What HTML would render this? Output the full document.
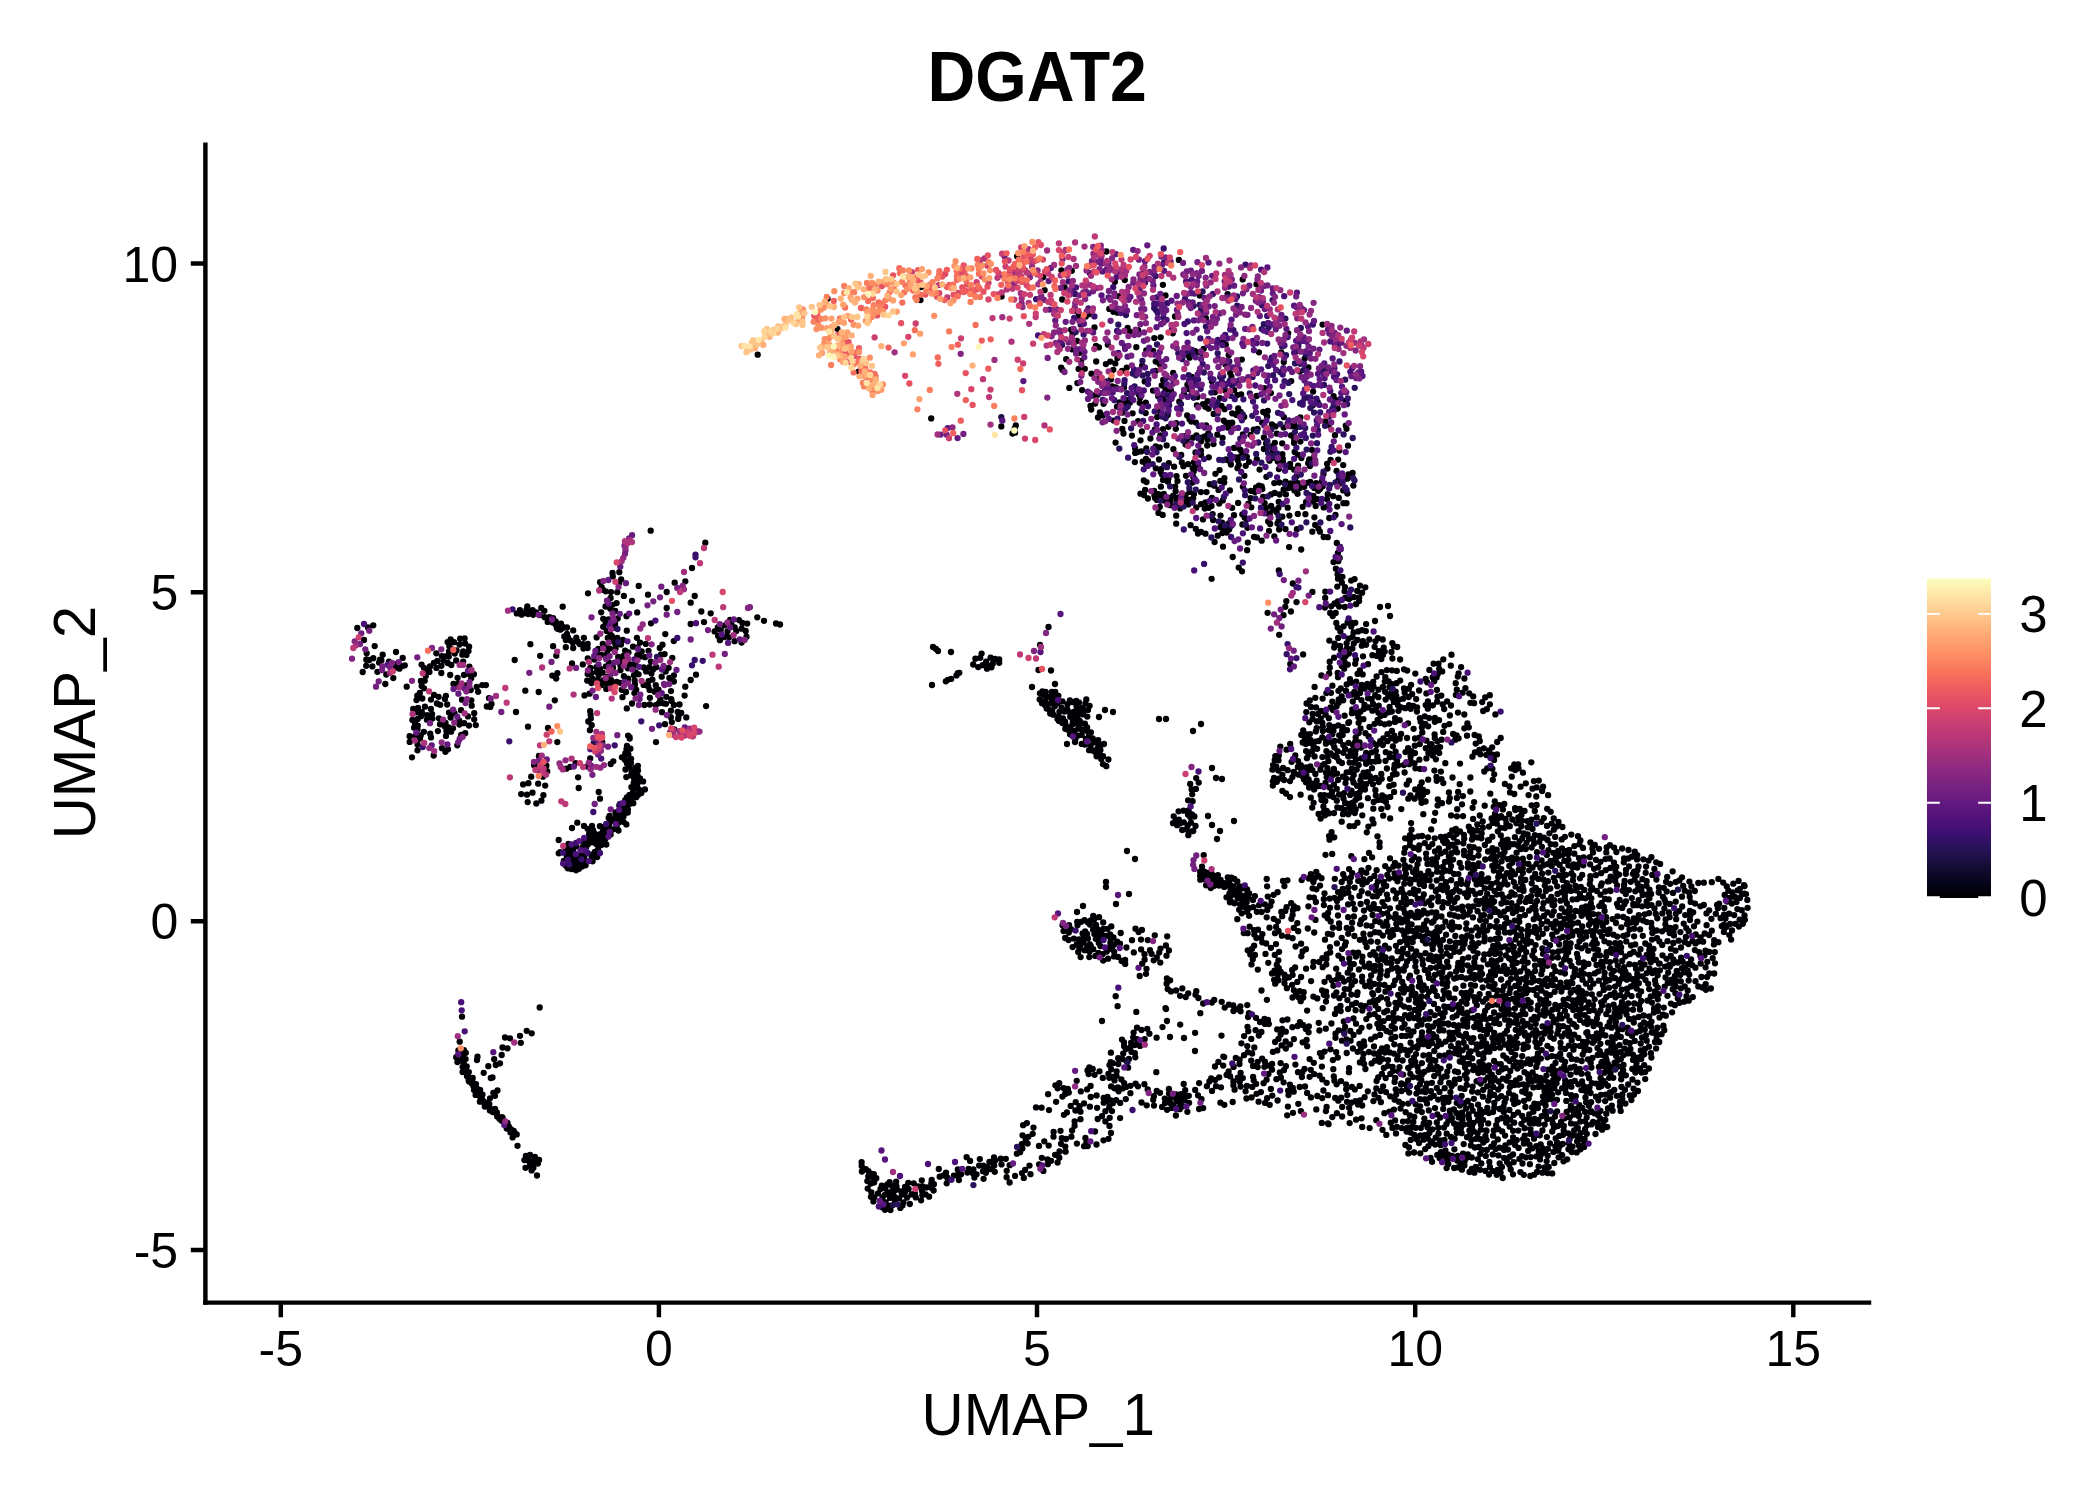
<!DOCTYPE html>
<html><head><meta charset="utf-8"><title>DGAT2</title>
<style>
html,body{margin:0;padding:0;background:#fff;}
body{width:2100px;height:1500px;overflow:hidden;font-family:"Liberation Sans",sans-serif;}
svg{display:block;}
text{font-family:"Liberation Sans",sans-serif;fill:#000;}
</style></head><body>
<svg width="2100" height="1500" viewBox="0 0 2100 1500">
<defs>
<linearGradient id="mg" x1="0" y1="1" x2="0" y2="0">
<stop offset="0.0000" stop-color="#000004"/>
<stop offset="0.0500" stop-color="#06051a"/>
<stop offset="0.1000" stop-color="#140e36"/>
<stop offset="0.1500" stop-color="#251255"/>
<stop offset="0.2000" stop-color="#3b0f70"/>
<stop offset="0.2500" stop-color="#51127c"/>
<stop offset="0.3000" stop-color="#641a80"/>
<stop offset="0.3500" stop-color="#782281"/>
<stop offset="0.4000" stop-color="#8c2981"/>
<stop offset="0.4500" stop-color="#a1307e"/>
<stop offset="0.5000" stop-color="#b73779"/>
<stop offset="0.5500" stop-color="#ca3e72"/>
<stop offset="0.6000" stop-color="#de4968"/>
<stop offset="0.6500" stop-color="#ed5a5f"/>
<stop offset="0.7000" stop-color="#f7705c"/>
<stop offset="0.7500" stop-color="#fc8961"/>
<stop offset="0.8000" stop-color="#fe9f6d"/>
<stop offset="0.8500" stop-color="#feb77e"/>
<stop offset="0.9000" stop-color="#fecf92"/>
<stop offset="0.9500" stop-color="#fde7a9"/>
<stop offset="1.0000" stop-color="#fcfdbf"/>
</linearGradient>
</defs>
<rect width="2100" height="1500" fill="#fff"/>
<g id="pts" fill="none" stroke-linecap="round" stroke-width="6.3">
<path stroke="#000004" d="M1001.6 296.6h0M921.1 287h0M920.5 300.1h0M858.6 371.7h0M837.4 328.8h0M931.2 418.4h0M1001.3 426.4h0M1015.8 425.4h0M1015.1 432.7h0M1014.7 428.5h0M1012.5 433.5h0M757.7 354.7h0M827.6 298.7h0M1189.6 357.7h0M1298.8 483.3h0M1295.5 481.9h0M1290.6 483.3h0M1123.9 404.9h0M1294.5 490.5h0M1162.2 398h0M1299.8 488.1h0M1124 401.7h0M1225.8 344.7h0M1129.8 402.8h0M1220.5 515.6h0M1135.1 448.2h0M1186.1 354.6h0M1276.6 512.2h0M1085.8 316.6h0M1279.3 482.5h0M1339.8 483.5h0M1304.2 486.8h0M1185.1 503.7h0M1209.8 484.2h0M1126.8 367.6h0M1096 345.9h0M1304.7 358.6h0M1188.3 504.4h0M1110.9 379.4h0M1244.2 417h0M1088.8 314.2h0M1196.4 467.8h0M1213.1 520h0M1230.2 373.1h0M1140.2 397.8h0M1288.5 488h0M1103 415.5h0M1159.8 507h0M1263.1 496.9h0M1176.5 476.1h0M1207.6 401.2h0M1193.7 471.4h0M1246.9 456.9h0M1222.7 342.2h0M1315.2 524.9h0M1170.1 500.8h0M1313.4 496h0M1142.2 365.7h0M1263.9 449h0M1247.4 527.8h0M1343.2 490.4h0M1299.8 371.6h0M1113.6 420.6h0M1170.9 390.3h0M1205.5 502.5h0M1140.5 493.7h0M1188.4 353.7h0M1313.3 501.6h0M1314.4 517.3h0M1178.9 259.9h0M1296.4 476.5h0M1269.5 460.7h0M1329.3 518h0M1170.2 505.2h0M1275.5 426.4h0M1176.2 515.7h0M1265.9 508h0M1155.8 468.3h0M1274.7 492.9h0M1188.6 389.1h0M1317.6 402h0M1327.1 463.8h0M1144.7 381.4h0M1091.2 409.5h0M1228.5 460.4h0M1272.8 451h0M1176.2 523.7h0M1159.7 364.1h0M1162.9 284.8h0M1312.6 405.6h0M1205.3 406.8h0M1185.9 501.1h0M1084.8 368.8h0M1098 417.5h0M1079.8 352.8h0M1168.4 426.8h0M1146.3 350.4h0M1282.9 461.6h0M1122.5 412.6h0M1230.9 464.5h0M1134.9 462.1h0M1318.2 490.8h0M1242.9 434.3h0M1153 390.6h0M1297.6 493.8h0M1072.6 334h0M1222.4 533.1h0M1192.9 437.7h0M1078.2 318.2h0M1138.1 330.2h0M1297.7 454.6h0M1174.1 466.7h0M1158.2 396.2h0M1296.6 351.3h0M1082.1 390.1h0M1270.9 458.4h0M1191.6 376.9h0M1328.7 425.3h0M1251.3 507.3h0M1143.9 271.9h0M1197.3 352.4h0M1249.1 461.8h0M1283.7 427.6h0M1169.7 498h0M1187.2 415.5h0M1267.1 416.5h0M1262.3 489h0M1154.1 491h0M1119.6 402.4h0M1234.2 390.1h0M1189.5 491.9h0M1225 390.2h0M1291.5 426.2h0M1317.4 499.1h0M1145.8 402.6h0M1336.8 543h0M1294.2 440.1h0M1164.2 500.5h0M1187.4 384.7h0M1124.5 420.9h0M1237.3 395.1h0M1162.7 514.9h0M1168.8 463.1h0M1154.8 429.6h0M1232.2 422.7h0M1276.8 433.7h0M1272.5 509.5h0M1199.7 295.6h0M1338.6 479.6h0M1313.2 458.1h0M1156.8 499.9h0M1095.2 403.6h0M1069.3 387.9h0M1161.7 385.3h0M1346.5 428.8h0M1125.6 399.7h0M1161.4 468.8h0M1213.7 413.9h0M1193.9 462.3h0M1228 427.7h0M1211.9 381.3h0M1143.8 480.5h0M1227.6 526h0M1217.7 535.7h0M1282.3 516.7h0M1185.5 495.3h0M1158.5 512.9h0M1195.5 452.5h0M1285.9 494.4h0M1274.8 442.8h0M1264.6 503.1h0M1323.5 474h0M1352.6 472.9h0M1090.5 405.9h0M1301.4 458h0M1155.7 446.5h0M1225.5 364.5h0M1078.6 368.9h0M1283.9 417.2h0M1222.8 500.4h0M1253.7 429.6h0M1271.9 424.3h0M1173.2 373h0M1115.6 442.6h0M1316.2 483.1h0M1192.5 482.5h0M1240.9 456.2h0M1191.3 421.5h0M1140.5 440.3h0M1309.9 466.1h0M1214.3 485.7h0M1072.4 349.4h0M1266.1 443.5h0M1217.3 434.7h0M1201.9 437.6h0M1219.9 398.2h0M1211.9 497.9h0M1189.6 419.5h0M1219.2 503.5h0M1188.1 464.1h0M1172.8 333.3h0M1195.2 465h0M1228.9 422.8h0M1078.7 313.6h0M1224.6 409.2h0M1186.9 439.3h0M1242.9 486.8h0M1285.5 529.1h0M1327.7 494.2h0M1186 475.8h0M1269.8 514.2h0M1099.9 412.4h0M1196.5 435.5h0M1256.7 396h0M1175.6 491.2h0M1307.2 482.8h0M1075 310.6h0M1335.5 515h0M1346.5 503.2h0M1167.7 415h0M1314.3 487.9h0M1319.9 531.7h0M1296.9 529.2h0M1162.1 474.4h0M1113.4 311.8h0M1219.6 470.1h0M1145.1 490h0M1154.4 495.2h0M1159.9 497h0M1231.4 376.3h0M1176.5 500.5h0M1218.5 489.9h0M1138.8 394.6h0M1279.6 494.5h0M1312 450h0M1173.1 496h0M1271.1 506h0M1248.4 503.6h0M1138.1 421.1h0M1323.7 507.4h0M1163 429.1h0M1159 459.5h0M1240.6 412h0M1204.9 436.5h0M1266.1 414.1h0M1238.8 464.8h0M1282.2 443.3h0M1064.6 287.1h0M1203 404.1h0M1263.9 437.5h0M1277.8 461.4h0M1098.9 377.8h0M1282.4 454.1h0M1220.4 527.2h0M1282.8 458.6h0M1232.1 507.9h0M1207.8 439.8h0M1279.1 529.5h0M1096.2 361.5h0M1184 393.8h0M1113.3 369.8h0M1112.1 386.3h0M1298.1 465.6h0M1234 515.2h0M1188 499.6h0M1345.9 401h0M1109.3 308.9h0M1325.4 421.4h0M1183.4 466.2h0M1198 533.6h0M1144 495h0M1294.7 451.9h0M1348 445.7h0M1333.6 396.1h0M1270.9 393.1h0M1291.1 435.4h0M1283.6 489.7h0M1140.8 393.1h0M1201.1 504.2h0M1228.7 355.2h0M1175.8 428.8h0M1124 387.5h0M1166.6 445.4h0M1274.3 483.1h0M1222.1 522.7h0M1123.5 433.5h0M1285.5 481.7h0M1201 455h0M1137.6 452.1h0M1229.9 490.4h0M1135.2 452.9h0M1330.6 459.8h0M1062.2 299.5h0M1160.7 472.1h0M1237.5 468.2h0M1327.8 506.2h0M1250.6 498.2h0M1173.4 449.2h0M1136.3 347.2h0M1215 392.3h0M1220.3 480.9h0M1141.9 431.4h0M1226.1 459.5h0M1197.5 397h0M1204.8 508.6h0M1291.2 487.4h0M1155.6 371h0M1237.8 412.8h0M1107.8 344.7h0M1163.2 379.9h0M1237.8 460.2h0M1099 347.3h0M1224.2 482.5h0M1281.2 352.3h0M1347.3 478.7h0M1227.6 294.1h0M1337.6 346.2h0M1195.8 528.9h0M1196.3 507.5h0M1322.6 324.6h0M1139.7 402.8h0M1244.6 517.4h0M1117 406.7h0M1201 450.7h0M1323.7 537h0M1256.8 459.1h0M1165.7 401.4h0M1206.1 425.3h0M1163.8 494h0M1338.2 459.6h0M1165.4 389.9h0M1180.2 508.4h0M1241.2 394.3h0M1222.6 437.8h0M1283.8 361.9h0M1129.8 331.7h0M1229.2 529.5h0M1044.6 290.2h0M1266.4 476.8h0M1212.6 514.1h0M1105.9 364.1h0M1179.3 401.7h0M1146 459h0M1175 316.5h0M1308.2 463.2h0M1177.5 481.1h0M1297.8 513.9h0M1167.9 481.7h0M1337.2 506.6h0M1231 427h0M1214.6 542h0M1193.8 383.6h0M1336.6 471h0M1315.7 506h0M1226.6 532.6h0M1145.7 413.1h0M1192.7 468.1h0M1228.7 523.5h0M1150.4 438.5h0M1278.9 469.1h0M1339.3 450.5h0M1146.1 464.2h0M1268.2 521.4h0M1124.8 280.1h0M1294 442.9h0M1348.4 474.4h0M1322.7 486.3h0M1275.5 458h0M1147.9 498.5h0M1176.2 423.2h0M1259.6 469.6h0M1117.4 357.9h0M1300.4 441.6h0M1278.4 507.8h0M1242.7 279.4h0M1337.7 408.6h0M1305.4 514.2h0M1223.5 529.8h0M1110.3 361.6h0M1256.1 487.4h0M1335 435.2h0M1158.5 494.1h0M1278.7 501.8h0M1309.2 459.5h0M1294.2 469.7h0M1333.2 496.2h0M1269.1 531h0M1200.9 492.1h0M1165.5 295.4h0M1117.4 312.7h0M1238.2 447.7h0M1236.1 457.4h0M1175.2 486.6h0M1181.8 462.5h0M1195.1 351.2h0M1263.2 411.9h0M1103.6 403.8h0M1106.1 386h0M1308.4 367.4h0M1224.4 478.1h0M1071.8 270.8h0M1264.6 388.1h0M1221.5 405.9h0M1168.4 478.7h0M1278.6 521h0M1320 489h0M1310.3 481.8h0M1211.5 506h0M1274.3 536.3h0M1345.8 425.7h0M1160.7 337.3h0M1338.8 497.9h0M1291.2 381.1h0M1061.4 270.3h0M1141.2 451.4h0M1256.9 537.4h0M1208.8 457.3h0M1208.8 507.8h0M1207.2 445.5h0M1240.5 450h0M1294.1 424.7h0M1142.7 461.7h0M1076.9 341h0M1146.3 448.4h0M1160.4 435.3h0M1250.5 434.9h0M1155.7 361.6h0M1193.2 498.2h0M1288.2 333.3h0M1122 371h0M1327.8 537.2h0M1017.1 256.3h0M1131.9 435.6h0M1148 461h0M1238.1 502.9h0M1242.3 514.3h0M1267.4 513.4h0M1261.7 486.3h0M1234 447.9h0M1257.6 428.9h0M1066.2 359.2h0M1093.3 395.4h0M1115.8 387.4h0M1205.9 318.2h0M1094.5 327.4h0M1155.1 498.1h0M1327.5 468.6h0M1122.3 428.9h0M1185.6 444.6h0M1154.3 338.1h0M1262 422.6h0M1181.2 454.9h0M1071.2 329.7h0M1296.3 427.2h0M1256.5 284.3h0M1160.1 411.4h0M1290.1 466.9h0M1215.4 473.8h0M1242.4 524.5h0M1223.8 420.7h0M1270.2 524h0M1267.8 411h0M1081 360.8h0M1353.4 485.6h0M1160.9 486.7h0M1254.8 491.9h0M1271 494.4h0M1106.4 251.5h0M1201 531.9h0M1318.4 528.6h0M1290.1 463.8h0M1195.9 422.6h0M1306.1 502h0M1043.3 277h0M1302.7 506.9h0M1097.7 394.7h0M1343.4 503.2h0M1208.3 433.3h0M1205.5 533.7h0M1322 481.3h0M1236.4 414.9h0M1206.5 492.1h0M1343.2 465.1h0M1114.9 281.8h0M1184.3 436.1h0M1197.9 465h0M1127.7 327.9h0M1289.4 515.6h0M1261.7 540.7h0M1238.2 408.3h0M1203.7 348.8h0M1213.5 444.1h0M1226.1 422.7h0M1313.1 391.6h0M1062.5 370h0M1132.6 413.3h0M1250.8 490.8h0M1312.3 531.7h0M1245.7 465.8h0M1091.5 373.7h0M1254 536.8h0M1115.3 363.4h0M1287.7 507.7h0M1196.9 405.3h0M1178.5 497.4h0M1335.6 400h0M1223 546.7h0M1247.8 542.6h0M1246.7 519.2h0M1153.2 350.8h0M1208.6 408.7h0M1146.5 482.1h0M1118.7 296.2h0M1077.4 383.1h0M1259 352.3h0M1061.1 367.6h0M1157.2 417.1h0M1244.4 475.8h0M1258.9 485.7h0M1327 499.2h0M1190.6 525.2h0M1193.2 476.8h0M1203 519.4h0M1347.4 493.6h0M1271.5 446.3h0M1163 479.9h0M1300.4 417.4h0M1194 494.1h0M1277.5 523.5h0M1244.2 452.8h0M1241.8 359.6h0M1201.2 441.3h0M1232.2 413.3h0M1159.7 447.4h0M1337.6 574.5h0M1335.9 568.7h0M1337.9 553h0M1339.7 558h0M1338.3 561.2h0M1333.5 562.1h0M1340 546.8h0M1351.4 622.7h0M1355.3 622.8h0M1357.2 591h0M1360 585.6h0M1347.6 622.5h0M1362.1 592.7h0M1330.2 613h0M1365.3 587.3h0M1345 587.1h0M1337.3 586.6h0M1324.9 607.6h0M1353.8 597.2h0M1325.3 591.6h0M1335.7 613h0M1344.8 607h0M1343.6 626.3h0M1351.2 580.6h0M1356.1 604.2h0M1354.6 579.1h0M1325.2 598h0M1349 599h0M1341.9 582.6h0M1342.4 576.8h0M1339.1 606.6h0M1359.1 601.1h0M1344.6 591.2h0M1345.2 597.9h0M1331.2 606.3h0M1338 578.7h0M1337.9 601.3h0M1351.3 626.5h0M1359.2 597.5h0M1334.6 603.5h0M1332.7 616.1h0M1380 607h0M1388 606h0M1390 616h0M1375 621h0M1278.8 570.4h0M1292.8 583.5h0M1312.4 591.9h0M1296.5 602.1h0M1286.3 601.2h0M1285.3 606.8h0M1290.9 611.5h0M1267.6 612.8h0M1283.5 615.2h0M1279.2 634.8h0M1303.1 654.4h0M1211.6 578.8h0M1238.7 567.6h0M1242 571.3h0M1232.7 557h0M1247.1 550.2h0M1289.1 547.1h0M1301.2 549.5h0M1290.3 663.9h0M1427.2 682.3h0M1348.9 653.6h0M1409 705.2h0M1389.6 707h0M1347 648.1h0M1432.8 705.3h0M1346.6 643.3h0M1437.2 701.7h0M1333.3 744.3h0M1345.7 656h0M1368.7 736.5h0M1316.7 721.4h0M1414.5 763.3h0M1409.3 764.2h0M1373 703.9h0M1320.8 718.3h0M1328.7 730.1h0M1378.8 782h0M1377.6 720h0M1336.6 706.2h0M1353 745.2h0M1318 713.9h0M1330.6 707.3h0M1378.4 712.8h0M1333.7 755.8h0M1316.7 780.7h0M1294.4 773h0M1385.1 691.8h0M1393.9 701.9h0M1388.5 712.3h0M1429.4 669.9h0M1320.6 795.2h0M1346.7 772.3h0M1413.6 728.8h0M1325.7 714.7h0M1306.6 703.5h0M1336.8 788.8h0M1368 756.4h0M1370.7 781.1h0M1344.3 661.4h0M1348.3 814.3h0M1419.8 744.1h0M1434.2 681.2h0M1310.2 739.6h0M1397.8 705.1h0M1375.7 777.9h0M1398.7 699.8h0M1306.9 758.2h0M1428.4 753h0M1329.3 725.1h0M1355.9 659.4h0M1323.5 812.1h0M1278.4 770.5h0M1380.2 741.2h0M1410.5 760.6h0M1343.4 752.8h0M1361.3 758.5h0M1439.2 753.1h0M1357.6 673.9h0M1348.5 742.8h0M1355.9 759.5h0M1356.2 681.6h0M1359.9 670.4h0M1361.8 685h0M1276.8 781.8h0M1350.5 772h0M1398.3 765.3h0M1337.7 751.5h0M1432 749.6h0M1326.4 751.2h0M1425.7 678.8h0M1306.3 775.2h0M1313.6 746.5h0M1325.8 739.4h0M1358.3 716.9h0M1371.6 699.2h0M1415 753.1h0M1312.1 751.1h0M1344.2 668.7h0M1364.4 688.5h0M1273 765.1h0M1272.7 781.3h0M1372 768.2h0M1344.7 809.8h0M1360.5 689h0M1408.9 688.7h0M1327.4 757h0M1342.7 657.3h0M1301.3 734.9h0M1327.4 768.2h0M1374.6 723.8h0M1421.9 727.4h0M1322.4 757.1h0M1315.4 774h0M1342.8 727.2h0M1337.1 773.6h0M1295.3 755.4h0M1370.9 761.8h0M1351.8 694.5h0M1338.7 699.3h0M1434.6 734.3h0M1343.3 700.3h0M1367.4 684h0M1354.4 692h0M1359.2 797.5h0M1351.9 713.2h0M1451 705.5h0M1309.1 787.5h0M1383.3 738.4h0M1377.3 756.3h0M1392.9 746.3h0M1338.3 725.4h0M1372.9 784.3h0M1306.1 751.1h0M1340.8 650h0M1411.4 751.4h0M1363.4 719.2h0M1369.8 776.1h0M1298.7 774.7h0M1343.3 745.1h0M1353.7 806h0M1274.1 777.9h0M1387.5 741.2h0M1420.1 768.9h0M1404 688.5h0M1320.3 786h0M1315.1 741.6h0M1453.1 734h0M1401.2 707.3h0M1306 767.3h0M1356.8 696.9h0M1361.4 700.1h0M1311.7 783.7h0M1365 789.5h0M1389.4 687.1h0M1328.8 718.2h0M1356.3 713.1h0M1403.1 698.7h0M1373.3 808.7h0M1334.5 741h0M1457.8 676.6h0M1360.9 805.5h0M1405.5 752.1h0M1276.3 766.7h0M1361.6 776.2h0M1413.2 705.9h0M1360.3 711.7h0M1350.5 751.2h0M1361.1 789.5h0M1380.6 716h0M1303.2 730.3h0M1353.7 774.9h0M1376.6 744.9h0M1356.7 769.5h0M1419.3 737.7h0M1425.8 748.2h0M1417.1 707.3h0M1373.5 686.3h0M1308.4 755h0M1274.7 760.1h0M1419.1 690.5h0M1307.8 770.5h0M1427.8 708.7h0M1332.4 685.7h0M1360.5 780.5h0M1312.4 770.1h0M1323.4 806.4h0M1325.5 783h0M1339.9 740.8h0M1394.1 768.7h0M1395.1 718.1h0M1326.7 777.1h0M1436.8 747.8h0M1381.7 778.8h0M1314.6 756.4h0M1287.6 770.2h0M1406.7 784.4h0M1316.1 707.4h0M1315.3 697.8h0M1308.6 779.4h0M1309.2 742.9h0M1351.2 682.7h0M1375.2 695.1h0M1422.3 732.4h0M1434.9 717.9h0M1338.4 690.8h0M1304.9 738.6h0M1355.7 809.4h0M1331 692.8h0M1292.4 777.1h0M1393 774.7h0M1279.6 778.4h0M1391.1 693.1h0M1380.2 723.1h0M1325.9 743.7h0M1368.5 707.4h0M1347.8 664.6h0M1310.3 766.4h0M1290 781.1h0M1341.1 808.2h0M1280.3 746.6h0M1396.3 696.2h0M1389.7 757.2h0M1298.1 761.1h0M1322.6 698.6h0M1341.9 763h0M1378.3 697.2h0M1384.5 714.9h0M1390.3 796.9h0M1391.3 738h0M1393.6 784.6h0M1366.1 784.2h0M1381.3 774h0M1355.7 737.4h0M1431.6 744.1h0M1322.4 723h0M1352.8 701.5h0M1371.9 752.3h0M1382.9 687h0M1360 693.1h0M1408.7 697h0M1345.1 803h0M1339.2 735.3h0M1334 726.9h0M1341.8 666.1h0M1343 776.7h0M1375.4 790.2h0M1322.3 737.3h0M1407.2 670.6h0M1346.1 778.6h0M1424.7 716.3h0M1373.7 801.9h0M1378.1 799.9h0M1322.8 726.8h0M1344.6 715.7h0M1372.4 710.7h0M1334 813.1h0M1372.9 743h0M1389.2 723.5h0M1458 712.6h0M1355.5 800.1h0M1365.4 733.2h0M1365.7 776.7h0M1384.7 724.3h0M1394.3 735.7h0M1396.8 670.9h0M1358.7 733h0M1461.1 667.1h0M1396.5 683.2h0M1392 670.3h0M1382.2 795.3h0M1282.4 774.8h0M1440.1 747.1h0M1355.6 750.2h0M1378.4 689.7h0M1305.9 782.3h0M1395.6 751.7h0M1332.3 734.2h0M1434.8 721.8h0M1425.7 705.1h0M1437.5 696.6h0M1326 772.8h0M1415 738.5h0M1334.4 747.5h0M1349.4 807.3h0M1408.1 723.3h0M1329 741.7h0M1346.7 684.5h0M1416.9 711.5h0M1385.5 761h0M1278.5 760.4h0M1386.9 670.1h0M1338.1 780h0M1362.5 783.9h0M1441.3 695.6h0M1445.3 763.2h0M1351.6 755.6h0M1350 679.2h0M1427.9 701.4h0M1316.7 728.1h0M1366.1 763.8h0M1357.1 785.8h0M1415.4 768.3h0M1404.6 772.5h0M1368.1 698.2h0M1464.4 678.5h0M1284.1 780h0M1367.9 798.2h0M1398.4 710.8h0M1272.8 785.5h0M1320.5 769.7h0M1317.1 748.8h0M1325 815.3h0M1444.5 725.8h0M1432.7 677.5h0M1385.8 752.2h0M1324.4 795.1h0M1395 721.9h0M1399.7 720.2h0M1329.8 667.7h0M1342.2 730.6h0M1412.2 694.1h0M1341.7 696.4h0M1306.5 734.4h0M1394.1 791.9h0M1390 778.8h0M1381.3 808.9h0M1369.5 686.9h0M1385.6 797.3h0M1394.7 757.5h0M1310.8 797.7h0M1358.7 765h0M1311 707h0M1395.6 691.6h0M1348.2 756.3h0M1414.8 745.7h0M1375.9 750.8h0M1435.9 751.4h0M1394.6 764.7h0M1420.6 721.7h0M1314.1 789.4h0M1297.9 766.9h0M1369.5 726.9h0M1309.3 722.3h0M1428.2 726.3h0M1333.9 784.6h0M1371.7 689.5h0M1301.2 769.5h0M1365.9 760.3h0M1351.5 790.6h0M1458.6 673.3h0M1455.7 683.2h0M1395.6 740.6h0M1396.6 774.1h0M1362.7 674.4h0M1359.6 742.5h0M1382.4 800h0M1358.6 722.8h0M1286.6 749.7h0M1465.4 688.1h0M1439.2 668.8h0M1363.9 709h0M1388.6 681.3h0M1434.4 770.6h0M1384.8 681.6h0M1303.9 779.3h0M1355.9 794.2h0M1401.1 733.9h0M1346 691h0M1354.3 762.7h0M1433.6 663.7h0M1278.8 755.6h0M1360.5 728.5h0M1409 780.6h0M1455.9 694.9h0M1437.5 741.3h0M1312.2 807.6h0M1322.8 731.1h0M1337.7 673h0M1321.3 711h0M1392.4 698.2h0M1348.8 803.9h0M1364.5 705h0M1306.3 712.1h0M1345.1 749h0M1300.9 765.1h0M1329.7 661.7h0M1407 738h0M1320.6 818.6h0M1354.8 813.1h0M1348.3 722.9h0M1286 793.5h0M1332.9 775.1h0M1345.5 783.1h0M1339.1 794.5h0M1329.6 787.4h0M1456.8 689.7h0M1349.1 722.2h0M1324.2 764.1h0M1275.3 756.1h0M1352.5 802.6h0M1318.7 741h0M1352.3 778.8h0M1355.2 754.2h0M1375.9 708.8h0M1351.9 768.6h0M1333.9 768.9h0M1355.2 742h0M1316.9 786.3h0M1321.4 675.4h0M1391.9 730.9h0M1389.3 786.2h0M1321.5 800h0M1419.9 718.2h0M1410.6 756.2h0M1329.6 772.7h0M1368 664.2h0M1373.2 681.8h0M1338.6 702.7h0M1397.1 761.1h0M1462.6 692.7h0M1290 797.1h0M1438.5 663.7h0M1405.3 708.2h0M1388.3 696.1h0M1352.3 709.4h0M1404 669.3h0M1432.7 755.5h0M1367.7 772.1h0M1404.6 692.6h0M1302.3 775.9h0M1313.6 802.8h0M1385.3 677.2h0M1342.7 735h0M1403.9 765h0M1436.6 677.6h0M1282.4 790.9h0M1300.6 794.7h0M1318.6 813.9h0M1437.6 674.3h0M1443.3 659.3h0M1343 814.2h0M1426.5 740.7h0M1290.2 744h0M1293.7 771.9h0M1283.1 768h0M1447.1 701.4h0M1328.4 761.2h0M1362.3 815.3h0M1363.6 772.7h0M1330.5 753.4h0M1340.8 688.5h0M1385.9 802h0M1359.5 792.6h0M1389.6 753.6h0M1442.2 671.4h0M1386.9 768.5h0M1272.4 769.7h0M1349.6 762.6h0M1315.8 731.4h0M1329.2 673.5h0M1329.1 813.3h0M1326.7 810.8h0M1339 761.1h0M1302.7 742.5h0M1320.8 766h0M1333.4 730.9h0M1333.3 797.1h0M1399.7 738.7h0M1378.7 761.2h0M1350.2 794.9h0M1344.1 793.1h0M1329.3 795.5h0M1400.2 680.6h0M1325.3 801h0M1312.6 718.8h0M1387.4 734.1h0M1449.9 715.4h0M1312.7 713.9h0M1410.7 708.8h0M1416.2 699.1h0M1444.2 709.1h0M1415.3 673.6h0M1347 730.2h0M1434.8 737.9h0M1309.9 734.1h0M1426.4 758.4h0M1391.9 684.1h0M1291.6 761.9h0M1309.8 700.5h0M1353.5 782.5h0M1332.3 701.6h0M1425.3 724h0M1408.1 748.1h0M1449.3 724.1h0M1341.7 821.7h0M1411.1 684.8h0M1333 709.9h0M1336.8 800.7h0M1436.9 690h0M1338 677.2h0M1314.6 686.9h0M1385.6 699.6h0M1426.4 693.4h0M1305.8 744.1h0M1430.1 745.2h0M1419.4 759.7h0M1435.9 759.3h0M1332.1 791.7h0M1429.2 718.1h0M1381.5 672.1h0M1442.7 704.4h0M1443.2 731.9h0M1355.2 663.8h0M1326.4 693.1h0M1336.8 757.4h0M1366.1 752.9h0M1382.8 745h0M1337.3 807.5h0M1450.8 665.7h0M1451.5 654.7h0M1439.1 720.2h0M1361.1 747.5h0M1375.8 795.4h0M1376.6 676.5h0M1343.5 798.4h0M1441.6 739.7h0M1391.8 711.5h0M1375.3 761.5h0M1351 811.4h0M1429.3 705.4h0M1378.7 705.6h0M1400.1 659.5h0M1376.8 655.9h0M1353.6 632.4h0M1363 641.2h0M1353.8 643.5h0M1352.5 636.8h0M1378.8 651.1h0M1392.4 658.5h0M1375.5 641.3h0M1348.4 638.7h0M1384.7 651.6h0M1374.6 646.8h0M1338.2 637.9h0M1382.7 639.5h0M1362.1 630.2h0M1365.8 631.1h0M1357.5 640h0M1334.6 643.6h0M1334.2 647.6h0M1336.3 622.9h0M1383.7 647.6h0M1334.1 657.7h0M1337.7 627.6h0M1366.1 644.8h0M1340.4 631.6h0M1352.4 648.5h0M1358.2 631.4h0M1381.3 659.1h0M1392.3 643.1h0M1391.5 652h0M1369.3 639.5h0M1340 645.8h0M1361.8 645.7h0M1377.9 638.2h0M1329.3 640.6h0M1372.4 655.2h0M1393.8 646.2h0M1382.9 654.9h0M1366.1 624.1h0M1363 656.3h0M1397.2 647h0M1409.9 840.8h0M1436.7 780.8h0M1410 835.1h0M1480.4 754.3h0M1413.1 837.4h0M1474.1 703.2h0M1379.6 846.9h0M1436.4 777h0M1543.1 786.7h0M1472.4 756.7h0M1547.2 808.8h0M1486.4 755h0M1483.8 748.3h0M1492.3 754.7h0M1414.6 798.7h0M1410.4 795.3h0M1417.9 795.4h0M1442 803.2h0M1462.9 796.1h0M1411.5 829.7h0M1428 837.3h0M1405.1 838.3h0M1479.4 749.8h0M1542.1 791h0M1441.5 779.1h0M1495.4 714.4h0M1550.7 811.8h0M1482.2 702.1h0M1437.8 799.3h0M1458.1 792h0M1422.9 795h0M1364.4 859.2h0M1497 754.4h0M1422.1 836h0M1421.1 798.8h0M1462 804.3h0M1470.4 702.8h0M1468.8 727.3h0M1387.5 807h0M1492.4 768.8h0M1351.3 856.2h0M1534.8 811h0M1423.3 814.2h0M1475.7 743.6h0M1494.2 774.3h0M1490.3 793.7h0M1427.2 791.8h0M1484.3 771.5h0M1440.9 771.6h0M1504.3 804h0M1464.3 728.3h0M1525.8 783.3h0M1489.1 750.5h0M1418.7 791.8h0M1434 820.8h0M1479.8 741h0M1372.4 819.3h0M1533.9 781.1h0M1499.3 805.1h0M1383.2 815.7h0M1548.1 795.2h0M1484.7 805.7h0M1377.5 836.3h0M1470.3 791.5h0M1431.2 829.4h0M1373.5 823.4h0M1401.3 809.1h0M1509.5 786.5h0M1524.5 810.9h0M1372.1 857.3h0M1536.7 787.4h0M1485.2 697.4h0M1473.1 818.9h0M1479.8 815.5h0M1467.4 723.4h0M1492.8 779.8h0M1357.5 822.7h0M1510 792.4h0M1531.6 805.3h0M1415.2 789.4h0M1422.9 789.7h0M1421.6 802.8h0M1518.5 768.4h0M1504.9 783.9h0M1463 816.1h0M1420 786.7h0M1470.4 777.5h0M1390.2 818.4h0M1425.6 801.5h0M1474.1 802.1h0M1379.6 842.5h0M1329.5 839.7h0M1460 763.6h0M1455.3 739.7h0M1451.1 815.4h0M1428.2 779.7h0M1421.7 782.4h0M1413.7 847.9h0M1354.1 826.1h0M1331.6 832.1h0M1435.2 812.8h0M1366.8 832.3h0M1520.6 786.7h0M1514.3 764.5h0M1514.3 794h0M1494.8 801.3h0M1515.1 808.2h0M1492.2 747.3h0M1483.2 711h0M1368.4 826.6h0M1332.2 853.9h0M1528.6 795.1h0M1411.1 823.1h0M1448.9 801.6h0M1536.3 796.5h0M1449.8 798.1h0M1532.5 788.7h0M1515.2 770h0M1472.6 807.8h0M1523 772.7h0M1334.3 837.3h0M1493.7 806.8h0M1458.6 738.3h0M1489.8 695.2h0M1456.9 797.9h0M1478.8 736.5h0M1538.8 780.6h0M1473.2 696.4h0M1408.3 798.7h0M1469.2 693.3h0M1418.2 836.3h0M1536.6 805h0M1457.2 809.2h0M1329.1 836.1h0M1511.1 768.3h0M1487.2 768.4h0M1489.9 704.3h0M1452.5 777.5h0M1456.9 816.3h0M1459.7 784.2h0M1325.5 854.8h0M1443.3 783.1h0M1502.9 809.4h0M1494.1 759.9h0M1474.6 735h0M1409.9 845.2h0M1518.2 764.3h0M1405.1 848.1h0M1511.8 776.7h0M1467 735.7h0M1369 852.9h0M1456.6 735.3h0M1531.3 762.3h0M1448.9 792.4h0M1497.2 742h0M1486.8 709.2h0M1474.9 752.4h0M1349.6 826.2h0M1437.6 805.4h0M1464.3 714.5h0M1500.7 737.9h0M1552.4 1084.5h0M1440.8 950.6h0M1505.1 932.4h0M1566.1 1084.1h0M1503.7 928h0M1664.4 908.3h0M1548.4 1086.5h0M1449.1 1052.6h0M1471.4 1042h0M1569.6 1117.4h0M1496.3 1019.1h0M1499.7 927.2h0M1585.1 1121.3h0M1431.9 1043.1h0M1586.1 993.7h0M1561.1 1121.9h0M1366.8 882h0M1557.9 1078.5h0M1526.3 993.1h0M1671.8 983.1h0M1676.3 980.9h0M1451.5 853.2h0M1609.9 845.1h0M1449.8 941.3h0M1550 995.1h0M1393.4 1013h0M1611.9 1067h0M1599 1087.2h0M1478.5 998.8h0M1441.7 956.3h0M1313.5 962h0M1640.1 929.4h0M1564.6 1118.3h0M1365.3 942.5h0M1592.9 1037.2h0M1574.2 1034.7h0M1545.9 993.5h0M1462 969.9h0M1531.5 982.3h0M1629 1019h0M1474.5 978.8h0M1387 1047.1h0M1666.6 958.8h0M1512.9 913.1h0M1689.4 881.6h0M1598.1 950.1h0M1605.8 1057.6h0M1494 1094.9h0M1409.2 978h0M1370.9 941.5h0M1484.7 908.7h0M1489.4 954h0M1587.3 1032.1h0M1605.6 961.3h0M1458.4 1043.5h0M1458.9 1025.3h0M1536.4 1058.2h0M1394.3 1044.3h0M1533.9 1123.3h0M1546 999.4h0M1484.7 1111.8h0M1484.5 936.9h0M1360.2 874.2h0M1621.8 989.6h0M1467.7 965.4h0M1578.4 987.6h0M1313.1 966.8h0M1572.5 1146.6h0M1637.4 870.3h0M1547.7 1155.7h0M1557.9 1126h0M1480.3 1139.2h0M1638.8 915.2h0M1478.1 1104.7h0M1574.1 990h0M1460.5 1088.2h0M1449.9 1110.7h0M1576.4 1072.1h0M1380.5 974.6h0M1628.2 1084.5h0M1553.8 877.8h0M1384.8 1052.6h0M1494.1 1012.5h0M1453.3 1038.7h0M1388.1 931.7h0M1472.1 1091.6h0M1325 939.7h0M1564.3 860.8h0M1492.5 1081.1h0M1362.5 884.5h0M1675.8 913.8h0M1638.4 919.6h0M1546.2 890.1h0M1554 1127.4h0M1359.4 895.9h0M1626.6 1014.6h0M1524.7 1135.6h0M1499 872.6h0M1498.7 1072.1h0M1400.2 999.1h0M1504.7 1033.7h0M1477.9 1092.4h0M1425.7 1087.7h0M1565.1 1061.9h0M1680.8 981.3h0M1581.5 1073.7h0M1479.4 1062.2h0M1392.6 930.1h0M1350.3 1031h0M1477.4 837.4h0M1530.5 1026.3h0M1497.5 967.2h0M1714.2 940.2h0M1602.9 985.3h0M1558.3 1150.7h0M1490.7 1017.9h0M1623.1 1070.2h0M1550.3 1026.9h0M1629.8 1095.4h0M1505.2 996.2h0M1633.8 918.4h0M1589.6 1087h0M1661.6 1034.2h0M1609.5 929.3h0M1484.9 845h0M1383.9 1068h0M1632.9 873.8h0M1549.4 833.3h0M1631.9 856.7h0M1349.3 958.5h0M1418.8 859.5h0M1464.4 1165.4h0M1433.4 1069.2h0M1410.5 1132.5h0M1561.3 1069.2h0M1516.1 973.2h0M1459.7 863h0M1579.4 911.5h0M1530.7 1009h0M1676.7 970.9h0M1621 952.1h0M1579.4 941.3h0M1429 1031.3h0M1457.8 1029.7h0M1609.7 858.5h0M1440.1 1140.4h0M1456.6 1015.5h0M1501.4 817h0M1504.2 1157.9h0M1564.9 973.5h0M1536.3 1146.1h0M1485.8 921.2h0M1449.7 862h0M1416.4 875.1h0M1448.4 1120.8h0M1529.1 910.6h0M1600.9 885.7h0M1487.2 930.3h0M1480.1 920.1h0M1524.5 1072.2h0M1651.1 893.9h0M1532.3 955.5h0M1472.7 1110.7h0M1493.1 1086.9h0M1641.1 991.4h0M1531.6 1019.5h0M1627.2 1009.6h0M1391.9 968.7h0M1353.8 964.1h0M1440.4 1082.3h0M1411.6 1065.2h0M1411.1 948.7h0M1676.2 919.2h0M1479.7 930.5h0M1536.6 995.1h0M1510.9 979h0M1445.4 1150.3h0M1553.4 1151.9h0M1577.3 867.5h0M1634.3 1003.4h0M1373.6 952.1h0M1530.7 1002.5h0M1428.6 1069.6h0M1427.5 1127.2h0M1344.8 989.1h0M1472.6 834.8h0M1635.2 944.4h0M1550.3 1091.3h0M1534.7 958.7h0M1440.2 945.6h0M1319.2 962h0M1403.4 859.8h0M1571.7 1040.2h0M1461.4 1008.6h0M1532.6 1072.4h0M1405.9 873.7h0M1443 890.1h0M1593 852.4h0M1456.1 971.4h0M1620.9 1074.2h0M1326.1 991.6h0M1490.4 1092.2h0M1383.7 1021.1h0M1499.2 1015.5h0M1485.4 1136h0M1470.5 947.6h0M1647.4 1024.2h0M1571.5 873.4h0M1428.5 1045.9h0M1585.1 1111.9h0M1507 1030.6h0M1401.4 958.2h0M1494.6 909.1h0M1468.9 1063.8h0M1435.9 891.2h0M1561.6 1059.5h0M1401.6 1128.1h0M1431.6 886.4h0M1505.1 946.3h0M1636.7 988.6h0M1460.2 942.7h0M1658.7 892.5h0M1608.4 1010.2h0M1695.7 934.5h0M1587.2 1125.1h0M1434.2 1076.1h0M1615.1 978.2h0M1480.7 1046.3h0M1493.8 870.5h0M1472.2 1058.4h0M1646.6 881.2h0M1508.2 983.1h0M1457.4 1160.7h0M1513.8 1040.1h0M1617.3 936.6h0M1459.9 1105.5h0M1633 1009.7h0M1523.4 1084.3h0M1634.9 964.8h0M1402.8 969.2h0M1494.3 1102.8h0M1472 1010.3h0M1556.5 1083.2h0M1476.3 1049.6h0M1438.3 1073h0M1600.4 1010.4h0M1387.3 925.7h0M1496.1 948.9h0M1596.2 1023.1h0M1673.1 963.3h0M1536.3 1066.9h0M1432.3 844.1h0M1577.9 999.4h0M1656.4 879.6h0M1524.5 846.6h0M1675.7 882.1h0M1712.7 958.1h0M1582.3 1107.9h0M1523.5 1048.9h0M1529.7 857h0M1575.8 1096.2h0M1476.6 884.4h0M1462.8 1025.5h0M1497.8 1139.4h0M1649.5 889.7h0M1583.8 962.4h0M1458.3 962.8h0M1505.1 1135.6h0M1514.2 1104.1h0M1632 1035.8h0M1547.5 840h0M1542.4 1148.2h0M1646.1 866.6h0M1522.8 1010.3h0M1543.5 865.2h0M1493.4 1042.9h0M1605.7 870.2h0M1431.9 922.7h0M1349.1 989.1h0M1667.5 941.2h0M1500.8 1064.1h0M1621.3 978.8h0M1471.6 930.6h0M1584.4 1142.4h0M1516.6 852.7h0M1563.6 999.8h0M1606.7 847.4h0M1407.4 922.2h0M1420.8 1127.9h0M1457.8 966.8h0M1329.7 898.6h0M1364.3 1045.6h0M1526.9 1140.7h0M1611.6 974.1h0M1519.6 841.1h0M1467 884.4h0M1437 1046.2h0M1488.9 1113.1h0M1501.5 1009.1h0M1659.2 1042h0M1579.4 1105.2h0M1473.7 1066.1h0M1505.5 819h0M1486.6 1048.5h0M1567.7 1027.8h0M1465.1 1067.6h0M1680.9 988.3h0M1451.9 1118.2h0M1528.4 926h0M1584.4 889.9h0M1484 915.1h0M1497.1 990.4h0M1456.5 834h0M1503.4 857.1h0M1544.6 1090.9h0M1632.9 1054.6h0M1451 1046.2h0M1431.3 874.4h0M1550.3 888.5h0M1527.8 1047h0M1627.9 1033.1h0M1474.8 879.5h0M1487.8 1007h0M1423.5 1139.7h0M1485.1 1010.9h0M1432.3 1129.3h0M1492.3 866h0M1341.7 937.8h0M1553.4 1022.2h0M1571.8 1099.3h0M1421.9 1063.1h0M1483.4 1029.9h0M1601.1 873.2h0M1621.1 947.4h0M1341.9 978.1h0M1552.2 1095h0M1513.1 1137.3h0M1673 892.9h0M1620.8 1036.9h0M1551.7 866.1h0M1360.1 924.1h0M1423.6 985.4h0M1596.2 926.5h0M1540.8 1082h0M1362.2 981.4h0M1606.3 1014.2h0M1653.5 949h0M1468.5 957.4h0M1402.1 930.4h0M1684.7 986.3h0M1625.4 1103.6h0M1472.6 967.7h0M1514.1 952.5h0M1611.8 1105.7h0M1656.1 1048.4h0M1515.5 886.4h0M1418.8 986.5h0M1575.6 910.9h0M1417.6 1067.1h0M1404.9 865.1h0M1475.6 946.3h0M1464.6 1103.2h0M1577.8 1128h0M1414.7 894h0M1638.8 995.4h0M1468.6 890.1h0M1512.8 998.8h0M1527.2 1023.8h0M1522.5 1163.5h0M1580.4 1121.5h0M1515.3 1096.6h0M1453.9 1109.4h0M1629.5 929.5h0M1509.8 826.2h0M1361 1048.1h0M1427.8 933h0M1542.5 908.6h0M1547 978.6h0M1535.4 1041.9h0M1640.5 962.9h0M1516.3 1019.1h0M1473.7 847.2h0M1380.1 1022.7h0M1413.1 872.1h0M1511.4 972.5h0M1650.8 962.3h0M1520.3 949.8h0M1402.1 1019h0M1486.6 980.4h0M1547.5 1057.3h0M1570.3 926.8h0M1409.9 1115.5h0M1492.4 1038h0M1501.6 861.3h0M1481 967.6h0M1396 1008.3h0M1436.9 995.9h0M1561.4 964.5h0M1477.8 1016h0M1491.5 980.1h0M1483.4 926h0M1508.9 922.7h0M1331.9 980.6h0M1488 851.5h0M1479.6 994.2h0M1624.1 884.7h0M1445.3 851.6h0M1418.3 1014.6h0M1324.7 915.3h0M1428.8 1110.4h0M1594.1 868.8h0M1573.2 977.1h0M1581.7 1061h0M1602.2 1129.7h0M1695.4 967.7h0M1604.4 1072.7h0M1503.5 847.7h0M1447.4 982.6h0M1542.3 969.9h0M1478.3 1073h0M1415.2 1061.8h0M1686.5 996.1h0M1651.7 1032.6h0M1443.1 1016.9h0M1673.3 959.3h0M1558.5 1025.6h0M1478.8 904.2h0M1583 1042h0M1496.8 823.7h0M1663.4 1025.7h0M1405.7 898.5h0M1612.6 1110.7h0M1648.6 860.6h0M1528.9 989.8h0M1381.1 997.4h0M1556.5 826.6h0M1471.2 1105.9h0M1544.6 1015.5h0M1494.5 890.9h0M1526.9 1005.7h0M1501.9 884.6h0M1517.6 1024.2h0M1576.7 1152.4h0M1582.2 926.5h0M1452.7 1017.4h0M1575.1 1108.8h0M1510.3 1070.9h0M1339.4 998.2h0M1558.5 822h0M1468.8 1018.1h0M1418.6 849.6h0M1576.4 890.4h0M1446.1 934.7h0M1511.5 1051.9h0M1550 945.2h0M1355.9 956.6h0M1543.9 916h0M1459.2 1012.2h0M1486.5 1140h0M1544.9 1152.7h0M1635.4 1072.5h0M1409.2 1092.6h0M1484.1 1080.4h0M1595 939.5h0M1518.2 998.8h0M1420 981.7h0M1583.3 865.3h0M1618.6 983.9h0M1403.9 894.4h0M1602.8 925.9h0M1695.1 903.6h0M1599.3 906.1h0M1538.3 1086.9h0M1403 948.8h0M1699.1 952.1h0M1538.7 1123.7h0M1524.2 967.7h0M1599.8 1051.2h0M1554.1 900.2h0M1589.3 1050h0M1379.4 984.7h0M1654.4 869h0M1612.5 919.1h0M1551.9 915.2h0M1637 859.4h0M1561.8 1036.5h0M1503.5 1106.7h0M1621.9 1002.2h0M1467.2 1071.9h0M1607.9 1108.5h0M1353.1 952.7h0M1655 980.5h0M1664.3 1030.2h0M1586.1 1102.2h0M1527.7 962.6h0M1408.4 916.4h0M1450.9 1136.9h0M1386.5 1031h0M1581.9 991.2h0M1619 874.6h0M1517 935.2h0M1385.1 945.6h0M1543 1096.4h0M1426.8 920.6h0M1452.1 908h0M1379.9 922.2h0M1436.8 1087.9h0M1645.3 943.5h0M1490.1 926.1h0M1495 975.1h0M1637.9 889h0M1380.7 970.5h0M1480.5 971.5h0M1414.2 937.1h0M1649.1 945.6h0M1615.9 1021.8h0M1561.6 1018.4h0M1448.2 1023.4h0M1601.9 936.3h0M1644.3 1054.3h0M1472.3 942.7h0M1570.9 1105.8h0M1595.5 1134h0M1382.2 913.8h0M1469.5 1172h0M1508.4 1076.3h0M1511 844.2h0M1600.9 1094.8h0M1333.4 985.8h0M1428.9 992h0M1560.4 982.7h0M1466.2 928.8h0M1555.2 836.9h0M1418.2 890.6h0M1438.3 1127.7h0M1530.7 1157.1h0M1657.8 987.6h0M1692.6 940.8h0M1509.5 1042.4h0M1600 932.1h0M1457.9 1167.3h0M1562.9 950.3h0M1546.6 928.6h0M1542.8 933.8h0M1513.7 1162.2h0M1675 975.8h0M1609.9 890.3h0M1409.7 867.3h0M1398.3 971.8h0M1328.8 977.3h0M1418.3 1077.7h0M1478 935.5h0M1443.2 1108.9h0M1428 1025.8h0M1493.2 988.8h0M1499.1 887.7h0M1530.2 1063.9h0M1334 995.5h0M1484.7 888.4h0M1546 1028.4h0M1432 1038.4h0M1537.4 988.1h0M1413.9 1057.7h0M1385.7 1078.1h0M1660.1 863.9h0M1441.7 1078h0M1458.4 874.1h0M1424.8 1019h0M1424 885.9h0M1522.9 868.3h0M1555.5 1074.9h0M1569.6 1139.3h0M1574.7 972.5h0M1464 851h0M1557 1099.8h0M1587.7 907.6h0M1348.3 892.7h0M1637.1 1058.1h0M1400.4 1004.4h0M1419.7 883.9h0M1675.7 986.6h0M1481 1124.8h0M1411.7 986.8h0M1533.1 1033.2h0M1547.2 1119.1h0M1489.5 901.2h0M1604.7 930h0M1497.8 944.4h0M1501.1 947.5h0M1493.4 853h0M1455.7 1049h0M1628.6 975.5h0M1496.7 921.1h0M1530.4 1133.9h0M1376.6 1081h0M1640.2 1030.8h0M1430.4 1065.7h0M1505.3 1145.4h0M1638.8 983.2h0M1461.9 1112.6h0M1468 867.5h0M1509 1093h0M1467.3 1012.7h0M1545.6 1105.5h0M1564.3 1066.1h0M1340.5 1006h0M1572.3 1135.7h0M1473.2 1070.1h0M1562.2 1155.1h0M1431.9 1082.8h0M1517.5 927.3h0M1572.9 923.5h0M1539 890.9h0M1504.7 881.1h0M1398.4 1071.3h0M1627.9 1053.4h0M1611.7 952.8h0M1551.2 981.1h0M1369.5 967.7h0M1651.5 1021.6h0M1514.6 894.7h0M1386.9 894.6h0M1402.6 1060.5h0M1590.2 987.7h0M1525.6 986.4h0M1688.7 1000.7h0M1592.4 848.4h0M1507.1 1010.4h0M1460.8 1128.4h0M1462 937.1h0M1343.9 893.7h0M1565 899.7h0M1383 1027.8h0M1410.4 1035.6h0M1436.9 1066.6h0M1341.9 1040.7h0M1534.7 1118.9h0M1535.6 910.3h0M1581.6 948.3h0M1445.6 1041.6h0M1554.9 881.6h0M1539.8 961.1h0M1537 852.2h0M1611.6 1027.7h0M1431.9 897.7h0M1578.1 992.2h0M1454.9 1071.3h0M1495.6 927h0M1363.5 1054h0M1579.9 894.1h0M1562 848.4h0M1600.6 1077.9h0M1571.8 1152.1h0M1476.9 967.1h0M1436.7 880.4h0M1621.2 1079.3h0M1522.9 872.9h0M1640.5 949.2h0M1571.4 1086.7h0M1478.8 975.2h0M1581.1 931.1h0M1627.3 934.6h0M1548.2 900.5h0M1406.8 1089.3h0M1400 942.1h0M1663.8 1007.6h0M1504.6 1102.5h0M1619.1 1010.6h0M1349.8 882.1h0M1673.4 943h0M1655.8 913.9h0M1611.5 1052.7h0M1411.9 860.3h0M1410 893.1h0M1588.6 1002.5h0M1511.2 908.8h0M1544.8 885.6h0M1566.7 1112h0M1535 926.8h0M1368.5 867.8h0M1401.8 1035.9h0M1590.1 864.3h0M1394.9 878.1h0M1476.8 1005.2h0M1442.1 872.7h0M1520.4 1172.1h0M1687.7 990.4h0M1548.7 1167h0M1606.1 956.2h0M1401 988.8h0M1378.3 990.1h0M1570.6 1082.2h0M1469 1118.4h0M1579.8 1069h0M1442.2 983.5h0M1480 1025.2h0M1509 1048.4h0M1526.2 952.2h0M1507.4 884.6h0M1456.2 889.2h0M1480.7 979.5h0M1387.3 874.9h0M1537 900.9h0M1634.1 1018.3h0M1657.7 975.3h0M1649.5 968.6h0M1414.8 1009.8h0M1396.9 928.9h0M1500.3 854.6h0M1709.1 935h0M1483.4 1058.2h0M1514.6 957.1h0M1483.9 1015.3h0M1527.7 999.8h0M1504.1 966h0M1596.9 1018.4h0M1563.8 887.1h0M1563.1 1134.8h0M1515.6 1002h0M1578.3 1084.3h0M1541.8 1050.1h0M1504.5 852h0M1393.6 985.1h0M1464.8 1075.2h0M1481.4 838.3h0M1540.7 1144.5h0M1541.6 990.7h0M1709.3 973.5h0M1359.8 939.8h0M1495.5 939h0M1506.5 973.8h0M1616.8 1095.8h0M1523.8 1174.8h0M1534 1138.7h0M1489.3 1162h0M1510.1 932.5h0M1634.1 936.3h0M1422.4 990.3h0M1542.1 873.6h0M1704.7 933.5h0M1501.5 903.5h0M1421.5 1091.4h0M1543.8 818.1h0M1540.3 1077.9h0M1459.4 1078.9h0M1372.6 915h0M1351.6 984.9h0M1592.3 907.6h0M1496.8 961.2h0M1596.8 890.9h0M1500.5 959.2h0M1459.5 891.5h0M1394.9 862.8h0M1348.1 904.4h0M1547.5 985.9h0M1587 1007.5h0M1449.4 926.1h0M1552.1 1119.4h0M1421.8 1036.6h0M1531.4 819.7h0M1516.3 1036.9h0M1636.5 1063.1h0M1410.9 1014.3h0M1569.7 907.8h0M1467.2 1026.7h0M1502.2 1131.4h0M1498.3 932.8h0M1684.7 890.7h0M1617.1 885.4h0M1571 1123.4h0M1596.8 1033.5h0M1464 996.4h0M1513.7 946.9h0M1446.9 842h0M1562.6 1143.9h0M1484.3 941.3h0M1419 1040.6h0M1582.2 875h0M1517 858.9h0M1654.1 1008.5h0M1667.5 995.8h0M1462.4 964.7h0M1502.7 1178h0M1596.5 920.6h0M1603 1124.2h0M1405.7 1112.2h0M1483.3 1142.5h0M1468.7 857h0M1501.7 1118.2h0M1617.2 1034.1h0M1539.6 1043.3h0M1588.9 925h0M1509.4 896.6h0M1572.6 899.5h0M1615.2 943.2h0M1396.2 1094.4h0M1444.7 1012.5h0M1404.6 1024.1h0M1326.6 996.2h0M1477.8 1159.1h0M1614.7 1013.1h0M1460.8 879.9h0M1425 880.7h0M1573.4 1049.7h0M1530.5 1129.1h0M1436.3 967.5h0M1464.6 893.3h0M1516.4 993.5h0M1463.4 985.7h0M1338.4 974.7h0M1390 858.3h0M1419.3 845.5h0M1527.5 943.7h0M1462.6 1116.6h0M1451.1 866.1h0M1592.1 944.4h0M1605.6 1094.7h0M1447 887.5h0M1524.6 1032.6h0M1414.5 955.5h0M1528.4 863.9h0M1665.7 902.7h0M1537.5 1009.8h0M1553 952.5h0M1644.8 914.3h0M1665.2 966.6h0M1623 975.1h0M1535.3 1133.9h0M1441.4 1044.1h0M1475 985.6h0M1647.6 905.8h0M1447.1 961.7h0M1383.2 925.7h0M1382.1 954.4h0M1494.1 1060.9h0M1669.6 917.2h0M1540.2 1014.6h0M1466.2 993h0M1461.3 867.6h0M1698.4 941.6h0M1563.2 1026.1h0M1339.1 923.4h0M1500.5 915.3h0M1540.9 1058.6h0M1643.6 1015.5h0M1361 1005.3h0M1344.9 945.5h0M1578 922.7h0M1554.3 1163h0M1507.6 839.6h0M1555.3 844.5h0M1605.5 859.1h0M1348.1 1009h0M1420.3 1153.3h0M1541.1 965.1h0M1416.4 1093.6h0M1492.7 822.9h0M1471.3 937.1h0M1454.3 978.6h0M1516.4 823.2h0M1594.1 959.1h0M1701.5 977h0M1553.8 829.7h0M1680.1 975h0M1425.2 1149.1h0M1512.8 1099.8h0M1538.7 1151.3h0M1442.4 907.5h0M1429.1 1055h0M1500.8 835.3h0M1361.3 920.1h0M1569.6 1055.1h0M1682.7 961.7h0M1662.1 931.3h0M1573.3 1010h0M1594.8 973.4h0M1336.8 1009h0M1330 947.1h0M1534.4 1103.6h0M1563.7 1130.4h0M1456.5 1128.3h0M1501.1 979.5h0M1525.3 880h0M1562.6 869.7h0M1598 1127.1h0M1444.5 1140h0M1491 971.6h0M1535.1 970.9h0M1552 957.8h0M1435.9 862.4h0M1629 890.1h0M1684 1001.7h0M1394.6 1081.9h0M1624.1 967.1h0M1435.7 1137.7h0M1556.7 931.6h0M1666.1 881.8h0M1625.9 1075.3h0M1607.9 1085.8h0M1596 1096.7h0M1439.4 931.1h0M1555.5 1063h0M1475.8 1166.8h0M1565.4 1088.2h0M1542.3 984.8h0M1655 1041.9h0M1591.9 1083.1h0M1513.6 1114.9h0M1547.8 950.1h0M1383.8 959.8h0M1477.1 830.5h0M1368.1 893.3h0M1452.2 1008.9h0M1689.2 974.4h0M1504.7 1044.5h0M1614 862.7h0M1357 994.9h0M1463.7 1144.1h0M1679.2 911.1h0M1600.4 1043.8h0M1563.8 1125.9h0M1636.2 1032.4h0M1581.3 970.4h0M1407.3 944.7h0M1663 897h0M1606 981.6h0M1518.3 817.5h0M1322.5 958.2h0M1401.6 889.2h0M1426.3 988.6h0M1434.7 1015.3h0M1611.5 1017.7h0M1564.2 959.5h0M1513.8 882.1h0M1488.1 840.2h0M1419 1010.1h0M1577.1 899.2h0M1582.3 1008.3h0M1615.1 986.6h0M1428.4 871.2h0M1521.1 1066.2h0M1477.3 824.5h0M1431.7 934h0M1543 953.8h0M1497.6 1169.8h0M1443.1 902.1h0M1527.3 898.2h0M1569.5 1020.7h0M1381.9 890.1h0M1382.8 935.6h0M1615.7 960.6h0M1552.4 1009.7h0M1501.9 1166.9h0M1453.4 1032.9h0M1574.2 1130.5h0M1364.1 1064h0M1705.7 984.2h0M1565 1048.9h0M1528.2 1150.9h0M1387.7 971.1h0M1414 1018.1h0M1558.2 1092.3h0M1450.4 897.1h0M1548.4 850.1h0M1659.5 1017.6h0M1404.3 852.7h0M1474.1 997.1h0M1435.2 1144.6h0M1374 1046.5h0M1514.2 1122.7h0M1378.8 1056h0M1588.4 963.9h0M1522 995.2h0M1449.4 997.4h0M1419 1143.1h0M1395.9 945.8h0M1503.8 1111.9h0M1516.8 962.8h0M1359.2 1031.6h0M1551.9 1016.5h0M1521 935.4h0M1512 857.7h0M1355.1 981.1h0M1387.2 1010.7h0M1335 1013.9h0M1602.1 1061.8h0M1640 1068.5h0M1635.3 891.3h0M1520.9 1062.3h0M1494.3 1107.5h0M1658 1006.1h0M1467.9 863.2h0M1496.7 849.7h0M1446.5 1159.8h0M1614.4 866.7h0M1572.9 880.4h0M1377.6 941.8h0M1606.7 952.1h0M1435.9 917.4h0M1490.7 858.6h0M1652.3 973h0M1519.6 917h0M1461.7 993h0M1584.1 1086.4h0M1496.7 1038.1h0M1541.9 1039.1h0M1470.9 1145.4h0M1467.7 914.6h0M1574.8 1080.8h0M1455.5 988.7h0M1504.2 911.6h0M1467.2 1022.7h0M1436.9 936.5h0M1369.5 1014.9h0M1501.2 1086.3h0M1601.3 961.9h0M1491.6 818.4h0M1532.5 828.9h0M1625.8 894h0M1402.2 982h0M1551.7 823.6h0M1438.1 896.7h0M1547.5 912.3h0M1535.1 905.5h0M1637.3 974h0M1535.5 1036.4h0M1590.6 931.2h0M1352.9 903.6h0M1544 1010.3h0M1552.1 974.8h0M1546.7 1161.3h0M1627.6 1027.6h0M1550.3 1036.8h0M1448.3 1007h0M1529.8 1077.9h0M1546.4 1075.6h0M1555.4 1146.4h0M1679.5 1002.8h0M1388.9 916.8h0M1438.5 1133.7h0M1401.7 922.4h0M1650.8 996.5h0M1370.3 954.8h0M1361.5 1027.8h0M1522.2 1116h0M1459.1 927.1h0M1401.6 1091h0M1620.8 1059.1h0M1555.3 1005h0M1473 917.4h0M1512.3 862.7h0M1703.1 941.7h0M1586 983.7h0M1663.8 887.8h0M1532.1 1107.5h0M1452.2 830.3h0M1416.7 971.6h0M1407.5 931.4h0M1566.8 982.3h0M1532.5 1148.3h0M1489 826.6h0M1607.5 1026.4h0M1454.3 902.1h0M1414.1 856.9h0M1615.6 872.1h0M1633.6 1088.7h0M1510.2 1119.6h0M1552.2 934.7h0M1449.2 1066.5h0M1401.3 902.7h0M1419.3 977.8h0M1669.8 903.9h0M1685.2 915.1h0M1449.5 1032.6h0M1623.5 1065h0M1536.8 1046.9h0M1592.7 1042.8h0M1491.8 1074.7h0M1448.3 1163.9h0M1617.8 965.6h0M1537.5 1062.8h0M1421.6 914.3h0M1634.6 879.6h0M1564.8 895.4h0M1437.1 871.7h0M1622.2 961h0M1518.7 869.9h0M1592.4 1057.9h0M1504 876.4h0M1413.9 915.9h0M1545.6 942.3h0M1526.5 842.8h0M1373.1 994.4h0M1450.5 1097.3h0M1466.4 923.3h0M1579.1 1115.1h0M1439.4 1055.7h0M1535.8 888h0M1555.7 1138.5h0M1349.1 979.7h0M1501.7 894.4h0M1454.4 951.8h0M1525.4 1107h0M1429.2 1122.9h0M1630.7 881.8h0M1435 1108.1h0M1610.5 868h0M1443.6 990.6h0M1419.1 1020h0M1649.2 1016.4h0M1456.8 1132.8h0M1610.6 1073.4h0M1486.1 998.8h0M1585.6 945.3h0M1448.8 847h0M1386.9 975.3h0M1645.5 980.1h0M1432.4 859.5h0M1559.2 944.5h0M1494.5 1048.1h0M1471 990.9h0M1378.3 1008.9h0M1374.4 983.9h0M1452 922.3h0M1477.6 911.2h0M1452.2 844.7h0M1516.8 1140.1h0M1425.7 943.4h0M1517.5 1043.5h0M1476.7 1044.5h0M1535.8 1030.1h0M1631.4 1100.1h0M1527.5 1084.7h0M1389.6 1052.4h0M1419.1 1005.8h0M1572.6 867.4h0M1409 1018.3h0M1634.8 851.7h0M1556.7 862.7h0M1438.9 848.4h0M1500.6 1172.7h0M1587.7 1074.1h0M1440.4 1013.4h0M1330 907.8h0M1509.5 1061.1h0M1462.1 906.6h0M1543.5 903.2h0M1490.9 1081.4h0M1550.6 1031.9h0M1395 1028.5h0M1377.9 881.4h0M1518.5 1084.7h0M1488.1 878.3h0M1593.6 1026h0M1528.2 1040.5h0M1361.5 870.4h0M1533.3 1087.4h0M1682 896.7h0M1494.2 1032.9h0M1607.2 1127h0M1583.9 973.8h0M1470.5 977.6h0M1536.7 817.3h0M1434.3 1051h0M1624.1 858.3h0M1550 1143.5h0M1596.8 943.6h0M1482.7 987.5h0M1571.7 1058.9h0M1377.9 999.9h0M1464.5 1088.9h0M1558.5 951.4h0M1658.7 903.5h0M1540.2 999.4h0M1406 1084.7h0M1546.9 1099.8h0M1454.9 1079.6h0M1533.4 989.9h0M1409.9 1050.5h0M1430.3 1097.7h0M1553.3 852.8h0M1390.2 1096.3h0M1527.3 939.7h0M1511 1082.9h0M1499.7 938.3h0M1326.7 954.4h0M1494.2 1023.1h0M1344.9 878.1h0M1354.7 909.2h0M1543.4 1033.1h0M1627.4 993.8h0M1654.5 908.4h0M1463.1 916.6h0M1662.5 955.3h0M1470.7 874.2h0M1499.3 1023.9h0M1473.1 870.6h0M1451.2 880.2h0M1396.9 967.9h0M1423.6 1123.7h0M1379.1 1028.2h0M1552.7 1066.4h0M1564.9 1011h0M1623.2 917h0M1483.7 1039.1h0M1463.9 834.8h0M1625.7 1042h0M1645.1 1072.1h0M1509.6 1142.4h0M1557.2 886.3h0M1351.2 897.7h0M1567.2 1159.3h0M1361.7 891.2h0M1454.4 1149.3h0M1638.7 1017h0M1522.5 961.5h0M1514.9 837.2h0M1375.9 890.2h0M1564.6 918.9h0M1420.2 955.7h0M1632.3 1069h0M1439.7 1158.3h0M1584.4 912.7h0M1395.1 980.6h0M1618.2 1066.5h0M1695.5 981.2h0M1458.6 1124.6h0M1500.2 1035.7h0M1454.9 926.7h0M1496.3 856.8h0M1580.7 1002.9h0M1580.3 1014.1h0M1683.2 886h0M1338.4 955.6h0M1462.6 1050.3h0M1407.1 961.5h0M1387.9 1065.8h0M1403.5 909h0M1489 986.1h0M1453.6 837.5h0M1579.9 1019.9h0M1474.2 1027h0M1598.2 1115.3h0M1486.5 1131h0M1531.6 847.5h0M1463.6 1042.7h0M1684.1 972.4h0M1466.2 1047.1h0M1519.3 1004.6h0M1590.7 1062.9h0M1375.7 955.5h0M1600.1 922.1h0M1600.4 861.8h0M1471.7 1157.5h0M1681.1 957.6h0M1417.2 928.5h0M1583.6 857.3h0M1324.5 893.3h0M1542.5 1172.7h0M1631.6 996.1h0M1520.2 971.4h0M1539.2 980.9h0M1463.7 1124.6h0M1544.4 1080h0M1573.5 916.7h0M1582.6 938.7h0M1435.8 1022.8h0M1429.1 977.9h0M1543.6 879.7h0M1498.5 1155.4h0M1515.1 1145.1h0M1569.2 849.8h0M1493.8 1130.5h0M1433.2 980.3h0M1410.3 1073.8h0M1463.3 1036.7h0M1602.8 967.4h0M1444.9 994.4h0M1449.1 1082.9h0M1398.6 865.7h0M1548.2 1069.7h0M1423.8 894.5h0M1634.7 1040.9h0M1403.1 1074.6h0M1692.2 965.2h0M1456.4 1113h0M1579.9 935.2h0M1554.7 991.8h0M1625.5 956.3h0M1450.4 1092.2h0M1379.6 978.4h0M1400.1 1050.6h0M1525.7 1093.1h0M1501.1 844.3h0M1531.7 883.3h0M1331.8 934.5h0M1365.4 1069h0M1465 939.8h0M1415.6 961.4h0M1610.3 994.9h0M1366.7 947.1h0M1460.5 1163.4h0M1675.7 901.7h0M1413.5 1031.5h0M1405.4 1145h0M1546.9 1137.1h0M1430.6 1158h0M1614.3 1089.8h0M1441 853.3h0M1469.8 971.3h0M1447.9 903.1h0M1417.2 1087.8h0M1616.4 852h0M1609 987.7h0M1588 1059.3h0M1438.3 901.4h0M1415.3 966.6h0M1390.3 1032.6h0M1640.8 1050.5h0M1547.1 921.4h0M1577.8 957.7h0M1441.7 878.2h0M1575.7 1124.3h0M1491.4 950.3h0M1484.9 904h0M1578 1111.4h0M1337 900.9h0M1529.1 838.7h0M1644.2 1065.2h0M1591.1 889.9h0M1590.9 903.4h0M1446.1 870.6h0M1623.4 935.8h0M1571.5 966h0M1643.9 1022.3h0M1620 1101.7h0M1513.1 1154.5h0M1510.7 876.9h0M1605.3 891.5h0M1414.4 1134.8h0M1477.7 953.3h0M1467 1137.2h0M1548 1082.4h0M1342.7 889h0M1509.7 1126.7h0M1508.4 949.8h0M1446 882.2h0M1658.9 887.5h0M1484.1 880h0M1604.6 972.8h0M1488.2 1123.4h0M1547.2 965.7h0M1591.3 898.3h0M1557.9 957.4h0M1528.8 1118.4h0M1678.8 940.7h0M1633.8 1022.6h0M1606.3 1113.7h0M1397.4 961.3h0M1551.6 1099.3h0M1348.2 933.8h0M1648.2 983.8h0M1511.5 892.3h0M1643.3 859.3h0M1506 917.8h0M1623.8 862.3h0M1641.5 891.1h0M1448.5 966.8h0M1463 1153.7h0M1419.4 935.9h0M1541.6 860.3h0M1605.3 1119.8h0M1582.1 1081.4h0M1532.6 878h0M1700.6 937.5h0M1375.1 908.5h0M1362.1 976.7h0M1601.7 903h0M1379.1 948.5h0M1461.6 1133.2h0M1662.3 913.4h0M1499.5 1147.7h0M1400.4 1046h0M1646.7 922.1h0M1479.1 879h0M1468.3 906.3h0M1472 839.5h0M1354.4 936h0M1531 896.2h0M1597.7 1055h0M1683.7 923.6h0M1516.8 906.1h0M1324.5 981.8h0M1591.4 1021.8h0M1522.2 979.2h0M1625.3 971.4h0M1626.8 979.7h0M1631 986.5h0M1340.7 897.5h0M1508 1149.6h0M1388 1060.1h0M1484.1 1053.1h0M1604.1 1066.3h0M1599 848.8h0M1543.7 1003.9h0M1637.6 883.5h0M1483.1 1001.7h0M1558.6 1157.3h0M1528.2 1059.3h0M1489.2 975.8h0M1649 1046.7h0M1571.1 1095.1h0M1614 970.8h0M1576.5 1015.9h0M1613.4 934.7h0M1602.1 1005.6h0M1326.4 958.9h0M1539.8 1135.3h0M1518.6 1147.9h0M1574.7 1045.9h0M1451.9 1155.8h0M1574.4 846.1h0M1594.7 1113.4h0M1508.1 859.2h0M1518.2 954.5h0M1690.2 915.6h0M1529.5 1144.7h0M1446 1097.6h0M1609.2 943.2h0M1371.6 1063.4h0M1439.3 1030.6h0M1659.9 970.3h0M1571 890.9h0M1376.8 896.3h0M1427.1 996.8h0M1526.6 982.6h0M1448.9 856.7h0M1652 939.6h0M1613.3 1077.8h0M1395.7 898.4h0M1502.8 1078.6h0M1476.6 1022.7h0M1501.3 869.1h0M1494.1 901.5h0M1587.5 1018.1h0M1393.1 1017.6h0M1487.9 1029.9h0M1642.4 976.3h0M1454.1 1123.5h0M1499.6 1109h0M1403 1121.6h0M1571.3 834.6h0M1473.4 1122.9h0M1384.5 906.1h0M1537.9 1053.5h0M1424.4 936.6h0M1420 1099.2h0M1518.3 1130.6h0M1384.2 1012.3h0M1580.7 1133.1h0M1482.9 1096.7h0M1553.3 938.9h0M1532 931.6h0M1535.7 1023.8h0M1557.1 1111.3h0M1447.3 1071.6h0M1476.4 927.5h0M1566.8 1015.8h0M1690.7 901.9h0M1608.3 1006.1h0M1600.5 894.7h0M1455.8 828.8h0M1633.6 952h0M1504.8 828h0M1497.2 1004.6h0M1537.9 1108.1h0M1607.9 1064h0M1568.5 1149.2h0M1491.7 960.5h0M1670.9 1003.6h0M1330.7 921.5h0M1413.9 889.3h0M1629.8 1043.2h0M1414.7 879.2h0M1391.6 1026.1h0M1651.1 1026.8h0M1488.3 1025.5h0M1533.7 919.2h0M1626 869.9h0M1516.5 978.1h0M1630.4 1049h0M1326 1001.6h0M1467.1 1157.5h0M1487.3 1107.8h0M1352.9 1048.5h0M1590.4 842.5h0M1447.9 1154.4h0M1509.2 814.1h0M1381.9 1073.9h0M1607.9 881.4h0M1575.5 885.8h0M1468.6 1114.5h0M1622.3 1098.5h0M1668.9 912.5h0M1418.4 917.2h0M1562.2 1088.1h0M1408.4 1153.4h0M1629.7 911.1h0M1700.4 906.3h0M1561.4 991.5h0M1499.7 1163.4h0M1439 973.3h0M1711.8 930.7h0M1621.5 1087h0M1559.3 1135.9h0M1585.5 1097.4h0M1474.8 1147.5h0M1326.3 964.4h0M1646.7 973.1h0M1521.4 826.3h0M1364.4 917.6h0M1514.5 1085h0M1584.3 1022.7h0M1634.1 871.6h0M1461.7 1001.6h0M1510.8 943.7h0M1568.9 1045.6h0M1583 847.9h0M1406.1 1035.9h0M1443.3 1023.4h0M1566.3 1100.9h0M1548.4 872.6h0M1509.9 1156.7h0M1492.5 1170.9h0M1419.9 1084.5h0M1408.8 999.7h0M1570.8 1067.7h0M1388.6 1004.1h0M1563.5 1161.3h0M1538.3 878.9h0M1580.5 1149.3h0M1622.3 1094.3h0M1506.9 873.2h0M1620.3 1052.1h0M1533.1 977.9h0M1454.7 1053.2h0M1536.7 1080.6h0M1454.6 1138.7h0M1547 825.9h0M1574.4 853.7h0M1651.2 923h0M1677.8 998.5h0M1504.2 1014.5h0M1702.3 987.5h0M1369.8 1002.4h0M1512.3 819.5h0M1522.7 886.3h0M1527.7 827.3h0M1539.7 836h0M1434.7 838.3h0M1353.6 1035h0M1495.6 818.3h0M1432.7 948.9h0M1376.6 870.2h0M1609 881.2h0M1408.3 1103.6h0M1394.7 1099.7h0M1478.4 855.5h0M1362.4 956.7h0M1508.3 999.9h0M1428.7 847.2h0M1362.8 1059h0M1494 1143.3h0M1652.3 874.9h0M1498.5 1081.5h0M1375.5 1005.4h0M1472.8 857.7h0M1442.6 927.2h0M1707.3 961.8h0M1570.7 992.8h0M1416.2 868.9h0M1535.2 874h0M1408.1 1080.3h0M1520.9 882.2h0M1527.6 971.7h0M1523.9 1143.5h0M1444.3 967.6h0M1591.4 1067.5h0M1665.4 924.3h0M1624.5 1048.7h0M1434.7 990.9h0M1389.9 908.3h0M1646.7 1040.7h0M1450.8 947.8h0M1570.5 1074.7h0M1386 1092.1h0M1484.5 1068.4h0M1508.3 847.1h0M1510.7 1169.4h0M1686.3 928.1h0M1416.2 951.4h0M1423.7 1004.4h0M1597.5 1048h0M1616.1 1056.1h0M1433.7 1095.8h0M1457.8 1155.8h0M1468.8 826.7h0M1558.7 856.1h0M1480.2 1154.1h0M1433 987.3h0M1513.6 1066h0M1508 908.8h0M1450.1 871.2h0M1539.3 841.8h0M1640.6 1025.3h0M1403.7 992.5h0M1628.2 1003.3h0M1639.9 1009.5h0M1433.9 1004h0M1458.1 908.5h0M1423.4 1055.3h0M1427.5 863.9h0M1425.4 1092.2h0M1508.7 1025.5h0M1537.3 894.5h0M1568.3 854.3h0M1523.1 1139.1h0M1402.3 1104h0M1579 858.1h0M1589.4 974.9h0M1681 947.5h0M1402.3 952.7h0M1398.8 1101.7h0M1497.7 866.1h0M1416.8 1139.3h0M1421.5 1024.4h0M1450.2 974.3h0M1471.8 829.7h0M1537.1 1172h0M1350.6 1040.7h0M1394.6 873.4h0M1633.3 905.3h0M1338 915.5h0M1467.3 935.4h0M1474.3 962.2h0M1578.8 962.4h0M1639.2 1004.7h0M1568.2 937.1h0M1641.3 968.6h0M1348.1 917.2h0M1694 926.3h0M1593.4 983.7h0M1558.4 1029.8h0M1410.7 913h0M1478.5 943.1h0M1677.9 962.5h0M1523.4 939.6h0M1604.5 941.2h0M1692.8 997.1h0M1689.7 896.8h0M1513.3 1022.4h0M1501.3 970.9h0M1498.3 1129.2h0M1472.6 890.8h0M1415.8 1127.8h0M1559.3 938.6h0M1620.2 970.5h0M1421.5 877.9h0M1395.6 914.1h0M1651.5 905.1h0M1482.8 1064.3h0M1401.4 1083.3h0M1580.4 840.4h0M1390.3 1073.9h0M1439.5 1091.9h0M1398.2 995h0M1467.1 897h0M1407.3 1127.6h0M1596.1 1083.6h0M1529.2 870.3h0M1459.5 951.8h0M1620.7 1110.9h0M1529.1 1035.7h0M1622.2 907.9h0M1524.9 915.1h0M1503.5 898h0M1561.6 908.4h0M1688.4 963.9h0M1443.4 1030.4h0M1440.7 1145.2h0M1560.5 900.7h0M1674.9 1005.2h0M1382.5 1059.1h0M1505.6 1068.1h0M1581.6 915.8h0M1553.7 818.3h0M1389.2 869.6h0M1459 1034.8h0M1496.7 1174.8h0M1323.8 994.8h0M1459.8 1061.5h0M1414.3 1117h0M1668.2 972.6h0M1483.5 959.6h0M1524 863.2h0M1562.7 855.1h0M1657.8 1011h0M1540 1159.4h0M1656 1034.1h0M1564.1 1003.6h0M1446.4 1124.2h0M1637.2 855.1h0M1424.4 1118.6h0M1424.1 924.5h0M1590.2 1112h0M1449.5 1037.8h0M1408.6 1068.3h0M1555.5 970.9h0M1498.2 877.1h0M1363.4 933.7h0M1705.9 989.8h0M1379.1 932.6h0M1476.4 900.6h0M1481.5 874.2h0M1446.6 1168.1h0M1358.9 969.5h0M1432.2 864.3h0M1501 816.2h0M1631.1 945.5h0M1513 1174.3h0M1637.9 1057.6h0M1437.1 857.4h0M1644.9 1048.9h0M1493.2 945.8h0M1378.2 1077.4h0M1462.7 948.4h0M1445.4 921.7h0M1658.8 994.1h0M1574.5 1066.7h0M1537.1 1018.8h0M1483.1 1089.9h0M1397.5 881.3h0M1633.9 1094.8h0M1564.9 1033.4h0M1588.8 912.8h0M1415.4 993.8h0M1487.2 893.8h0M1427.3 1041.9h0M1627.2 919.1h0M1665.5 977.5h0M1489 1174.6h0M1577 953.8h0M1514.7 920.6h0M1509.5 992.9h0M1430.6 955.5h0M1577.1 1141.4h0M1415.6 917.4h0M1542.6 1102.3h0M1504.1 1149.9h0M1519.8 809h0M1379.8 1051.8h0M1446.7 1133.7h0M1598.9 1066.9h0M1615.8 877.1h0M1485.2 859.5h0M1407.6 954h0M1532.4 890.3h0M1359.9 1062.4h0M1464.1 855.1h0M1382.5 902.2h0M1425.9 929.1h0M1555 1116.6h0M1656.6 1038.3h0M1409 1147.3h0M1374.9 932.2h0M1322.1 990.4h0M1475.5 894.2h0M1568.2 987.2h0M1393.9 1021.5h0M1625 1089.8h0M1451.6 1086.3h0M1413.1 1077.1h0M1440.4 966.2h0M1530.7 900.9h0M1685.9 936.9h0M1666.7 891.4h0M1604.1 1000.6h0M1596.5 964.9h0M1602 1029.7h0M1598.2 867.3h0M1397.6 1055.6h0M1480.8 1019.7h0M1480 1169.8h0M1501.1 996.7h0M1521.4 1123.8h0M1649.1 913.1h0M1536.3 914.8h0M1481.3 1163.5h0M1519.1 1033h0M1565.9 942.8h0M1497.6 1120h0M1646 1035.3h0M1453.9 1025h0M1356 1023.7h0M1627 988.7h0M1577.5 946.5h0M1393.4 866.5h0M1586.7 1117.6h0M1570.6 943.5h0M1458.8 1054.4h0M1397.6 951.3h0M1667.7 983.2h0M1565.9 1092.9h0M1461.9 1169.7h0M1442.6 999.1h0M1534.1 1174.7h0M1542.9 896.3h0M1432.8 1034.2h0M1412.1 930.8h0M1323.8 899.2h0M1620 943.1h0M1480.9 1114.9h0M1349.9 963.3h0M1569.1 1031.5h0M1496.9 995.6h0M1369 1052h0M1471.8 1168.8h0M1519.4 889.4h0M1595.9 875.2h0M1552 1056.1h0M1336.4 992.3h0M1578.4 1038h0M1392.6 1067h0M1652.4 932.9h0M1705.5 950.6h0M1493.1 1135.7h0M1576.7 1059.7h0M1440.8 836.9h0M1645.7 872.8h0M1598.8 980.7h0M1584.1 966.5h0M1440.6 1068.6h0M1599.5 994.1h0M1565.7 947.2h0M1336.2 968.7h0M1463.3 1020h0M1450.4 956.1h0M1578.9 1145.4h0M1430.9 1091.2h0M1625.8 873.8h0M1561.7 839.4h0M1505.8 1098.4h0M1456.8 884.2h0M1505.9 955.3h0M1500.2 1047.7h0M1524.7 1063.4h0M1568.7 998.3h0M1564.9 912.1h0M1440.9 1152.2h0M1391.4 1038.8h0M1457.4 842.2h0M1462.9 958.9h0M1395.4 1002.8h0M1569.8 947.8h0M1560.8 1047.7h0M1515.7 1029.8h0M1710.9 988.5h0M1543.9 837.7h0M1461.4 977h0M1651.8 928h0M1584.4 1050.7h0M1682 877.3h0M1494.6 984.2h0M1492.5 848.2h0M1472.6 1086.6h0M1422.9 964.4h0M1606.1 917.2h0M1442.3 978.1h0M1525.3 1014.2h0M1536 932.9h0M1437.3 1114.4h0M1509.4 1110h0M1492.7 1154.4h0M1638.7 954.5h0M1656.2 862.3h0M1691.1 959.3h0M1568.8 1143.2h0M1404.7 940.3h0M1568.3 1035.8h0M1578.8 975.1h0M1601.9 1054.8h0M1593 1005.1h0M1443.8 1103.2h0M1428.4 1146.1h0M1609.5 980h0M1378.3 1017.6h0M1381.9 1048.4h0M1478.8 849.5h0M1550.7 844.2h0M1358.2 880.8h0M1495.5 911.9h0M1437 867h0M1568.4 865.3h0M1579.4 844.3h0M1542.5 1086.8h0M1357.5 992.4h0M1579.9 878.3h0M1411 901.9h0M1667.2 876.9h0M1653.6 959.4h0M1355.6 1010.2h0M1559.9 1014.7h0M1424.8 969.9h0M1477.9 1120.4h0M1519.7 1078.2h0M1416.1 933.1h0M1587 1042h0M1522.2 1091.6h0M1657.3 918.3h0M1602.2 1034.5h0M1464.6 1161.3h0M1566 924.8h0M1358.2 952.6h0M1410.5 958h0M1565 850.9h0M1528.6 1098.4h0M1467.8 1057.1h0M1691.4 886.3h0M1509.1 958.3h0M1665.6 919.5h0M1417.6 911.6h0M1558 986.9h0M1644.8 1029.4h0M1338.7 1030.3h0M1510.4 988.4h0M1380.1 1034.9h0M1515.3 810h0M1322.7 967.2h0M1493.2 966.1h0M1649.3 950.3h0M1598.5 914.7h0M1492.4 1004.9h0M1669.8 966.8h0M1487.8 964.3h0M1511.7 960.3h0M1650.9 1053.2h0M1647.5 1000.7h0M1626.9 924.1h0M1475.1 957.7h0M1375 970.5h0M1511.8 1045.6h0M1386.4 921.6h0M1638.7 900.2h0M1687.7 970.5h0M1490.4 939.6h0M1594.7 999.3h0M1540.4 867.8h0M1552.2 1131.5h0M1501.3 1096.1h0M1352.1 1004.7h0M1336.9 979.3h0M1486.8 1149.9h0M1448.5 1101.8h0M1428.3 974h0M1491.7 883.9h0M1444.8 1055.3h0M1622.3 1029.2h0M1431.2 905.2h0M1424.9 1135.2h0M1675.5 927.1h0M1536.5 863.9h0M1455.4 848.3h0M1385.4 991.7h0M1522.4 838h0M1527.7 934.9h0M1544.6 1033.5h0M1469.1 1053.2h0M1521.9 820.7h0M1689.9 910.8h0M1422.5 959.8h0M1485.8 1155.9h0M1415.8 1002.6h0M1600.4 1110.9h0M1598.3 971.3h0M1466.5 1003.7h0M1564.8 896.5h0M1715 963.3h0M1418.3 1071.5h0M1707.1 977h0M1475.1 1001.2h0M1387.8 899.1h0M1638.5 866.4h0M1644.5 964.5h0M1458.6 1117.4h0M1680.4 932.1h0M1623.5 1005.9h0M1490.4 1047.4h0M1442.8 867h0M1615.2 1047.2h0M1427.9 1138.6h0M1378.1 959.9h0M1435.4 931.9h0M1526.5 977.2h0M1657 938.2h0M1442.9 940h0M1616 923h0M1441.3 885.7h0M1682 968.2h0M1398.6 907.5h0M1375 1060.7h0M1509.2 1014.1h0M1536.5 1135h0M1486.2 1043.7h0M1422 930.1h0M1603.8 906.8h0M1363.4 879.3h0M1374.1 1053.5h0M1568.3 1133.3h0M1339.1 927.9h0M1542.4 1130.4h0M1431.8 912.3h0M1506.4 823.3h0M1615.5 997.3h0M1351.7 928.9h0M1383.1 1086.3h0M1636.9 977.9h0M1417.4 1048.1h0M1370.5 986.7h0M1605.2 898.9h0M1478.7 863.5h0M1585.1 1129.1h0M1371.1 975.5h0M1397.8 1018.3h0M1519.6 943.7h0M1609.6 1022.1h0M1366.9 902h0M1588.4 1036.2h0M1641.2 1059h0M1522 909.2h0M1400.1 876.7h0M1617.5 916.3h0M1646.7 894.6h0M1373.7 904.1h0M1454.2 1168h0M1595.9 859.8h0M1654.9 991.5h0M1473.3 1038.2h0M1521.5 814.7h0M1559.2 875.3h0M1555.8 1070.8h0M1521.1 878.1h0M1532.3 908h0M1560.3 1054h0M1554.9 979.2h0M1611.3 1047.8h0M1395.2 1077.9h0M1628.5 850h0M1594.8 922.9h0M1538.3 937.5h0M1421.7 1075h0M1495 814h0M1472 1127.4h0M1614.5 993h0M1607.8 933.9h0M1481.7 833.3h0M1572.9 1000.4h0M1559.6 916h0M1557.5 894h0M1536.3 1156.4h0M1663.1 1014.7h0M1679.4 880.5h0M1461.6 1096h0M1538.2 1005.5h0M1514.2 969.4h0M1580.8 886.9h0M1578.1 1009.5h0M1566.8 883.1h0M1503.5 999.8h0M1455.3 935.9h0M1628.3 858.5h0M1545.1 1111.2h0M1336.9 943.4h0M1408.7 938.7h0M1456.7 1006.6h0M1488.9 1065.5h0M1443.7 1155.4h0M1530.5 1027.1h0M1383.8 881.9h0M1611.3 948.8h0M1462.8 1058.5h0M1480.7 1083.5h0M1410.6 1042.7h0M1438.6 1041.1h0M1607.3 1051.3h0M1651.4 1057.6h0M1580 1045.9h0M1394.5 918.1h0M1531.5 973.8h0M1463.3 843.3h0M1536 1076.7h0M1420.1 1106.3h0M1455.9 942.7h0M1509.3 866h0M1408.1 927.4h0M1362.1 961.7h0M1585.9 906.5h0M1541.6 924h0M1655.7 984.3h0M1574 1114.6h0M1705.6 967.3h0M1598.6 1038.1h0M1373.4 1000.7h0M1589.8 857.2h0M1428.7 1059.7h0M1569.2 886.7h0M1429.4 1133h0M1559.5 1146.5h0M1565.2 1080.2h0M1630 954h0M1446.7 953.6h0M1445.7 836.7h0M1581.4 1090.1h0M1586.1 1091.6h0M1446.8 947.5h0M1399.5 1067.1h0M1470.9 984.8h0M1363.8 1041.4h0M1353.5 1018.4h0M1401 1084.5h0M1506.6 1058.5h0M1665.8 928.9h0M1520.1 989h0M1590.6 979.9h0M1480.2 892.8h0M1457.2 977.5h0M1608.7 899.4h0M1553.8 1038.7h0M1670.2 928h0M1436.3 912.5h0M1443.1 840.9h0M1478.7 1068.2h0M1523.7 833.3h0M1352.6 975.4h0M1572.5 1023.7h0M1453.1 859.6h0M1465.9 1033.8h0M1560.9 928.3h0M1374.4 875.9h0M1486.1 1130.3h0M1427 1103.4h0M1414.1 1152.5h0M1430.8 1141.4h0M1490.2 916.4h0M1334.5 897.8h0M1570.2 920.7h0M1618.2 906.8h0M1489.1 1071h0M1424.8 903.3h0M1344.1 981.5h0M1497 882.3h0M1430.4 1012.2h0M1518.5 831.2h0M1616.6 947.2h0M1422 1032.5h0M1506.2 902.3h0M1450 914.5h0M1588.9 917.6h0M1412.7 942.1h0M1615.2 881.1h0M1476.5 1081.3h0M1534.8 835.2h0M1495.4 861.5h0M1371.6 926.1h0M1513.1 1058.8h0M1649.2 958.5h0M1519 983.1h0M1493 1112h0M1689 892.5h0M1619.6 1016.5h0M1591.4 1124.4h0M1610.6 876.7h0M1345.8 942.3h0M1330.2 952.4h0M1700.4 955.9h0M1485 898.5h0M1417.5 864.3h0M1599.8 1024.7h0M1657.5 1027.7h0M1612.7 1042.8h0M1516.4 1047.9h0M1521.1 849h0M1533.4 1111.7h0M1343.8 1021.4h0M1539.4 918.3h0M1526.1 1157.3h0M1601.1 1002.3h0M1581.9 1139h0M1589.8 884.2h0M1524.6 1128.2h0M1500.5 827.8h0M1375.2 921.1h0M1496.8 1022.8h0M1410.3 883.5h0M1505.7 844.2h0M1390.3 936.9h0M1490.4 887.7h0M1507.3 969.7h0M1503.3 1055.5h0M1659 963.7h0M1372.3 993.2h0M1527.6 834.4h0M1451.9 929.6h0M1553.7 966.5h0M1481.3 900.8h0M1417.7 898.7h0M1643.1 920.5h0M1502.5 990.4h0M1449.1 897.3h0M1443 1097.9h0M1415.6 1104.3h0M1557.3 1033.7h0M1359.5 1044h0M1424.2 1072h0M1437.3 1154.9h0M1619.7 899.9h0M1633.3 903.8h0M1496.2 1125.2h0M1487.2 1086.4h0M1586.2 936.4h0M1532.9 1059.5h0M1399 977.2h0M1411.7 1127h0M1408.2 1067.8h0M1704.4 955.4h0M1469.5 846.6h0M1488.6 993.8h0M1624.4 904.2h0M1347.7 972.7h0M1606.2 921.9h0M1672.1 1012.3h0M1577 931h0M1368.8 907.5h0M1584 999.7h0M1438.9 941h0M1642.8 935.8h0M1542.5 1026.4h0M1487.9 1077.4h0M1386.2 886h0M1438 1008.9h0M1578.5 1116h0M1690 920h0M1623.3 1055.2h0M1521.7 1029h0M1435.3 1060.8h0M1436.8 1122.4h0M1396.3 923.9h0M1393.3 890.4h0M1615.1 1008.4h0M1561.5 892.2h0M1514 931.4h0M1514.9 1008.5h0M1480.2 1109.7h0M1514.1 1014.8h0M1402.2 1027.8h0M1697.4 921.6h0M1528.5 1078.9h0M1343.7 1031h0M1553.2 985.3h0M1529.9 1164.2h0M1477.6 1133.4h0M1549.4 1012.7h0M1360.6 904h0M1584.7 1015.2h0M1513.1 1130.8h0M1410 975.6h0M1596.9 1122.9h0M1327.7 918.3h0M1594 948.7h0M1440.2 1117.5h0M1560.7 1005.9h0M1572.3 983.2h0M1541.4 821.8h0M1624.4 997.1h0M1346.6 1039.3h0M1347.4 1000.1h0M1524.3 1025.8h0M1513.4 1095.5h0M1506.8 1080.6h0M1659.7 963.6h0M1350.1 968.7h0M1385.5 957.4h0M1387 999.2h0M1591.8 994.3h0M1634.1 928.7h0M1437.8 889.3h0M1343.7 994.8h0M1590.8 921h0M1589.1 1078.2h0M1625.9 901.5h0M1375.3 1036.7h0M1620.2 995.2h0M1649.4 898.3h0M1421.4 996.5h0M1429.2 1018.7h0M1466 1108.7h0M1426.1 853.6h0M1623.1 1011.1h0M1615.7 1037.9h0M1547.9 881.2h0M1433 1026.5h0M1323.9 905.1h0M1422.4 1007.1h0M1630.8 922.5h0M1595.5 955.3h0M1518 1112.4h0M1606.3 997.1h0M1675.4 993.2h0M1379.6 1061.8h0M1430.5 968h0M1370.9 1039.3h0M1473.7 1017.8h0M1475.8 1138.8h0M1524.4 957.4h0M1421.8 1112.1h0M1616.3 866.8h0M1411.2 1061h0M1451.1 1039.6h0M1527.4 930.6h0M1497.8 831.3h0M1482.8 827.7h0M1458 1072.2h0M1541.7 1116.2h0M1404.9 1049.8h0M1432.1 1161.8h0M1427 1083.7h0M1557.1 1142.4h0M1392.9 1071h0M1445 862h0M1418.1 1045.6h0M1470.3 852h0M1436.3 1036.8h0M1406.2 904.2h0M1570.7 1006.4h0M1642.6 895.1h0M1388.8 948.6h0M1560.5 1042.8h0M1553.8 911.3h0M1614.1 847.6h0M1609.2 1077.8h0M1448.7 993.2h0M1548.3 1095.3h0M1652.4 954.4h0M1509.3 1164.7h0M1466.7 1084.9h0M1346.8 927.9h0M1451.7 899.9h0M1525.7 1089.1h0M1413.2 1047.2h0M1614 951.6h0M1582.7 1054.6h0M1525.7 901.9h0M1498.8 818.1h0M1498.4 1042.4h0M1593.1 1121.9h0M1433.3 960.9h0M1605.1 1101.1h0M1520.6 896.9h0M1533.1 839h0M1615.5 1025.7h0M1512.6 965.4h0M1547.4 864.1h0M1586.8 1133.8h0M1517.4 1068.6h0M1464.5 944h0M1594.5 1040.7h0M1473.8 1131.4h0M1491.3 1146.7h0M1621.3 927.3h0M1379 909.1h0M1467.4 998.4h0M1576.5 1111.8h0M1454.7 1083.6h0M1366.6 925.4h0M1491.9 857.1h0M1614.6 1062.6h0M1552.5 905.1h0M1560.8 923.7h0M1452.8 892h0M1504 986.3h0M1343.2 874.2h0M1669.7 933.1h0M1546.9 855.1h0M1454.4 998.6h0M1444.3 1006.5h0M1509.8 1037.5h0M1486.9 1034h0M1457.2 897.8h0M1458.2 916.6h0M1337.3 907.2h0M1494.5 1077.8h0M1522.2 1056.1h0M1590.4 876.1h0M1604.6 911h0M1448.5 1024.5h0M1467.8 1154.5h0M1635.9 922.8h0M1670.8 955.9h0M1615.2 1017.8h0M1673.5 931.2h0M1509.1 1020.7h0M1557.3 940.6h0M1629.4 964.2h0M1713.9 944.4h0M1370.2 878.8h0M1385.2 866.1h0M1566 874.8h0M1388.7 1017.9h0M1538.3 1104.1h0M1403.8 970.6h0M1411.6 924.4h0M1481.2 883.8h0M1425.5 953.2h0M1519.3 921.8h0M1552.2 1173.4h0M1538.2 1033.5h0M1529.2 1114.5h0M1376.1 885.7h0M1541.2 990.5h0M1562.7 879.9h0M1474.3 869.2h0M1527.8 1074.4h0M1593.2 914.1h0M1342 959h0M1435 851.5h0M1515.3 1054.9h0M1353.9 916.4h0M1634.2 983.4h0M1534.4 980.6h0M1590.3 879.8h0M1611.2 1092.2h0M1555.9 1112.6h0M1555.6 858.4h0M1416.2 875.3h0M1489.2 1005.1h0M1610.1 1097.7h0M1415.9 998h0M1410.7 1139.9h0M1569.7 961h0M1477 1114.7h0M1632.5 1079.5h0M1417 1110.6h0M1563.3 987.6h0M1529.7 1122.9h0M1522.9 858.7h0M1470.2 1134.5h0M1451.8 1158h0M1617 903.8h0M1423.6 910.7h0M1479.5 1029.1h0M1363.9 910.6h0M1551.3 897h0M1374.8 965.8h0M1556.7 1056.7h0M1506.2 1122.7h0M1538.4 1120.1h0M1438.2 1099.6h0M1675.5 950.7h0M1480.9 1036.7h0M1609.9 962.1h0M1590.6 1093.1h0M1548.1 960.5h0M1444.9 1076.3h0M1540.5 1155.4h0M1560.5 925.3h0M1464.2 838.7h0M1356.1 1002.9h0M1366.3 1019.1h0M1584.1 1146.9h0M1597.7 1013.9h0M1449.8 1114.7h0M1363.9 938.3h0M1396.8 893.3h0M1499.8 953.6h0M1374 969.9h0M1382.1 957.4h0M1524 1100.9h0M1694.8 891h0M1610 1092.4h0M1433.6 944.2h0M1474.1 974.8h0M1533.9 950.4h0M1501.9 1069.4h0M1447.4 1162.7h0M1605.4 1035.4h0M1568.5 859.8h0M1655.4 970.5h0M1522 1156.2h0M1421.4 1080.5h0M1579.4 863.3h0M1525 1035.5h0M1566.9 903.5h0M1589.4 1010.9h0M1391.8 958.5h0M1670.1 883.8h0M1593.8 1010.1h0M1616.1 1052.1h0M1365.2 1006.1h0M1534.5 1016.9h0M1387.1 913.1h0M1341.7 881.9h0M1544.7 1124.6h0M1455.2 946.5h0M1466.6 1078.9h0M1515.2 1097.5h0M1497.2 816.9h0M1588.9 1105.8h0M1520 1015.2h0M1462.9 911.1h0M1609.8 967.8h0M1439.4 1021.2h0M1672.7 989.2h0M1404.9 913h0M1684.8 942h0M1603.7 989.9h0M1545.9 891.1h0M1608.3 1070.2h0M1553.5 927.7h0M1694.9 950.1h0M1525.7 849h0M1566.1 1070.2h0M1352.2 873.1h0M1688.7 931.2h0M1345.1 1026.8h0M1603.5 1080.9h0M1523.7 1044.6h0M1436.3 956.7h0M1427.5 913.5h0M1642.5 879.2h0M1664.7 986.7h0M1511.9 871.1h0M1488.9 840.5h0M1655.9 960h0M1489.4 1051.7h0M1532.6 867.5h0M1618.3 1029.2h0M1395.7 1089.3h0M1505 924.1h0M1642 1037.4h0M1566.1 1005h0M1642.1 906.3h0M1425.4 876h0M1688.7 980.5h0M1570.4 1109.6h0M1649.2 989.1h0M1469.4 1130.4h0M1594.6 930.7h0M1458.8 1004.9h0M1591.1 1102.2h0M1672.6 871.4h0M1636.1 1067h0M1488.2 1100.6h0M1456.7 1102.8h0M1559.6 864.9h0M1492.6 903.1h0M1354.6 887.6h0M1497.9 911.8h0M1437.5 927.4h0M1589.7 1091.8h0M1473.5 950.7h0M1482 974h0M1370.3 934.4h0M1505 1019.6h0M1468.9 1038.2h0M1588.2 950.7h0M1625.1 1007.7h0M1365.2 986h0M1670.9 948.7h0M1515.9 1080.3h0M1433.5 921.3h0M1442.2 972.4h0M1605.6 1055.5h0M1448 892.7h0M1424.4 1099.5h0M1593.6 942h0M1706.6 925.2h0M1423.2 1044.2h0M1519.4 901.7h0M1334.8 878.8h0M1351.3 994.6h0M1631.8 898.1h0M1474.4 1172.7h0M1535 965.6h0M1404.1 1006.6h0M1547.7 1173.1h0M1485.4 1170.9h0M1641.5 1056.4h0M1601.8 883.3h0M1586.3 1032.8h0M1428.8 901.3h0M1457.2 852.3h0M1557.6 1008.9h0M1619.9 1106.2h0M1636 968.8h0M1532.1 1081.3h0M1514 844.2h0M1408.2 1029.7h0M1404.9 878h0M1484.3 954.4h0M1389 987.9h0M1489.6 1096.4h0M1461.4 883.8h0M1405.7 965.8h0M1447.3 977.3h0M1411.6 994.9h0M1419.8 928.5h0M1568.8 916.9h0M1412 990.7h0M1435 974.9h0M1637.5 1082.6h0M1607.9 1042.6h0M1465.3 1075.5h0M1523.5 890.9h0M1665.8 1015.7h0M1645.2 1079.1h0M1560.4 972.3h0M1462.4 1120.5h0M1662.2 944.9h0M1646.8 954.8h0M1641.2 1001h0M1706.5 913.4h0M1562.4 827h0M1420.7 1001.5h0M1606.6 1060.3h0M1460 831.3h0M1531.1 942h0M1413.3 1121.9h0M1405.1 919.1h0M1541.9 846.8h0M1566.3 891.1h0M1616.4 951h0M1539.2 929.3h0M1480.8 1129.7h0M1441.4 916.5h0M1446.6 1076.4h0M1384.5 985h0M1582.5 979.7h0M1357.6 1051.8h0M1473 865h0M1547.4 1045.8h0M1605.4 1083.6h0M1477.5 1080.9h0M1444.6 842.9h0M1518 1102.3h0M1682.2 906.5h0M1701.8 956.1h0M1568.1 952.2h0M1552.8 1074h0M1362.3 1010.6h0M1454.3 915.5h0M1552.4 1070.5h0M1599.9 955.4h0M1393.9 1053.6h0M1556.6 923.4h0M1521.3 929.7h0M1550.6 860.9h0M1582.1 907.7h0M1473.3 906.4h0M1575.1 969.2h0M1443.9 1127.6h0M1606.3 852.4h0M1640.7 1043.5h0M1478.7 1054h0M1581.6 995.1h0M1483.3 1072.3h0M1613.6 1004.7h0M1489.6 906.7h0M1515.6 939.4h0M1555.7 921.5h0M1433.2 939.3h0M1419.4 881.1h0M1370.8 908.9h0M1338.1 892.1h0M1467.8 1100.8h0M1485 904.4h0M1422.4 898.3h0M1600.1 1083.3h0M1422.8 940.3h0M1578 836.2h0M1483 1119.8h0M1684.4 967.6h0M1516.2 1062.3h0M1700.7 963.5h0M1349.1 869.1h0M1577.5 1136.2h0M1444.7 1088.2h0M1657.8 999.3h0M1327.9 933.8h0M1581.4 897.7h0M1495.7 1149.1h0M1674 935.4h0M1379.3 893.2h0M1709.2 951.9h0M1633 1059.9h0M1554.3 1088h0M1576.4 1026.8h0M1498.2 1089.5h0M1416 1054.1h0M1655.6 1031.6h0M1470 830.8h0M1405.1 1015.2h0M1600.3 1118.6h0M1651.9 1002.6h0M1380.2 965.7h0M1563.2 875.6h0M1584.6 1139h0M1527.3 821.1h0M1594.8 844.8h0M1575.4 1003.9h0M1507 1161.9h0M1486.6 881.4h0M1426.4 858.4h0M1503.9 1005.2h0M1659.4 941.4h0M1497.8 1098.3h0M1402.2 892.1h0M1468.1 895.4h0M1496.3 971.4h0M1654.6 995.5h0M1469.5 994.5h0M1572.3 935.4h0M1409.6 879.3h0M1622.7 890.8h0M1364.6 966.5h0M1404.3 883.7h0M1548.5 1003.4h0M1504.2 1015.1h0M1601.4 1063h0M1538.6 1166.6h0M1482.7 821.5h0M1405.1 869.2h0M1636.6 875.3h0M1545.1 980.3h0M1624.6 880.8h0M1407.5 1055.1h0M1611.8 1037.2h0M1571.1 981.8h0M1399.4 918.4h0M1613.7 1049.9h0M1587.3 1024h0M1492.3 998.2h0M1514.9 874.2h0M1348.3 887.3h0M1641.4 887h0M1629 866.4h0M1466.1 978.5h0M1383.8 884.6h0M1403.7 985.8h0M1631.9 979h0M1592.2 887.8h0M1593.1 935.7h0M1648.9 1068.5h0M1565.1 1084.5h0M1653.9 1012.5h0M1656.7 930.5h0M1506.3 1117.4h0M1714.8 952.1h0M1458.6 1048h0M1579.7 996.8h0M1491.7 897.8h0M1463.5 1013.4h0M1669.1 964.9h0M1585.4 1045.9h0M1589 894.9h0M1386.7 962.6h0M1457.5 908.7h0M1695.4 943.4h0M1624.1 887.7h0M1403.9 898.1h0M1432 1142.6h0M1418.8 1077.3h0M1671.4 979.6h0M1374.6 1014.2h0M1554.1 905.1h0M1563.1 936.9h0M1518.4 846h0M1493.8 911.8h0M1492.3 836.7h0M1610.6 891.1h0M1530.1 824.7h0M1489.9 1166.8h0M1638 1091h0M1340.7 1011.1h0M1535.6 945.1h0M1529.6 1094.4h0M1406.6 1131.6h0M1495.1 953.9h0M1471.4 1139.9h0M1626.3 941.4h0M1664.6 899.5h0M1397.2 1059.4h0M1573.9 1024.3h0M1502.9 840.5h0M1350.9 877.3h0M1543.8 960.8h0M1478.7 1147h0M1519.4 1158.9h0M1524.1 1119.8h0M1404.3 935h0M1428.8 959.1h0M1486.5 1019.3h0M1469.8 911.1h0M1544.7 1167.5h0M1564.9 836.8h0M1389.1 878.5h0M1523.4 889.3h0M1434.8 942.2h0M1604.4 977.4h0M1569.6 890.1h0M1585.8 932.4h0M1502.5 1039.7h0M1522.5 1005.1h0M1547.8 1148.8h0M1420.5 1135.5h0M1546.9 1093.2h0M1496.6 1064h0M1545.9 1115.3h0M1407.3 989.2h0M1602.1 966.5h0M1467.4 1017.6h0M1409.1 1007.9h0M1369.7 981.2h0M1569.5 911.8h0M1328.1 913h0M1432.4 1059.9h0M1552.8 1123.4h0M1332.9 927.7h0M1646.6 901.4h0M1511.4 903.2h0M1551.1 924.1h0M1429.6 880.2h0M1651.4 857.2h0M1470.7 1051.4h0M1496.8 894.6h0M1619.2 981.7h0M1473.9 1098.8h0M1420.3 873.7h0M1449.8 834.9h0M1509.8 1087.2h0M1417.4 1026h0M1464.1 1063.3h0M1425.5 1099.3h0M1693.2 912.3h0M1601.4 1086.1h0M1558.1 850.8h0M1352.1 922.7h0M1584.6 913.6h0M1377.4 1023.9h0M1646.5 885.8h0M1620.4 1007.2h0M1688.4 944.1h0M1467.7 881.7h0M1469 1124.2h0M1530.3 1176h0M1551.5 1048.9h0M1423.6 1040.3h0M1481.3 915.3h0M1342 949.1h0M1542.4 948.4h0M1424.8 843.1h0M1516.4 911.1h0M1524.5 989.6h0M1573.7 864.4h0M1400.5 1108.6h0M1490.1 1029h0M1566.1 955.8h0M1563.3 1118.1h0M1439.7 1026.1h0M1515.3 985.9h0M1395.2 1036.9h0M1618 1060h0M1545.4 1007.9h0M1619.6 1045.2h0M1598.4 1100.3h0M1714.2 973.5h0M1479.3 865.9h0M1369.2 963.7h0M1508.7 1009.2h0M1366.3 872.7h0M1499.7 888.2h0M1391.1 963.4h0M1483.8 932.5h0M1573.3 875.7h0M1456.8 1124.9h0M1439.1 961.7h0M1556.8 1019.4h0M1408 1121.1h0M1454.1 874h0M1571.4 1151.4h0M1522.7 1020.9h0M1446.8 986.6h0M1585.4 898.3h0M1571.4 931.3h0M1515 1140.2h0M1569.4 908.6h0M1526 941.9h0M1431.6 944.6h0M1369.4 1026.5h0M1553.3 1080h0M1393.1 935h0M1524 948h0M1591.2 1111.2h0M1698.3 986.4h0M1534.1 843.4h0M1482.2 1042.7h0M1637.2 905.2h0M1481.9 1149.9h0M1541.3 974.2h0M1652.3 972.2h0M1622.1 848.5h0M1641.6 1072.5h0M1718.4 942.2h0M1372.8 896.3h0M1741.7 910.2h0M1718.4 878.9h0M1725.5 918.5h0M1711.8 882.2h0M1698.3 883h0M1747.3 899.9h0M1703.8 905h0M1729.7 897.8h0M1729.1 913.7h0M1724 914.6h0M1744.5 893.6h0M1731.1 939.6h0M1711.4 918.8h0M1709.2 910.3h0M1739.9 888.8h0M1719.1 903.7h0M1726.3 927.1h0M1732 930.5h0M1703.8 882.7h0M1724.7 895h0M1733.3 883.7h0M1723.2 882.6h0M1732.5 892.5h0M1735.3 923.8h0M1721.8 926.2h0M1730.1 924h0M1737.4 909.1h0M1717.9 908.2h0M1736.5 902.1h0M1720.6 918.2h0M1726.8 886.4h0M1744.9 919.8h0M1747.6 907.8h0M1739.9 897.9h0M1734.2 915.1h0M1738.9 926.6h0M1731.8 903.5h0M1738.6 880.9h0M1729.3 935.1h0M1734.9 897h0M1715.8 913.8h0M1724 924.6h0M1739.6 919.7h0M1724.3 908h0M1723.9 931.9h0M1727.2 901.5h0M1742.8 923.8h0M1742 894.2h0M1746 894.1h0M1723.5 925.9h0M1744.5 915.5h0M1744 885.2h0M1744.6 886.1h0M1728.4 890.7h0M1737.7 890.3h0M1717.1 905h0M1308.8 878.5h0M1314.9 878h0M1244.6 907.1h0M1289.1 977.3h0M1274.8 954.9h0M1249 908.2h0M1279.1 951.8h0M1373.4 1101.1h0M1284.5 974.7h0M1251.9 948.9h0M1254.3 934.6h0M1247.2 912h0M1254.1 930.2h0M1393.9 1109.6h0M1295.4 1064.6h0M1249.1 915.8h0M1318.3 876h0M1354.8 1089.4h0M1358 1104.5h0M1287.7 936.7h0M1262.1 1058.7h0M1376.3 1088.4h0M1285.8 1031.7h0M1316.4 889.3h0M1248.3 897.4h0M1290.1 1044.3h0M1299.7 991.2h0M1247.7 950.3h0M1256.4 938h0M1342.2 1106.9h0M1336.2 1052.2h0M1297.5 908.2h0M1268.3 962.8h0M1261.1 938h0M1274.1 979.8h0M1250.3 954.4h0M1285 978.7h0M1360 1100.3h0M1295.8 995.2h0M1297.3 923.1h0M1253 900h0M1364.6 1097.2h0M1262.3 942.3h0M1267.3 910h0M1282.5 1020.3h0M1272 973.5h0M1285.8 1048.5h0M1280.7 971.8h0M1282 1029h0M1281.3 911.9h0M1280.7 1034.4h0M1298.8 997.5h0M1277.3 1050.4h0M1273.6 894.8h0M1239.2 909.7h0M1315.5 919.9h0M1304.5 1069h0M1285.3 910.9h0M1277.7 974.9h0M1314.2 932.5h0M1292.2 970h0M1378.5 1097.8h0M1321.5 878.2h0M1261.4 1031.9h0M1274.5 970.6h0M1302.3 1072.2h0M1268.9 1024h0M1292.1 984.8h0M1351.3 1102.7h0M1249.6 926.7h0M1322.2 1098.1h0M1362.2 1105.5h0M1291.4 918.8h0M1246.8 889.5h0M1278.5 980.3h0M1314.2 1074.1h0M1297.7 1026h0M1326.7 1082.8h0M1286.6 907.2h0M1293.7 1091.7h0M1266.7 879h0M1281.6 1045.4h0M1330.5 1049.3h0M1275.2 983.7h0M1292.6 938.2h0M1292.4 1027.2h0M1302.6 1042.3h0M1258 929.7h0M1310.8 1069.8h0M1292.8 1087.9h0M1288.5 1095.1h0M1292.6 914.9h0M1374.5 1094.4h0M1292.9 910.3h0M1319.9 1053.1h0M1288.1 1090.6h0M1335.5 1037.8h0M1267.1 886.3h0M1307.1 1092.9h0M1272.8 1051.9h0M1257.8 969.6h0M1279.8 1072.5h0M1259.1 905.2h0M1367.8 1091.3h0M1321.6 1056.7h0M1310.9 1097.4h0M1324.6 1051.6h0M1348.9 1072.2h0M1333.3 1069.2h0M1255 954.9h0M1278.5 931h0M1289.9 1084.7h0M1251.5 964.4h0M1286.9 988.2h0M1298 1072.2h0M1277.6 892.2h0M1280.9 1077.5h0M1265.5 953.9h0M1258.8 1035.6h0M1243.8 933h0M1321.9 1066.6h0M1269.5 927.7h0M1278.5 1038.9h0M1237.3 919.2h0M1262.4 934.1h0M1268.7 1065.6h0M1307.2 1046.2h0M1349.1 1068.1h0M1261.5 990.5h0M1319.4 1030.5h0M1300.7 1001.2h0M1276.4 1079.2h0M1326.6 1107h0M1277.2 1029.4h0M1264.8 904.3h0M1280.6 1063.1h0M1338.3 1100.7h0M1287.4 880.3h0M1309.6 1076.8h0M1270.3 905.8h0M1292.6 974.9h0M1266.2 943.5h0M1284.5 983.3h0M1299.7 1087h0M1335.2 1098h0M1346.2 1089.2h0M1293.8 927.9h0M1380.8 1091h0M1312.6 888.3h0M1320.1 885.6h0M1307.1 1010.6h0M1277.9 921.3h0M1308.6 1032.3h0M1313.4 996.6h0M1319.6 1075.7h0M1310.8 874.2h0M1303.7 992.2h0M1316.3 872h0M1281.9 935.7h0M1276 944.1h0M1323.4 1090.5h0M1264.4 1066.8h0M1285.7 1041.5h0M1278.8 968.1h0M1275 933.2h0M1270.9 947.8h0M1322.3 1079.4h0M1305.8 1029h0M1322.7 1008.2h0M1301.9 1077h0M1293.9 990.2h0M1297.3 981.9h0M1334.4 1080.7h0M1256.9 911.8h0M1313.8 1062.8h0M1293.9 1039.1h0M1301.1 977h0M1336.6 1084.3h0M1291.2 903.1h0M1380.9 1102.2h0M1276.8 964.7h0M1275.1 1042h0M1302.6 951.4h0M1318.7 1022.8h0M1307.8 928.5h0M1283 881h0M1299.9 1022.1h0M1306.1 968.7h0M1285.9 1066.2h0M1317.3 998.4h0M1328 1095.2h0M1349.1 1107.8h0M1303.3 997.5h0M1266.9 999.8h0M1266.7 917.3h0M1273.7 918.8h0M1355.4 1101.2h0M1271.6 901.6h0M1301.1 943.7h0M1265 1023.9h0M1313.9 897.6h0M1341.2 1097.7h0M1333.8 1076.4h0M1335.5 1033.7h0M1264.9 1061.7h0M1282.2 916.2h0M1295.1 967.5h0M1347.3 1095.1h0M1253.3 907.1h0M1284.4 886.1h0M1325.8 1028.7h0M1240.2 904.5h0M1260 1022h0M1309.5 897.3h0M1347 1101.8h0M1301.7 880.1h0M1293.9 906.2h0M1267.8 896.6h0M1247.7 933.2h0M1306 949.2h0M1305 1086.5h0M1301.3 956.3h0M1341 1081.1h0M1306.6 1040h0M1331.4 1023.5h0M1254.1 945.7h0M1337.8 1057.6h0M1315.9 902h0M1359.7 1085.9h0M1309.6 1059.1h0M1252.8 959.3h0M1346.7 1053h0M1298.2 931.2h0M1308.9 1026.3h0M1276.1 927h0M1292.5 997.5h0M1303 1025h0M1308.4 906.3h0M1351.9 1086.9h0M1332.9 1060.1h0M1261.6 912h0M1317.3 1096h0M1295.6 946.5h0M1311.1 981.1h0M1287.4 1019.5h0M1346 1084.3h0M1313.4 882h0M1278.4 960.3h0M1203.7 855.1h0M1212.6 875.2h0M1200.1 871.7h0M1230.7 889.4h0M1224.3 886.9h0M1234.3 879h0M1204.3 879.3h0M1219 885.5h0M1232.6 894.8h0M1231.3 877.6h0M1237.7 898.3h0M1237 894.6h0M1220.6 879.8h0M1242.6 888.3h0M1246.7 902.3h0M1233.6 886.4h0M1210.8 888.1h0M1229.8 886.2h0M1239.9 886.4h0M1226.5 897.3h0M1215.2 878.6h0M1211.2 872.3h0M1205.2 875.9h0M1234.5 903.3h0M1207.2 873h0M1242.5 899.7h0M1235.5 891.2h0M1249.1 893.4h0M1217.9 875.2h0M1208.1 877.3h0M1228.9 880.9h0M1239 890h0M1229.9 902.3h0M1240.3 895h0M1200.3 879.7h0M1214.2 885.8h0M1229.4 893.7h0M1241.7 913.3h0M1224.4 883.2h0M1200.1 875.8h0M1224.3 886.1h0M1227.8 877.5h0M1237.3 881.5h0M1229.8 897.9h0M1243.5 903.3h0M1211.7 879.2h0M1246.2 895h0M1206.1 885.3h0M1254.9 896.1h0M1216 881.8h0M1214 879.3h0M1204.3 871.6h0M1232 902.1h0M1230 884.6h0M1202 866.6h0M1203.4 871.4h0M1247.1 889.5h0M1223.3 885.9h0M1231.2 894.8h0M1192.2 794.3h0M1192.6 801.2h0M1188.1 800.3h0M1190.2 783.9h0M1196.2 778.1h0M1198.7 782.6h0M1191.6 789.5h0M1195.9 788.9h0M1191.9 814.4h0M1188.3 835.2h0M1187.7 825.4h0M1180 823.3h0M1188.1 814.8h0M1178.8 819.7h0M1191 822.6h0M1178.6 811.3h0M1183.6 810.7h0M1189.7 831.7h0M1183.8 822.3h0M1190.4 817.3h0M1173.7 816.3h0M1193.2 831h0M1186.4 829.4h0M1188.6 810.3h0M1173 823.2h0M1182.2 830h0M1175.6 820.7h0M1195.5 826h0M1194.4 816.5h0M1177.1 825.2h0M1212 768h0M1216 778h0M1222 779h0M1208 816h0M1212 825h0M1220 831h0M1217 839h0M1234 821h0M1159 719h0M1166 719h0M1193 731h0M1201 724h0M1127 851h0M1135 859h0M933 647h0M936 649h0M938 651h0M951 652h0M932 685h0M991.5 667.3h0M999.2 659.3h0M980.2 657.8h0M973.2 664.5h0M978.2 667.1h0M990.6 657.7h0M986.1 661.7h0M975.4 658.7h0M992.8 663.7h0M999.2 662.8h0M987.4 665.4h0M995.1 658.8h0M981.6 653.6h0M982.7 665.2h0M987 668.7h0M956.5 675.4h0M945.8 681.3h0M959.3 672.8h0M951.1 678.9h0M947.8 679.8h0M957.8 673.1h0M1048.5 627h0M1040 645h0M1038.5 670h0M1051 670.5h0M1032 687h0M1055 684h0M1090.9 732.3h0M1103 756.2h0M1097.6 748.1h0M1101.2 759.1h0M1085.9 738.9h0M1092.7 738.4h0M1052 700.4h0M1087.3 716.6h0M1087.1 731.1h0M1083.7 710.6h0M1086.7 742.1h0M1073.8 719.2h0M1078 713.2h0M1054.8 706.2h0M1069.9 727.3h0M1085.4 703.3h0M1090.5 746.1h0M1078.3 728.5h0M1078 735.6h0M1058.8 716.7h0M1093.4 742.6h0M1042 703.2h0M1099.5 753h0M1048.9 703.8h0M1069.9 700.4h0M1062.3 723.1h0M1062.4 701.4h0M1039.7 699.4h0M1083.1 714.4h0M1102.9 764.1h0M1052.2 703.5h0M1072.5 724.6h0M1086.3 699.5h0M1084.7 744.5h0M1057.6 703.2h0M1044.8 705.1h0M1046.6 708.4h0M1098.2 740.2h0M1045.6 692h0M1072.6 714.7h0M1081.7 743.9h0M1108.4 759.5h0M1048 696.8h0M1055.2 691.9h0M1096.6 756.3h0M1044.4 695.5h0M1082.1 729.7h0M1064.4 711.6h0M1078.9 702.5h0M1061.6 708h0M1089.4 738h0M1065.7 725.2h0M1106.3 766.2h0M1065.1 721.6h0M1063 718.5h0M1067.5 704.2h0M1072.8 721.8h0M1098.3 743.8h0M1074.3 730.9h0M1054.6 696.4h0M1092.5 750.4h0M1075.4 739h0M1042.4 691.5h0M1077.7 718.3h0M1089.6 705.8h0M1069.1 712.1h0M1084.9 723.7h0M1081.7 734.9h0M1076.7 709.5h0M1076.5 705.8h0M1053.3 714.7h0M1070.2 716.8h0M1076.3 722.9h0M1087.1 727.3h0M1079.8 709.8h0M1070 734.3h0M1072.6 702h0M1045.2 701.3h0M1079.4 725.5h0M1059.4 711.8h0M1088 709.9h0M1057.5 719h0M1052.2 711h0M1102 756h0M1082.6 707.7h0M1089.1 734.5h0M1039.9 693.3h0M1058.8 718.8h0M1095.4 752.3h0M1100.4 749.9h0M1081.2 710h0M1089.1 750.2h0M1073.8 712h0M1076.2 701h0M1051.9 691.9h0M1059 720.9h0M1067.3 709.4h0M1065.3 728.8h0M1068.3 730h0M1058.4 695.8h0M1050.2 713.6h0M1079.7 720.8h0M1074.2 721.4h0M1081 723h0M1051.6 695.3h0M1049.3 709.9h0M1105 710h0M1113 712h0M1099 717h0M1100 746h0M1104 744h0M1067 744h0M1075 742h0M1093.1 929.7h0M1082.6 933.4h0M1097.6 929.3h0M1106 935.9h0M1072.6 947.1h0M1110.8 939.3h0M1080.8 944.4h0M1079 939.5h0M1107.5 928.8h0M1099.1 917.2h0M1090.8 945.9h0M1095.8 938.8h0M1103.2 922.4h0M1084.6 950.2h0M1098.8 943.1h0M1097.9 933.9h0M1103.3 929h0M1087.2 946.2h0M1108.3 949.4h0M1087.6 922.2h0M1089.3 957.1h0M1068.6 940h0M1085.1 931.3h0M1095.4 955.9h0M1080.6 957.1h0M1071.2 929.3h0M1100.4 946.1h0M1089.5 951.6h0M1063.5 931.1h0M1096.1 925h0M1103.2 960.6h0M1068.8 932.5h0M1102.7 954.1h0M1087.1 933.9h0M1117.2 941.6h0M1101.6 933.8h0M1077.5 925.3h0M1114.2 951.8h0M1087.9 938.4h0M1078.2 952h0M1113.9 944.7h0M1094 919.8h0M1077.2 921.8h0M1076.8 944.5h0M1108.1 958.7h0M1114.1 956.4h0M1079.5 948.2h0M1093.2 949.2h0M1094.4 934h0M1083.5 941.9h0M1099.4 938.4h0M1062.5 925.2h0M1090.8 920.3h0M1073.9 938.6h0M1110.1 934.5h0M1112 948.7h0M1106.6 951.7h0M1110.4 942.9h0M1089.9 924.6h0M1069.1 925.2h0M1081.2 921.8h0M1093.2 915.9h0M1108.1 949.7h0M1113.4 937.3h0M1083.6 937.2h0M1098.4 952.8h0M1120 943.7h0M1109 947.7h0M1065.2 938h0M1089.8 944.3h0M1084.6 920.1h0M1065.2 928.2h0M1111.3 926.4h0M1141.9 929.9h0M1154.8 935.3h0M1166.5 955.7h0M1167.2 936.3h0M1132 940.2h0M1126.4 947.5h0M1151.6 953.8h0M1165.9 945.5h0M1138.6 932.1h0M1159.2 952.6h0M1142.2 963.7h0M1146.5 968.8h0M1144.5 954.2h0M1125.1 960h0M1150 950.2h0M1141 939.6h0M1120.7 933h0M1147.8 940.1h0M1160.3 962.6h0M1121.6 961h0M1144.6 959.7h0M1118 956.9h0M1135.5 928.7h0M1160.5 948.6h0M1146 973.8h0M1168.9 950.5h0M1133.8 952.4h0M1125.2 963.9h0M1156.8 957.5h0M1141.1 949.4h0M1153.7 960.3h0M1106 882h0M1106 887h0M1129 894h0M1116 904h0M1083 906h0M1077 912h0M915.8 1197.4h0M914.9 1193.5h0M894.6 1196.8h0M870.4 1173.3h0M922.7 1186.4h0M921.1 1200.3h0M871.4 1192.3h0M878 1193.3h0M890.1 1205.6h0M874.1 1182.5h0M870.9 1196.8h0M881.8 1185.6h0M908.3 1182.8h0M867.3 1181.1h0M890.5 1210.1h0M873.3 1178.3h0M896.9 1189.5h0M887.4 1184.5h0M925.5 1194.3h0M909.8 1204h0M922.3 1195.1h0M861.7 1166h0M885.4 1188.5h0M921.8 1180.3h0M903.4 1202.3h0M867.7 1188.6h0M931.3 1187.7h0M873.8 1174.1h0M933.9 1184.2h0M931.7 1180h0M899 1198.3h0M861.6 1162.2h0M894.9 1202.2h0M921.9 1190.7h0M885.7 1202.4h0M929.1 1196.7h0M876.3 1178.2h0M887.1 1207.1h0M926.5 1187.4h0M902.5 1205.6h0M890.1 1197.9h0M933.6 1190.5h0M880.5 1188.9h0M887.3 1192.5h0M865.8 1169.2h0M896.2 1181.7h0M891.9 1191.3h0M868.3 1176.3h0M882.5 1197.5h0M873.3 1175.4h0M913.7 1183.3h0M901.4 1191.4h0M889.6 1182.1h0M885 1209.8h0M882.1 1207.3h0M905.1 1192h0M884.8 1194.8h0M868.3 1171.1h0M908.6 1188.9h0M907.1 1197.6h0M911.6 1194.4h0M890.3 1193.9h0M894.2 1191.1h0M861.9 1171.5h0M874.3 1197.5h0M891.6 1185.6h0M901.8 1194.7h0M905 1186.9h0M931.3 1183.5h0M873.4 1201.4h0M900.3 1207.9h0M870.8 1183.5h0M918.2 1186.4h0M896.5 1186.4h0M946 1172.7h0M994.2 1165.5h0M946.7 1183.3h0M958.9 1180.1h0M979.1 1165.6h0M957.8 1169.4h0M961.1 1174.3h0M983 1171.2h0M953.9 1175.6h0M979.8 1159.1h0M947.3 1177.7h0M989.4 1162h0M967.4 1172.6h0M990.4 1169h0M983.2 1165.6h0M987.7 1166.9h0M974.4 1177.5h0M957.2 1175.1h0M938.8 1169h0M1005.8 1158.8h0M976.6 1174.3h0M1001.5 1164.4h0M970.1 1160.9h0M994 1157.4h0M943.5 1175.3h0M1009.7 1165.2h0M1006.7 1170.8h0M985.9 1172.8h0M1000.8 1158.7h0M972.8 1173.2h0M973.4 1169.5h0M995.2 1160.5h0M983.6 1178.8h0M966.6 1157.2h0M939.7 1176.7h0M994.8 1171.8h0M968.6 1168.8h0M1109.3 1107.2h0M1118.6 1091.3h0M1105.4 1111.2h0M1112 1111.1h0M1112.8 1103.2h0M1116.1 1100.1h0M1110.7 1100.4h0M1025.1 1169.9h0M1055.4 1085.3h0M1071.4 1136.7h0M1102 1116.1h0M1044.3 1141.3h0M1065.9 1139h0M1108.5 1138.8h0M1090.6 1085.9h0M1117.9 1087.5h0M1085.4 1138h0M1097.7 1119h0M1032.7 1133.8h0M1086.4 1142.3h0M1063.7 1088.2h0M1084.1 1146.2h0M1057.6 1088.3h0M1061.8 1138.2h0M1048.7 1145.6h0M1055.1 1154.8h0M1022 1173.1h0M1087.7 1146h0M1084 1103.4h0M1120.2 1102.9h0M1067.9 1088.9h0M1065.2 1094h0M1065.6 1151.7h0M1111.1 1086.4h0M1062.4 1096.6h0M1043.4 1170.9h0M1068.8 1092.6h0M1074.6 1121.5h0M1022.5 1135.3h0M1039 1145.9h0M1059.2 1083.2h0M1009.6 1182.5h0M1065.3 1146.6h0M1016.9 1153.7h0M1095 1131.5h0M1090.7 1097h0M1049 1110.1h0M1066.9 1112.4h0M1033.5 1127.6h0M1063.9 1114.8h0M1036 1107.4h0M1074.6 1125.8h0M1107 1101.4h0M1023.8 1177.9h0M1025.7 1140h0M1047.5 1159.5h0M1120.1 1118.1h0M1075.7 1102.1h0M1028.3 1136.8h0M1059.5 1151.5h0M1022.4 1148.5h0M1109.5 1126h0M1103.5 1140.3h0M1114.5 1088.3h0M1079.5 1106.2h0M1088.6 1074h0M1080.5 1111.7h0M1111 1133h0M1021.8 1144.2h0M1015.1 1175.9h0M1047.8 1164.2h0M1092.7 1068.9h0M1107.5 1096.8h0M1125.8 1099.1h0M1096.6 1095.5h0M1103.7 1102.7h0M1076.9 1143.6h0M1027.6 1143.6h0M1102.8 1077.9h0M1087.1 1089.4h0M1072.1 1130.5h0M1061 1143.8h0M1023.1 1125.2h0M1048.1 1094.2h0M1080.5 1119.2h0M1080.8 1091.4h0M1099.5 1071.3h0M1089.9 1106.7h0M1094.6 1074.8h0M1057.6 1162.6h0M1105.4 1121.4h0M1103.7 1098h0M1060.5 1130.8h0M1109.7 1117.8h0M1076.7 1080.8h0M1020.1 1152.2h0M1041.6 1107.7h0M1121.4 1079.5h0M1051.1 1160.8h0M1026.9 1123.1h0M1006.6 1177.2h0M1053.5 1136.7h0M1039.1 1164.3h0M1059.3 1157.7h0M1056.1 1101.8h0M1053.6 1131.9h0M1075.4 1110.5h0M1097.1 1107.8h0M1096.5 1144.5h0M1089.3 1067.5h0M1030.5 1174.2h0M1070.7 1105.9h0M1041.8 1157.8h0M1087.5 1070.4h0M1029.5 1165.6h0M1171 991.4h0M1139.7 976h0M1180.2 1024.6h0M1244.1 1036.1h0M1115.7 996.2h0M1221.5 1035.6h0M1117.6 1006.2h0M1136.3 1011.9h0M1200.3 1013.2h0M1185.7 997h0M1195.1 1032.8h0M1162.5 1027.1h0M1165.5 1008.2h0M1147.3 1028.8h0M1125.8 1049h0M1111.2 1069.3h0M1123.2 1053.6h0M1134.8 1045.1h0M1118.3 1064.1h0M1116.5 1075.8h0M1133.2 1037.3h0M1137.6 1042.4h0M1131.2 1042.7h0M1144.7 1039.2h0M1122 1039.6h0M1134.9 1053.1h0M1109.5 1065.1h0M1112.9 1076.8h0M1124.1 1046.2h0M1112.8 1063.2h0M1128.1 1067.7h0M1140 1045.9h0M1122.5 1059.1h0M1116.6 1071.4h0M1124 1042.5h0M1130.4 1047.1h0M1108.4 1073.8h0M1141.5 1030h0M1156.6 1037.7h0M1118.2 1058.2h0M1133.6 1032.6h0M1137 1027.6h0M1131.5 1051.9h0M1135.3 1057.3h0M1149.4 1033.7h0M1137 1039.2h0M1110.9 1052.7h0M1128.9 1058.9h0M1109.3 1077.8h0M1126.5 1061.1h0M1110.7 1062.1h0M1199.1 1083.1h0M1199.1 1109h0M1219.2 1077.3h0M1235.8 1057.9h0M1146.7 1105.3h0M1183.7 1084h0M1266.6 1079.7h0M1211.2 1078.4h0M1130.4 1085.8h0M1215.1 1080.1h0M1175.9 1115.5h0M1176 1094.3h0M1162.1 1106.9h0M1130.4 1093.2h0M1198 1095.3h0M1176.7 1100.8h0M1187.4 1111.8h0M1195.2 1089.9h0M1160 1092.8h0M1147.7 1089.5h0M1252.1 1053.5h0M1257.7 1061.8h0M1212 1090.9h0M1239.7 1081.7h0M1237.9 1077.6h0M1154 1105.6h0M1114.5 1080.4h0M1122.6 1088.4h0M1164.8 1098.6h0M1252.3 1086.9h0M1230.2 1076.4h0M1242.8 1078.1h0M1179.7 1102.6h0M1144.4 1084.2h0M1138 1086.3h0M1141.5 1102.5h0M1253.7 1080.3h0M1257.7 1067.1h0M1260.9 1092.1h0M1253.1 1076.9h0M1220.4 1102.7h0M1216 1086.2h0M1165 1103.1h0M1209.4 1081.5h0M1124.2 1083.1h0M1180.8 1094.2h0M1240.6 1086.6h0M1126.1 1086.9h0M1153.2 1099.8h0M1153.9 1096.2h0M1206.9 1086.2h0M1256.1 1083.9h0M1156.3 1072.2h0M1185.2 1090.2h0M1170.8 1098.1h0M1170.1 1103.1h0M1233.4 1085.2h0M1184.6 1100.2h0M1168.9 1088.9h0M1201.5 1099.2h0M1135.6 1083.7h0M1224.3 1104.8h0M1203.2 1108.1h0M1156.7 1090.9h0M1268.5 1074h0M1179.7 1109.2h0M1182.8 1106.3h0M1184.1 1095.1h0M1189.1 1102.8h0M1173.5 1104.8h0M1188.8 1095.8h0M1167.1 1109.8h0M1169 1093.5h0M1179.4 1107.4h0M1167.6 1100.8h0M1171.7 1107.9h0M1179.2 1098.6h0M1172.6 1105.2h0M1173.5 1097.2h0M1244 1055.2h0M1245.6 1091.3h0M1283.9 1070.2h0M1223.2 1065.6h0M1215 1066.5h0M1277.6 1100.5h0M1246.5 1098.5h0M1218.4 1061.9h0M1232.7 1102h0M1256.6 1093.8h0M1239.5 1064h0M1272.1 1064h0M1283.6 1082.3h0M1247.8 1052.1h0M1251.6 1097.4h0M1233.4 1081.4h0M1226.6 1074.9h0M1239.6 1059.7h0M1234.6 1089.7h0M1246.9 1085.9h0M1258.6 1101.7h0M1270.9 1088.9h0M1223.3 1056.6h0M1265.1 1102.9h0M1221 1087.3h0M1240.6 1072.9h0M1228.6 1071.4h0M1224.2 1057.1h0M1269.7 1104.8h0M1267.1 1098.2h0M1272.3 1095.6h0M1272 1069.7h0M1233.6 1066.9h0M1251.2 1060.6h0M1182.3 988.4h0M1221.7 1001.8h0M1195.5 994.7h0M1267.9 1019.9h0M1167.7 989.1h0M1224.7 1007.6h0M1233.5 1011h0M1198.4 998h0M1248.1 1017h0M1248.9 1013.1h0M1170.1 980.3h0M1247.3 1005.1h0M1233.2 1005.4h0M1211.9 1002.5h0M1203.2 1003.5h0M1176.1 990.5h0M1256 1017.8h0M1228.9 1004.6h0M1166.9 978.4h0M1196.3 991.2h0M1237.2 1009.2h0M1188.2 993.3h0M1240.6 1011.3h0M1166.6 983.7h0M1240.4 1006.3h0M1214.2 1000h0M1264.4 1018.9h0M1180.1 995.8h0M1102 1021h0M1166 1009h0M1167 1021h0M1170 1037h0M1184 1038h0M1195 1051h0M1287.9 1106.6h0M1392.4 1127.9h0M1251.3 1038.9h0M1328.6 1124.2h0M1247.3 1046.1h0M1361.5 1118.3h0M1300.9 1111.1h0M1362.2 1126.9h0M1241.4 1043.3h0M1298.3 1103.8h0M1316.3 1109.4h0M1395.1 1120.4h0M1356.1 1119.7h0M1263.6 1083.2h0M1384.4 1113.2h0M1293 1112.8h0M1369.6 1128.1h0M1287.2 1115.3h0M1376.3 1120.2h0M1255.6 1030.2h0M1325.9 1111.1h0M1247.5 1026.8h0M1396 1133.4h0M1382.5 1129.8h0M1349.6 1123.1h0M1253 1065.9h0M1336.9 1113.2h0M1386.3 1134.9h0M1396.9 1126.8h0M1390.8 1122.7h0M1254.3 1047.4h0M1321.8 1122.9h0M1342.1 1116.5h0M1328 1123.4h0M1350.3 1113h0M1389.4 1111.6h0M1332.3 1117.1h0M1248.3 1031.2h0M462 1016.7h0M459.7 1041.7h0M539.7 1007.5h0M537 1175.5h0M517.5 1145.8h0M526.7 1030.8h0M531.7 1033.3h0M520 1035.8h0M505 1037.5h0M510 1038.3h0M520.8 1042.8h0M502.5 1047.5h0M507.5 1048.3h0M501.7 1055h0M494.2 1059.2h0M500 1063.3h0M495.8 1065h0M488.3 1066.2h0M483.7 1072.8h0M477.5 1056.7h0M477 1060h0M492.5 1077.5h0M490.8 1078h0M497.5 1090.5h0M493.3 1092.8h0M495 1095.8h0M490 1098.3h0M458.4 1050.4h0M456.2 1057.2h0M463.3 1057.1h0M463.9 1050.2h0M461.6 1054.5h0M460.7 1060.5h0M457.4 1062.1h0M465.8 1052.8h0M462.7 1055.3h0M465.6 1059.1h0M516.7 1134.4h0M466.4 1070.9h0M512.6 1137.4h0M502 1117.1h0M467 1076.2h0M514.6 1132.7h0M482 1099.1h0M497.2 1115.7h0M473.5 1086.2h0M495 1108.8h0M477.1 1090.3h0M488.5 1107.1h0M489.9 1110.4h0M484.8 1106.6h0M482.5 1094.6h0M464.1 1064.1h0M496.8 1112.3h0M471.8 1083.4h0M508.9 1126.7h0M480.1 1090h0M466 1066.7h0M479.2 1093.2h0M472.3 1080.1h0M502.2 1121h0M506.7 1128.5h0M474 1090.1h0M476 1084.1h0M486.8 1103h0M511.2 1129.3h0M483.2 1101.9h0M480 1096.4h0M501.3 1120.6h0M502.6 1117.7h0M469 1081.5h0M490.4 1108.8h0M476.8 1088.5h0M491.8 1109.1h0M513.7 1130.8h0M472.7 1078h0M475.6 1094.9h0M483.5 1101.3h0M476.9 1093.2h0M471.2 1079h0M510.5 1132.4h0M492.7 1112h0M468.7 1080.4h0M484.6 1103.3h0M499.4 1118.7h0M462.6 1072h0M502.7 1118.3h0M479.9 1101.7h0M507.5 1127.9h0M497.2 1116.4h0M489.3 1104.1h0M466.7 1066.4h0M462.6 1066.8h0M468.8 1072.1h0M507.5 1123h0M469.4 1078.2h0M468.1 1073h0M497 1114.2h0M512.1 1132.9h0M524.4 1160.1h0M525.5 1167.8h0M533.3 1162.5h0M525.9 1156h0M531.6 1170.4h0M530 1155h0M537.9 1163.6h0M534.9 1156.9h0M528.8 1161h0M539.1 1160h0M533.4 1167.7h0M533.2 1160.9h0M529.8 1166.2h0M357.3 628h0M373.3 625.3h0M364 640h0M368 627.5h0M377.4 671.8h0M379 662.6h0M373.3 658.2h0M395.8 664.2h0M389 661.7h0M386.3 674.5h0M372.4 666.4h0M380.1 659.6h0M399.4 668.7h0M399.4 664.9h0M366.2 665.8h0M402.5 666.1h0M366.3 659.7h0M381.4 660.5h0M395.9 667.5h0M366.7 653.3h0M369.3 660h0M374.7 646.1h0M362.7 672h0M385.3 684h0M393.3 678.1h0M396 652h0M382.7 654.7h0M402.7 657.9h0M404.8 665.3h0M469.4 666.6h0M468.8 674h0M420.8 735.3h0M465.1 643.5h0M417.5 750.3h0M441.9 748.2h0M415.4 735.9h0M457.6 677.8h0M486.8 706.5h0M409.6 736.2h0M459.2 720.6h0M445.9 695.8h0M436.4 667.9h0M431 737.4h0M464.6 638.4h0M421.9 712.2h0M427.1 715.1h0M419.8 692.9h0M468.5 651.1h0M447.6 642.1h0M471.2 678.2h0M437.9 731.1h0M464.2 723.2h0M459.5 644.6h0M417.8 725.7h0M444.9 698.9h0M469.1 646.7h0M444.6 726.3h0M429.4 671.9h0M421 716.2h0M465.2 733.2h0M420 738.6h0M453 649.6h0M409.7 741.9h0M414.1 727.7h0M426.9 719.7h0M420.9 680.9h0M447.7 663h0M421.7 686h0M475.8 725.1h0M464 675h0M454.5 713.2h0M462 699.7h0M489 698.1h0M450.6 639.5h0M461 710.2h0M448.6 727.5h0M436.3 653.3h0M441.3 673h0M430.9 709h0M445.4 751.8h0M451.1 731.7h0M449.3 645.9h0M454.8 653.5h0M458.4 683.7h0M474.2 719.3h0M451.3 665h0M455.6 686.3h0M491.5 703.9h0M430.2 733.7h0M440.2 704.8h0M417.7 719h0M441.9 656.1h0M478.1 691.8h0M430 666.4h0M431 699.6h0M453 728.3h0M456.6 650.5h0M434 694.9h0M433.9 662.9h0M412.4 720h0M461.2 735h0M465.4 685.4h0M423.9 731.8h0M437.4 661h0M432.3 718.6h0M450.6 717.6h0M449 712.6h0M490.3 706.9h0M445.5 656.3h0M413.2 708.9h0M456.2 660.5h0M443.5 660.3h0M468 716.4h0M418 707.9h0M417.5 729.6h0M449 651.5h0M471.7 705.7h0M415.1 723.6h0M424 688.3h0M450.2 675h0M453.5 683.9h0M471.3 700.3h0M473.9 674.2h0M454 642.2h0M416 712.3h0M424.7 680.7h0M448.8 656.6h0M476.7 687h0M462.3 654.7h0M426.7 670h0M438.6 696.8h0M445.5 722.8h0M446.4 731h0M460.2 638.7h0M459.4 724.5h0M417.3 695.7h0M446 735.9h0M421.6 664.6h0M424.9 706.7h0M438.9 718.3h0M441.4 665.8h0M422.3 698.5h0M469 725.6h0M416.5 700.1h0M470.7 690.1h0M485.9 685.1h0M423.9 667.8h0M432.1 714.1h0M474.2 713.2h0M425.8 676h0M463.2 651.5h0M447.2 704.5h0M436.9 703.5h0M463.2 661.6h0M466.5 655.1h0M433.7 755.5h0M417.6 744.5h0M440 724.3h0M482.3 685.1h0M516 712h0M514.7 660h0M525.3 690.7h0M538.7 692h0M528 726.7h0M406.7 686.7h0M412 757.3h0M448 749.3h0M457.3 745.3h0M528.2 614h0M525.2 613h0M565.8 640.1h0M576.3 637.7h0M539.6 615.1h0M577.8 641.7h0M567 633.8h0M549.5 617.2h0M516.8 613.4h0M573.2 630.4h0M579.6 644.1h0M560.3 629.7h0M562.5 626.7h0M526.5 609.8h0M568 637.3h0M552.7 622.5h0M547.7 621.9h0M556.8 628h0M582.9 644.2h0M573.2 648h0M532.6 610.2h0M583.4 648.6h0M570.2 640.3h0M555.9 624.8h0M583.9 637.8h0M519.9 610.2h0M555.7 621.4h0M544.4 610.8h0M567 627.5h0M544.6 617.2h0M527.3 606.3h0M587.6 648.1h0M557.6 628.8h0M562.3 628.2h0M521.6 614.7h0M536.2 612.4h0M587.7 644h0M564.3 636.4h0M553.1 618.2h0M572.7 642.6h0M533.1 614.8h0M561 623.6h0M562.7 606.7h0M541.3 608h0M610.6 597.9h0M612.5 572.9h0M610.3 608.7h0M615.3 643.9h0M617.3 592.2h0M611.8 636h0M617.7 618.5h0M601.2 612.3h0M609.8 632.4h0M617.3 638h0M626.5 616.2h0M615.1 623.9h0M612.8 576.4h0M608.4 619.4h0M605.7 591.3h0M603.2 626.8h0M612.3 604.8h0M614.3 627.8h0M619.3 572.2h0M616.6 603.1h0M606.6 631h0M615.2 611h0M603.2 618.8h0M623.9 595.9h0M619.2 583.1h0M601.7 587.2h0M605.6 622.7h0M611 592.1h0M607.8 637.9h0M602.8 644h0M623 640h0M605.5 606.5h0M612.6 640.8h0M603 589.8h0M621.2 579.3h0M600.1 582.2h0M650.7 530.7h0M588 593.3h0M638.7 585.9h0M632 600.8h0M705.3 542.7h0M692 568h0M685.3 581.3h0M674.7 582.7h0M648 594.7h0M666.7 592h0M666.7 608h0M694.7 596h0M690.7 602.7h0M637.3 655.2h0M557.4 673.2h0M630.1 664.5h0M553.1 646.2h0M598.6 675.2h0M635.6 672.5h0M623.9 676.2h0M596.6 637.4h0M613 667.4h0M600.1 668.8h0M669.4 677.9h0M620.4 670.2h0M643.6 667.5h0M621 644.5h0M621.7 689.8h0M591.5 683.1h0M554.8 700.3h0M648.6 681.2h0M626.8 630.7h0M597.6 655h0M594.2 659.6h0M622.5 697.2h0M598.2 649h0M590.3 667.9h0M607 676.8h0M650.9 661.6h0M565.8 647.2h0M634.7 680.4h0M640 642.6h0M606.3 688.9h0M655.8 685.2h0M603 680.3h0M632 703.5h0M556.3 655.7h0M640.4 656.4h0M635 664.6h0M540.2 655.8h0M602.6 672.7h0M625.1 650.7h0M673.8 641.1h0M530.4 644.2h0M606.4 683.1h0M620.3 665.2h0M637.2 612.4h0M582.8 664.4h0M611.2 680.2h0M626.8 708.4h0M615.6 648.2h0M651 623.3h0M584.5 695.4h0M633 646.7h0M636.9 637.8h0M572 663.5h0M607.1 653.7h0M684.6 695.6h0M587.2 680.6h0M552.3 675.6h0M589.6 693.7h0M556.2 678.5h0M623.4 656h0M662.5 644.7h0M587.7 674h0M601.2 685.1h0M633.9 675.3h0M587.8 658.5h0M601.2 655h0M627.8 668.3h0M610.9 683.8h0M616.8 682h0M609.8 648.7h0M635.4 664h0M597.2 680.1h0M621.2 660.2h0M605.9 666.4h0M591.6 673.1h0M628.1 678.7h0M628.5 652.3h0M608.9 662.3h0M632.9 667.1h0M592.1 678.4h0M596.4 667.1h0M596.8 672.1h0M606.4 647.7h0M638.6 674.3h0M618.2 656.9h0M648.5 650.8h0M656.3 667.2h0M653.1 669.4h0M626 692h0M643.6 684.9h0M668.6 667.8h0M661.7 676.7h0M627.8 661.3h0M671 691.1h0M654.6 691.7h0M645.8 643.9h0M641.7 651.5h0M649.9 697.8h0M672.3 658h0M673.9 675.3h0M659.8 648h0M649.4 667.2h0M620.3 682.8h0M646.1 671.4h0M659 703.2h0M666.3 696.8h0M652.4 679.6h0M644.4 705h0M665.7 671.5h0M660.9 654.7h0M649.8 704.5h0M636.2 689.7h0M645.1 657.2h0M651.4 673.4h0M648.2 686.4h0M634.4 693.1h0M649.6 689.9h0M655.8 705.1h0M673.9 681.5h0M635 684.5h0M637.6 647.5h0M664.6 654.1h0M736.3 631.1h0M727.5 631.3h0M730.1 619.9h0M731.2 623.6h0M741.7 628.7h0M724.7 625.3h0M745.7 631h0M729 637.2h0M718.1 635.9h0M742.4 622.9h0M714.6 631.4h0M719.9 640.2h0M717.8 627.3h0M746.5 636.7h0M734.6 641.2h0M734.7 627.3h0M724.3 637h0M739 620.1h0M747.2 623.6h0M741.6 642.6h0M720.7 630.1h0M757.3 617.3h0M764 620.8h0M776 623.5h0M780 624.5h0M690.7 624h0M704 622.1h0M701.3 611.5h0M710.7 613.3h0M665.3 634.1h0M696 674.7h0M690.7 680h0M685.3 686.7h0M706.1 706.1h0M671.8 722.1h0M670.8 717.2h0M670.9 710.7h0M662 712.2h0M678.2 718.9h0M673.9 705h0M686.3 717.4h0M665.9 703.8h0M665 724.2h0M671.2 699.2h0M679.5 704.5h0M660.3 699.3h0M658.5 689.7h0M671.6 700.9h0M677.7 711.9h0M663.4 703.3h0M656.5 689.4h0M681.2 713h0M678.4 717.5h0M674.3 729.4h0M656 742.1h0M602.3 742.3h0M598.1 752.7h0M590.8 718.5h0M590.2 711.2h0M590.6 714.6h0M589.9 730.2h0M591.7 725.2h0M588.3 721.5h0M548 728h0M557.3 742.1h0M547.2 771.4h0M542.9 776.7h0M537.6 764.2h0M538.9 755.9h0M534.1 765.2h0M546.4 765.7h0M566.4 768.7h0M590.2 758.5h0M587.1 766.4h0M575.6 763.1h0M570.3 766.8h0M527.7 802.1h0M536.3 803.5h0M523.1 784.4h0M543.4 795.2h0M531.2 776.7h0M528.4 783.2h0M541.4 800.7h0M545.2 785.6h0M527 794.7h0M538.2 783.7h0M532.5 792.7h0M521.2 794.1h0M578.1 777.3h0M578.7 788h0M598.7 792h0M600 798.7h0M613.3 761.3h0M610.7 764h0M621.9 757.3h0M625.1 759.9h0M628.4 754.4h0M627 763.4h0M631.1 758.8h0M629.7 738.6h0M625.3 753.5h0M630.4 748.7h0M627 745.8h0M626.5 749.2h0M628.1 735.6h0M629.6 737.1h0M630.9 762.8h0M637.4 787.3h0M626.3 777.1h0M641.3 793.1h0M625.5 769.5h0M634.2 779.1h0M638 770.4h0M635.7 773.8h0M631 775.4h0M631.4 787.2h0M631.7 771.4h0M637.9 765.8h0M643.1 781.4h0M633 792.6h0M633.7 784.4h0M629.1 766.7h0M634.1 789.1h0M644.9 789.4h0M635.3 767.7h0M637.8 782.7h0M639.2 790h0M640 778.4h0M633.7 782.9h0M638 794.9h0M637.5 775.3h0M602.5 840.5h0M606.3 844.5h0M628.5 800.3h0M619.2 822.3h0M630 803.7h0M636.2 797.2h0M593.1 830.2h0M626.4 824.4h0M617.8 819.4h0M600.8 837.7h0M613.3 829.3h0M600.2 834.1h0M623.3 814.2h0M593.4 842.3h0M587.6 828.8h0M609 827.8h0M618.9 814.1h0M589.1 834h0M625.9 803.1h0M620.9 817.6h0M625.6 806.2h0M629.2 795.6h0M595.6 837.3h0M603.4 829.8h0M596.2 843.9h0M624.7 811.1h0M609.3 824.1h0M632.8 795.6h0M599.9 826.2h0M603.2 834.1h0M603.6 826.8h0M627.9 809.4h0M612.7 820.7h0M602.6 833.6h0M597.7 840.1h0M616.1 815.5h0M615.4 812.5h0M631.1 799.1h0M627.8 812.6h0M605.4 838.8h0M623.5 816.5h0M606 835.1h0M608.7 818h0M621.5 807.7h0M625.2 800.1h0M614.9 818.9h0M623.8 822.1h0M621.6 811.1h0M600.1 842.4h0M609.6 815.8h0M629.5 794.8h0M601.4 845.1h0M593 839h0M618.5 830.5h0M606.7 830.1h0M607.5 834.2h0M632.3 796.1h0M616.7 827h0M633.3 803.2h0M626.9 797.3h0M608.2 832.6h0M620.3 812.6h0M610.6 834.4h0M619.3 805.5h0M590.8 837.2h0M622.5 807h0M598 849.3h0M602.7 831.9h0M563.9 860.8h0M571.5 869.1h0M571.8 862.3h0M572.2 865.8h0M566 865.7h0M584.7 855.3h0M594.9 851.8h0M568.4 844h0M591.3 854.7h0M573.9 846.1h0M584.2 859.4h0M579 868.8h0M569.4 849.3h0M582.1 866.4h0M589.9 842.4h0M576.6 859.5h0M566.2 849.8h0M584.1 842.4h0M583.1 863h0M575.6 862.4h0M580.5 855.7h0M594.4 833.3h0M586.1 847.6h0M572.8 854.3h0M597.2 857h0M573.1 850.8h0M567.8 868.3h0M591.6 858.1h0M565.2 847h0M566.8 856h0M585.6 865.3h0M598.4 837h0M575.6 865.7h0M576.1 846.4h0M560.1 852.2h0M576.1 870.3h0M579.3 861.9h0M582.5 847.1h0M592.6 861.3h0M587.5 839.5h0M572.5 858.7h0M587.7 844.6h0M569.2 853.9h0M572 828h0M577.3 822.7h0M584 825.9h0M592 825.9h0M558.7 840h0M558.7 853.3h0"/>
<path stroke="#1d1147" d="M1001.3 417.1h0M1615.3 1069.5h0M893.1 1205.1h0M593.7 742.8h0M1127.5 1062.2h0M1677.9 889.7h0M1550.4 1111.2h0M1427.5 939.6h0"/>
<path stroke="#2a115c" d="M1410 1086h0M973.4 1185.1h0M1346.7 1043.7h0M1451.5 742.4h0M1547.1 949.6h0M1017 1147h0M1344.3 1033.8h0M1536.5 823.7h0M1351.1 589.6h0M897.5 1204.3h0M1489.4 910.6h0M1475.8 875h0M617.5 629h0M1334.5 887.1h0M1392.7 689h0M1568.9 1140.7h0M1429.4 1001h0M1555.2 870.8h0M1622.3 1024.9h0M618.4 642.1h0M1403 792.7h0M1167.7 395.4h0M1285 484.3h0M1286 355.2h0M1267.4 441.2h0M1278.5 516h0M1268.1 452.9h0M1333.5 406.3h0M1217.7 413.4h0M1273.7 456.2h0M1186.8 351.6h0M1300.7 527.7h0M1106.8 381.5h0M1243.1 457.8h0M1230.9 395.9h0M1280.3 424.2h0M1237.2 305.6h0M1211.4 537.5h0M1347.1 404.2h0M1218.6 521.3h0M1321.8 371.3h0M1205.9 326.6h0M1252.3 415.8h0M1211.3 392.6h0M1182.3 359.2h0M1199.6 304.8h0M1307.3 397.5h0M1268.2 447h0M1192.7 502.7h0M1126 315h0M1075.7 332.1h0M1145.2 277.6h0M1271.7 357.7h0M1324 384.9h0M1225.1 525.3h0M1312.8 435.6h0M1271.3 429.6h0M1142.6 375.4h0M1161.9 416.5h0M1341.5 479.3h0M1181 404.1h0M1264 400.4h0M1245.1 495.2h0M1306.6 449.6h0M1346.6 490h0M1263.8 324.1h0M1202.6 291.4h0M1200.9 310.2h0M1193.5 306.1h0M1268.7 327.3h0M1179.8 505h0M1280.2 372h0M1238.6 308h0M1304 370h0M1125.1 346.5h0M1147.1 452h0M1163.1 439.2h0M1183.3 440.7h0M1178.3 353.3h0M1217.7 353.3h0M1119.3 448.6h0M1075 293.9h0M1167 467.2h0M1211.1 516h0M1345.2 379.7h0M1305.2 428.1h0M1350.3 527.4h0M1080.6 324.8h0M1328.9 416.7h0M1214.2 483.2h0M1317 443.2h0M1300.2 363.8h0M1295 363.4h0M1300.1 426.8h0M1193.4 354.5h0M1223 460.2h0M1229.9 380.6h0M1188.7 375.1h0M1220.2 377.1h0M1168.1 412.4h0M1193.7 397.7h0M1231.4 525.8h0M1187.8 482.2h0M1269.8 474.7h0M1160.4 500.8h0M1062.1 344.9h0M1198.8 425.9h0M1335.5 482.4h0M1354.7 387.8h0M1310.3 408.1h0M1155.9 310.1h0M1255.3 498.4h0M1142.4 360.8h0M1170.1 486.4h0M1219.2 459.8h0M1300.1 403.5h0M1232.1 385.5h0M1189.3 487.9h0M1132.6 373.6h0M1317.8 430.2h0M1239 479.5h0M1127.1 393.1h0M1249.8 393.3h0M1191.7 394.2h0M1288.4 382.9h0M1131.1 428.3h0M1298.4 345.2h0M1154.2 307.9h0M1304.6 397.9h0M1242.8 414.4h0M1325.6 369.3h0M1325 425.8h0M1152.7 464.1h0M1155.6 276.1h0M1314.1 412.6h0M1261.4 462.7h0M1223.2 376h0M1141.7 411.2h0M1258.3 442.5h0M1312.1 463.4h0M1156.5 452.2h0M1134.6 386.5h0M1285.4 318.6h0M1183.6 506.6h0M1222.3 442.8h0M1216.1 405h0M1165.6 418.3h0M1179.3 456.9h0M1300.5 340.2h0M1352.7 438h0M1176.1 504.1h0M1166 378h0M1229.3 361.4h0M1257 431.4h0M1294.9 432.1h0M1202.3 354.2h0M1223.9 496.9h0M1332.3 408.8h0M1261.7 329.1h0M1353.1 478.2h0M1124.3 383.5h0M1320.4 522.5h0M1203.8 372.5h0M1237 296.4h0M1089.8 273.1h0M1300.8 328h0M1240.3 438.7h0M1300.8 474.5h0M1277.1 453.3h0M1273.1 375.2h0M1169.1 405.4h0M1233.4 330.1h0M1267.9 496.4h0M1309.2 495h0M1354.5 480.5h0M1135.7 375.3h0M1323.5 471.6h0M1306.5 493h0M1245.7 524.3h0M1278 412.8h0M1118.3 324.7h0M1163.3 317.7h0M1330.4 451.7h0M1127.8 406.5h0M1281.5 524.7h0M1164.1 262.3h0M1198.1 438.2h0M1195.8 489.6h0M1147.7 373.8h0M1306.4 522.3h0M1210.2 435.7h0M1217.6 402.2h0M1305.8 354.5h0M1268.3 366.1h0M1164.2 465.3h0M1343.6 434.4h0M1287.6 423.7h0M1157 344.5h0M1282.1 346.4h0M1252.6 376.9h0M1289.2 394.1h0M1256.2 453.9h0M1224.6 386.4h0M1329.9 484.9h0M657 656.9h0M1272.6 300.1h0"/>
<path stroke="#390f6e" d="M1329.2 488.4h0M1643 958.2h0M1180.5 409.4h0M1145 282.7h0M569.2 864.4h0M1231.2 459.3h0M1241.9 420.3h0M1163.7 248.5h0M1545.9 1053.6h0M1307.9 373.8h0M1253.1 401.5h0M1200.7 388.8h0M1286.7 654.2h0M1490.6 765.6h0M1398.7 756.3h0M1243.4 399.3h0M1536.9 857.7h0M1215.8 407.7h0M1136.8 391.7h0M1130.9 397.9h0M1185 298.8h0M1320.2 412.5h0M1347.8 398.5h0M1500.6 711.6h0M1198.1 379.6h0M1599.6 1072h0M1102.8 400h0M1310.5 397.4h0M1103.6 940h0M1536.5 1133.7h0M1390.6 993.6h0M1316.5 398.6h0M581.5 859.3h0M1312.9 324.5h0M1321.8 498.8h0M1449.8 1057.6h0M1134 369.3h0M1316.7 420.5h0M606.2 824h0M1148 384.1h0M1343.7 636.1h0M1183.8 529.5h0M1124.6 380.2h0M1128.1 457.7h0M567.9 859.6h0M576.1 843h0M1036.2 299.2h0M1512.2 926.2h0M1210.7 378.1h0M1348.6 618.4h0M1426.1 1014.1h0M1342.8 481.8h0M1280.2 1090.6h0M1068.6 281.4h0M1298.2 349.2h0M1230.2 454.8h0M1370.8 739.9h0M1420.5 681.5h0M1117.1 330.9h0M1202.7 364.2h0M1221.9 381.4h0M1686.8 955.8h0M1364.6 756.7h0M1382.9 950h0M1490.5 758.1h0M1333.8 517.3h0M1193.6 379.5h0M1679.3 994.7h0M1125.5 408.7h0M1518.9 864.2h0M1339.5 655.3h0M1094.4 316.4h0M1212.9 294h0M1565.1 968.3h0M1339.5 361.5h0M1451.5 1143h0M1312.1 485.9h0M1204 459.1h0M1245.5 264.7h0M1113.2 287.2h0M1260.9 507.7h0M1543.4 1069.1h0M1143.7 469.3h0M1156.7 297.4h0M1167.2 303.2h0M1305.8 438h0M951.4 1179.8h0M1285.6 465.6h0M1140.4 282h0M1415.4 904.6h0M1340.4 570.3h0M1114.4 400.2h0M1507.8 1004.2h0M1344.9 487.3h0M1244.9 490.3h0M1132.5 1110h0M600 853h0M1331.6 446.9h0M1302.7 404.7h0M1148.4 379.5h0M1338.9 475.5h0M1234.8 399.2h0M1284.5 381.1h0M1482.7 866.4h0M1075.6 930.6h0M1074.2 318h0M1460.7 1101.5h0M1444.9 1144.3h0M1262 305.3h0M1267.2 315.9h0M1242.9 379.5h0M1083.6 334.6h0M1225.2 334.8h0M422.7 747.1h0M1575.6 1101.4h0M1157.7 313h0M1616.1 955.1h0M1232.3 1063.4h0M1117.5 418.6h0M1235.6 383.1h0M1412.4 1101h0M1279.7 574.1h0M1296.5 587.2h0M1298.4 587.6h0M1287.6 644.1h0M1296.5 658.1h0M1204.1 563.9h0M1242.8 562.6h0M1244.8 885.3h0M509.3 741.3h0M512.5 609.3h0M695.5 554.7h0M695.5 557.3h0M677.3 637.9h0M694.7 660h0M702.7 660.8h0M692 665.3h0M659.2 725.3h0M641.3 721.3h0M614.7 745.3h0M593.3 812h0M620 804h0M1231.1 537h0M1547.5 1023.1h0M1296.4 447.6h0M1228.6 277.4h0M1347.4 788.7h0M1674.2 908.2h0M563 852.7h0M1456.1 1097.6h0M1340.8 398.7h0M1267.2 343.6h0M1282.7 374.5h0M1349.2 594h0M1154.2 303.9h0M1294.5 478.2h0M1302.7 402.2h0M1282.8 504h0M1355 655.1h0M1192 350h0M1420.6 903.1h0M1338.4 343.1h0M1148.1 406.3h0M1115.3 308.1h0M1154.7 411.4h0M587.6 852.8h0M1200.4 338.4h0M1187.8 321.5h0M1443.8 1060.3h0M1143.2 420.9h0M1217.9 339.8h0M1252 1014.3h0"/>
<path stroke="#491078" d="M1277.1 477.3h0M1459.1 696.2h0M1314.4 403.7h0M1369.4 1008.8h0M1380.9 876.7h0M563.1 863.6h0M1112.7 392.2h0M1284.5 345.5h0M1348.1 1020h0M1213.4 379.3h0M1058.1 700h0M1341.9 600h0M1099.9 392.9h0M1350.3 371.8h0M1190.6 806.4h0M1334.4 368.2h0M655.4 620.6h0M1189 380.4h0M878.8 1206.4h0M1473.9 1009.6h0M1284.2 296.2h0M1303.5 772.6h0M1522.6 1000.7h0M1221.7 487.5h0M1341.7 674.4h0M1134.2 445.1h0M1330.3 341.4h0M1214.8 528.5h0M1191.7 279.6h0M584.2 837.9h0M1692 936.1h0M1371.8 887.5h0M1283.3 368.1h0M1160.3 400h0M1468.7 878.1h0M1434.1 673.4h0M1588.5 1143.6h0M1344 963.6h0M1288.7 420.3h0M1165.4 475.1h0M1294.1 458.8h0M1230.8 519.9h0M1616.7 889.8h0M1197.9 452.6h0M1509.4 940.1h0M1657.5 874h0M1224.4 398.9h0M1239.3 369.4h0M1116.6 277.1h0M1338.6 430.4h0M1329.3 1043.7h0M1088.4 308.5h0M1330.3 391.1h0M1241.2 472h0M1153 371.3h0M1597.4 1107.7h0M1186.1 281.5h0M1206.9 1002.2h0M1118.3 352.9h0M1230.2 329.5h0M1567.1 930.9h0M670.2 732.4h0M1327.8 689.8h0M1165 433.8h0M1169 401.2h0M1287.7 337.1h0M1227.3 338.5h0M1321.2 503.1h0M1182 423.6h0M1176.1 1109h0M1330.3 530.9h0M1319.3 607.2h0M1225.7 493.7h0M1428.2 1036.6h0M1281.7 414.2h0M1252.8 340.9h0M1563.5 1076h0M1340.8 549.2h0M1290 669.3h0M1260.7 900.8h0M1291.2 749h0M1586.1 1068.1h0M1601.8 917.1h0M1121 313h0M1265.5 467h0M1184.5 324h0M1143.8 390.5h0M1244.6 512.5h0M1222.3 345h0M1246.4 430.1h0M1229.3 406.9h0M1163.4 393.7h0M571.5 844.5h0M1072.6 289.8h0M1260.1 528.4h0M1194.2 570.4h0M1198.5 771.5h0M900 1176h0M928 1164h0M955 1162h0M461.2 1002.2h0M461.7 1010.3h0M464.7 1031.3h0M364 624h0M696 623.2h0M1335.6 557h0M1445.7 1116h0M585 850.4h0M1186.6 333.1h0M1350.3 605.7h0M1227.5 383.7h0M588.8 861.1h0M1049.6 309.6h0M1216.7 342.4h0M1355.8 686.3h0M1217.8 384.3h0M1228.9 286.5h0M1147.8 465.9h0M1333.6 402.3h0M1321.2 385.5h0M1291.8 522.3h0M1232.7 457h0M1334 376.8h0M1157.2 303.8h0M1330.1 591.6h0M1105 390.4h0M1166.6 319.8h0M1494.7 1067.5h0M1326.3 709.7h0M1543.1 852.4h0M1038.1 335.4h0M1631.2 1030.7h0M1261.1 269.7h0M1337.1 374.3h0M1156.6 424.5h0M601.2 758.6h0M634.4 659.3h0M1071.5 292h0M1436.8 983.4h0M1239 380.3h0M1363.6 665.7h0M1256.5 343.2h0M1076 287.4h0M1452.9 1004.1h0M1329 736.9h0M1255.3 385.5h0M1292.3 400.1h0M1352.3 368h0M1398.9 872.4h0M1331.5 371.3h0M1496.2 809.7h0M1301 435.2h0M1467.6 672.7h0M1242.9 533.3h0M575.8 854.2h0M1235.4 334.2h0M1348.6 695.4h0M1294.5 1056.8h0M1304 433.6h0M1442.1 1162.2h0M1209.8 501h0M1118.3 987.7h0M1294.1 352.7h0M1275.1 380.2h0M1329.3 504h0M1663.4 990.8h0M1091.2 1131.2h0M1285.1 470.8h0M1432.5 1115.9h0M1105 947.4h0M1305.3 718.2h0M1424.1 769.1h0M1546.5 956.5h0M1171.9 329h0M1267.1 331.8h0M1336.7 868.8h0M1242.4 343.5h0M1173.7 379.1h0M1452.9 1158.8h0M1293 758.8h0M1373.6 631.5h0M1330.9 779.7h0M1333.3 450.4h0M1270 361.1h0M1319.4 404.9h0"/>
<path stroke="#57157e" d="M947.7 428.1h0M608.5 836.6h0M1166.4 404.6h0M1268.2 375.7h0M1162.1 413.4h0M1309.5 384.5h0M1131.6 388.1h0M1304 363.9h0M1267.4 267.5h0M1276.1 369.9h0M1060.5 614h0M1118 895h0M493.3 1052.2h0M1127.6 356.7h0M579.3 841.1h0M1171.6 398.8h0M1195.6 357.3h0M1462.2 1157.6h0M1152.4 432.6h0M1317.1 425.2h0M1725.9 900.7h0M1324 374.3h0M1264.6 285.8h0M1108.5 387.8h0M1348.4 953.1h0M1378.4 916.1h0M1168.5 410h0M1426.1 1158.3h0M1138.5 967.8h0M1294.1 305.7h0M1318.2 434.7h0M619.1 809.9h0M1264.3 425.4h0M1304.8 389.7h0M1324.5 483.3h0M1177.1 408.4h0M1338.3 984.4h0M1255.5 407.1h0M1222.9 427.8h0M580.6 850.2h0M1166.9 384.2h0M1338.5 716.8h0M1170.4 474.9h0M1171.5 300.7h0M1339.8 662.6h0M1002.3 420.7h0M1153.2 448.7h0M1208.3 339h0M1174.9 376.1h0M1269.7 386.6h0M672.1 731.7h0M1391.4 1115.2h0M1357.7 875.6h0M1227.9 297.2h0M1258 418.9h0M1249.6 518.5h0M1198.3 462.5h0M1264.2 513.3h0M1219.7 313.4h0M1296.9 292.6h0M1282.7 343.9h0M431.7 745.3h0M1187.8 396.9h0M1192.5 417.1h0M1060.6 341.1h0M1190.9 293h0M1257.1 373h0M1139.8 289.1h0M1560.3 1073.4h0M1285.3 434.1h0M609.7 831.8h0M1130.4 296.8h0M1343.6 910h0M1274.5 448.6h0M590.4 749.2h0M1187.6 342.6h0M962.2 1168.8h0M387.4 664.8h0M1154.1 354.5h0M1196.5 481.2h0M883.4 1204.4h0M1263.7 330.5h0M1355.9 707.2h0M1342 386.7h0M1308 326.2h0M1087.2 741.4h0M1193.9 320.4h0M1370.4 746h0M1400.9 1074.1h0M1273.1 364.8h0M1040.5 652h0M1058 913.5h0M881.5 1150.5h0M885 1159.5h0M458.3 1054.2h0M504.3 1125h0M1164.4 308.5h0M1173.3 383.6h0M1042.3 1165.5h0M1318 373.8h0M623.1 802.9h0M1220.8 374.2h0M1362.5 376h0M1253.9 350.2h0M1374.2 730.6h0M1313.4 386h0M1156.5 327.2h0M615.9 824.1h0M1410.7 854.1h0M1480.2 1079.6h0M1102.4 271.4h0M1211.9 404.5h0M1224.7 281.3h0M1289.6 368.8h0M1412.2 980.7h0M1333.8 410.9h0M1124.3 1067.4h0M1133.3 400.1h0M1267.2 381h0M1116 254.1h0M1340.2 547.5h0M728.1 642.9h0M1406.2 762.2h0M1286.4 328.8h0M1093.1 332.4h0M1119.7 948h0M1322.4 477.9h0M1556.1 940.8h0M1243.4 928.7h0M1341.6 524.1h0M1367.6 693.4h0M1353.8 859.1h0M1256 412.3h0M1324.6 378.3h0M721.7 634.4h0M639 666.8h0M1088.6 293.4h0M1183.4 377.2h0M1308.6 504.3h0M1149.2 347.7h0M609.5 626h0M1306.7 371.4h0M1303.8 876.9h0M1339.3 340.9h0M1296.1 340.8h0M627.5 641.3h0M1181.2 496h0M1218.2 358.7h0M1382.8 710.1h0M1101.5 295.3h0M1329.5 509.7h0M1325.8 603.5h0M661.7 693.2h0M1361.2 371.6h0M1332.6 358.5h0M1164.1 270.8h0M1341.2 393.1h0M1272.5 324.5h0M1309.8 353h0M1345.7 452.1h0M1302.8 340.9h0M1254.8 463.1h0M1310.7 401.8h0M1084 323.8h0M1342.2 473.3h0M1422.7 739.5h0M1303.2 393.5h0M1183.1 355h0M1194.3 293.6h0M662 669.5h0M1229.5 367.1h0M1253.3 370.5h0M1261.2 369.3h0M1261.2 394.3h0M1238.1 427.9h0M1196.2 518h0M1194.9 479.2h0M1106.6 269.6h0M1430.7 691.9h0M1282.7 386.2h0M1186.4 1106.4h0M1172.3 396.1h0M1023.4 381.1h0M1324.3 363.4h0M1584 861.4h0M1197.1 385.2h0M1072.9 736.4h0M1701.2 958.2h0M1355.6 731.5h0M1268.2 322.8h0M1145 367.5h0M1087.8 391.6h0M1153.8 273.8h0M1323.9 787.1h0M1266.4 420.5h0M1219 429.1h0M1295.6 534.5h0M1231.6 319.6h0M1306.7 341.8h0M1108.9 418.9h0M1208.5 262.4h0M1232.8 367.3h0M1140.1 1040.1h0M1304.5 380.4h0M1204.7 427.5h0M1108.6 297.3h0M1317.3 450.3h0"/>
<path stroke="#651a80" d="M1216.6 347.4h0M1351.4 376.2h0M1264.1 1073.6h0M447.4 744.4h0M1088 398.9h0M1243.4 345.9h0M1201.1 358.9h0M1314.4 910h0M1292.1 371.9h0M619.8 613.8h0M1141.5 395.6h0M1159.8 352h0M1291 658.6h0M1234.6 541.1h0M464.4 688.6h0M1268.4 458.4h0M1163.6 313.2h0M595.9 697h0M1305.7 351.3h0M1207.7 345h0M1272.7 288.4h0M1329.3 333.5h0M676.5 669.9h0M1554.3 1103.9h0M1311.6 917.3h0M1344.7 414.4h0M539.7 770.9h0M1249.3 285.6h0M459.7 739h0M1090.4 1141.4h0M1076 349.2h0M1110.6 320.8h0M1153.4 285.4h0M1279.5 751h0M632.1 535.2h0M1191.9 388.4h0M1319.7 379.2h0M1338.4 558.1h0M739.8 639.5h0M1161.9 361.7h0M1152.4 454.5h0M1191.2 443.4h0M1125 349.1h0M733.8 619.5h0M1141.2 309.1h0M1143.9 340.8h0M458.4 693.7h0M1213.5 440h0M1329 412h0M1198.3 445.7h0M1192.6 302.5h0M1084.5 351.8h0M1161.1 324.2h0M1272.7 293.3h0M1171.3 423.6h0M416.3 732.6h0M1253.3 344h0M543.1 773.1h0M1280.9 434.7h0M1166.3 359.1h0M1342.6 476.3h0M1261.1 290.5h0M1004.5 256.3h0M1364.9 745.5h0M879.8 1201h0M697.7 731.5h0M1238.4 539.3h0M595.4 650.9h0M1346.8 330.7h0M1123.5 398.2h0M1090.3 396.3h0M1132.1 393.7h0M1145 261.2h0M1153.3 474.3h0M1246.3 451.1h0M1276.1 540.5h0M1127 310.7h0M649.3 655.5h0M1156.7 390.1h0M637.9 649h0M453.5 688.9h0M1182.2 352.3h0M1346.3 392.3h0M468 670.8h0M1119.1 332.2h0M1334.8 344.9h0M1331.2 422.4h0M1275.8 329.3h0M1065.7 321.8h0M1329.9 399.5h0M597.9 742.6h0M1212.4 386.6h0M1274.4 355.9h0M1199.1 372.1h0M614.3 662.6h0M1191.1 474.3h0M1284.2 358.1h0M1216 499.9h0M1162.1 309.2h0M629.2 613.6h0M940.6 434.6h0M1128.6 299.8h0M730.2 627.4h0M1208.6 306.5h0M1314 320.9h0M1147.3 245.3h0M1114.1 389.4h0M1235.5 299h0M1228.7 449.2h0M624.4 681.8h0M1162.1 264.8h0M1166.2 310.2h0M1084.3 357.3h0M1339.4 548.9h0M1297 471.7h0M1244.2 436.6h0M1231.2 432h0M1173.8 394.1h0M573.9 766.5h0M1137.7 373.7h0M1139.3 369.9h0M1139 389.5h0M1141.3 299.8h0M1176.7 296h0M1197.2 281.5h0M1208.9 322.7h0M1333.8 441.3h0M1174.6 507.8h0M594.2 655.9h0M1336.5 712.4h0M1303.9 337.4h0M1107.7 341.4h0M1013 1163.5h0M610.8 622.5h0M1197.5 374.6h0M684.8 727.5h0M608.8 603.7h0M1107 413.7h0M1207.2 331.3h0M1142.6 407.5h0M1344.2 651.9h0M1100.8 259.2h0M1240.1 548.5h0M1336.5 380h0M1055.3 320.4h0M1334.7 333h0M1319.4 349.6h0M1211 348.1h0M1234.1 285.7h0M1200.2 469.2h0M1111.9 398.1h0M1293.9 666.4h0M1226.9 360.9h0M1259.8 316h0M1404.7 725.2h0M1188.7 302.1h0M457.3 716.7h0M1121.8 343h0M625.9 583.2h0M631.2 687.2h0M620.3 566.7h0M1213.2 399.9h0M1190.8 270.6h0M1307 384.5h0M1217.7 419.3h0M1133.2 249.8h0M1101.4 263.7h0M629.1 538.3h0M1176.9 309.8h0M1075.1 1070.8h0M639.6 699h0M1157.7 318.3h0M1431.1 685.1h0M608.4 580h0M1265.5 431.9h0M1248.2 377.2h0M1161.6 306.1h0M1286.8 501h0M1196.6 329.6h0M1080.4 348.8h0M1161.3 301.5h0M1118.6 389h0M1328 329.5h0M1048.7 281h0M1245.2 328.9h0M1264.8 309h0M1187.5 436.2h0M1204.5 297.8h0M1302.9 454.5h0M1318.5 384.9h0M1281.4 314.9h0M598.5 664.5h0M1119.1 272.2h0M546.8 759.5h0M1212.2 275.8h0M1160.3 293.9h0M1341.4 342.7h0M1216 387.6h0M957.6 438.1h0M1303.7 424.5h0M1251.9 527.3h0M1358.4 372.5h0M1050.9 268h0M1304 310.1h0"/>
<path stroke="#732081" d="M1202.2 305.8h0M469.5 682.2h0M1310.9 358.5h0M1043.9 299.8h0M1162.6 408.1h0M1238.3 444.2h0M1281.3 405.8h0M1236 314.8h0M1343.8 405.2h0M1240 417.1h0M664.5 685.1h0M1321.6 365.9h0M1183 262.9h0M1091.9 261.2h0M592.6 690.6h0M1070.3 294.2h0M1255.8 300.7h0M1060.8 287.9h0M1080.3 382.1h0M1200.4 1102.8h0M1196.5 393.3h0M1283.8 580.1h0M1298.4 580.7h0M1308.7 595.6h0M1280.7 609.6h0M1274.1 614.3h0M1279.4 618h0M1281.6 626.4h0M1270.8 628.6h0M1293.7 650.7h0M361.3 633.3h0M591.5 617.3h0M749.9 607.2h0M625 553.8h0M1128.5 345.8h0M1296.8 307.6h0M590.9 765.5h0M1102.5 422.3h0M1157.6 393.4h0M1149.6 272h0M1072.5 321.8h0M1186.7 271.4h0M1308.6 346.7h0M1293.9 420.7h0M1231.8 279.4h0M617.4 661.6h0M1201 351.5h0M1178.3 438.7h0M1276.3 321.5h0M430 723.2h0M624.5 545.7h0M1252 445.7h0M1314.4 475.7h0M1154.6 267h0M609.1 666.8h0M1317.1 764.3h0M1093.1 291.3h0M1144.1 332.4h0M1108.5 263h0M1184 390h0M1270.8 435.4h0M640.3 694.6h0M1108.1 392.7h0M1259.1 297.1h0M1234 428.3h0M1204.2 473h0M1118.3 308.7h0M1148.2 352.5h0M1243.9 483.3h0M1079.4 295.3h0M1144.3 309.2h0M1138.7 334.3h0M607 600.7h0M458.2 742.3h0M1247.5 314.8h0M1296.2 296.4h0M609.6 656.2h0M1356.2 378.2h0M1207.2 367.2h0M1166.4 496.8h0M1114.4 293.3h0M1218.4 367h0M1041.3 296.5h0M1241.6 307h0M1180.7 499.7h0M1152.8 281h0M538.9 760.3h0M1293.3 347.3h0M1040.4 1168.8h0M666.8 715.1h0M1138.9 259.7h0M1133.3 282.8h0M1200.1 368.4h0M1237.7 364.5h0M453.1 709.7h0M1280.5 343h0M1190.8 383.5h0M1225 297.8h0M1160.9 403.8h0M1085.8 291.1h0M1099.6 957.3h0M598.1 754.5h0M606.1 658.9h0M1280.2 465.8h0M1281.4 319.4h0M1120.2 408.5h0M612.5 613.3h0M1206.2 312.5h0M625.4 550.7h0M1262.2 342.9h0M1238.1 373.4h0M1232.9 523.9h0M1242.9 293.3h0M1111.9 269.5h0M1062.6 259h0M663.6 665.9h0M1252.4 326.9h0M1201 315.6h0M576.1 667.9h0M1278 458h0M1172.8 1093.7h0M1289.6 533.9h0M1136.8 315.2h0M1279.5 395.5h0M1202.2 425.5h0M1348.7 423.1h0M1140.4 324.2h0M1098 261.8h0M1068.6 342.4h0M1197.4 262.2h0M1158.4 356.8h0M1202 270.9h0M1090 393.2h0M1163.6 322.4h0M1357.4 745.6h0M1212.9 316.9h0M1313.4 348.6h0M1125.2 298.4h0M1301.7 308.4h0M1318.9 368.3h0M1209.3 428h0M1308.6 498.5h0M1076.1 353.7h0M1159.3 438.6h0M465.5 703.1h0M1262.9 301.2h0M1164.4 366.3h0M1198.4 320.3h0M382.1 670.2h0M946.6 434.7h0M1222.3 362.3h0M590.3 768.6h0M1328.3 367.3h0M1284.1 370.5h0M389.8 666.9h0M1267.5 285.3h0M632.2 669.6h0M1102.9 300.3h0M1181.9 396.4h0M1131.3 355.7h0M963.4 433.9h0M1275.4 398.8h0M1296 486.7h0M1304.2 377.2h0M1107.4 383.9h0M1170.6 261.6h0M1210.3 373.6h0M1198.6 276h0M1190.7 308h0M1047.7 357.9h0M382.3 666.4h0M1108.9 291h0M1127.6 414.6h0M1134.2 335h0M1165.5 257.4h0M600.9 736.1h0M592.4 774.8h0M638.9 705h0M1064.5 372h0M1301.6 377.2h0M1216.9 318.7h0M1081.3 375.8h0M1297.5 419h0M1604.8 837.2h0M1196.3 855.5h0M1193.5 860.1h0M1193.1 864.8h0M1194.4 868.9h0M1207.5 880.7h0M1210.3 884.4h0M1066 926h0M369.3 630.7h0M360 644h0M365.3 649.3h0M376 686.7h0M378.7 681.3h0M398.7 662.1h0M392 670.7h0M417.3 657.3h0M490.7 698.7h0M501.3 712h0M529.3 672.8h0M551.5 661.9h0M549.3 706.7h0M538.7 614.7h0M552 619.5h0M677.3 588h0M661.3 586.7h0M653.3 601.3h0M660 597.3h0M666.7 614.7h0M677.3 612h0M647.5 605.3h0M708 630.1h0M690.7 639.5h0M724.8 653.9h0M652 728.8h0M664 684h0M669.3 684h0M617.3 735.2h0M608 746.7h0M594.7 804h0M610.7 809.3h0M719.8 624.1h0M611 673.9h0M1263.5 392.8h0M614 620.4h0M1223 337.2h0M1157.2 429.8h0M1127.8 295.8h0M1201.8 384.6h0M1170.5 386.6h0M1306.8 376.7h0M1176.7 348.2h0M1060.2 333h0M1214.7 306.1h0"/>
<path stroke="#832681" d="M1254 515.9h0M613 617.2h0M1359.4 378.4h0M1203.3 396.2h0M1260.6 387.4h0M1143 281h0M1179.1 357.7h0M1131.9 365.3h0M1152.9 298.2h0M1117.7 380.9h0M1177.7 313.6h0M1099.5 269.2h0M1081.4 364.3h0M1309 331.2h0M1300 421.5h0M1173.2 346.2h0M1241.7 379.5h0M1245.1 314.6h0M1190.9 287.1h0M1128.7 286.9h0M454.3 722.5h0M1304.5 469.6h0M1276.1 361.3h0M658.1 695.2h0M1315.4 358.8h0M1279.4 325.8h0M623.8 686h0M1296.4 437.8h0M1215.9 360.6h0M1093.2 247h0M1275 296.8h0M1338.3 403.1h0M1215.4 323h0M1074.8 307.1h0M1360.1 366.2h0M602.6 745.2h0M1186.6 363.2h0M1242.8 441.1h0M1205.7 277.7h0M1196.7 273.1h0M1029.9 277.3h0M1239.3 385.8h0M1257.9 276.4h0M1222.2 384.9h0M603.4 580.9h0M1098.2 381.8h0M1311.1 443.4h0M1154.8 269.9h0M1144.8 354.3h0M1075.2 303.1h0M1187.1 293.9h0M651.6 644.3h0M1140.5 279h0M1268.9 432h0M1139.4 274.5h0M1133.8 423.3h0M1379.4 1123.8h0M466.4 691.4h0M1231.2 352.6h0M1148.7 1093h0M391.9 663h0M1105.3 400.9h0M1300.7 351.7h0M1167.3 504.5h0M1166.4 375.3h0M1171.4 378.3h0M1188.3 347.6h0M1128.4 336.1h0M1447.3 739.6h0M1055.8 342.9h0M1161.5 256.7h0M1232.6 338.1h0M1114.3 296.2h0M1059.5 330.3h0M469.4 686.1h0M618.5 587h0M1112.1 258.2h0M744.6 639.9h0M1083.3 292.3h0M1082.7 348.1h0M1315.3 460.2h0M635.6 698.5h0M466.9 699.1h0M1230.7 325h0M1102.2 386h0M1337.4 486.6h0M1104.5 393.2h0M1198.3 407.5h0M1257 338h0M1051.6 336.3h0M587.9 670.5h0M1286.7 447.2h0M1331.5 326h0M1073.7 328.9h0M1329.5 387.6h0M1116.6 430.8h0M1153 941.1h0M1047.3 397.6h0M534 761.9h0M1133.5 279.4h0M1315.5 463.4h0M1188.9 305.3h0M1056.9 309.5h0M1241.1 267.4h0M1173.9 424h0M1243.4 338.8h0M960.7 353.8h0M1297.2 318.3h0M1100.8 245.7h0M1310.7 374.7h0M1283.9 339.4h0M1246.5 289.3h0M1313.6 302.8h0M1355.6 350.5h0M1325.9 677h0M655.3 662.4h0M1562.3 1115.8h0M1191.5 767h0M1046 633h0M1034 651h0M1063 923h0M352 658.7h0M354.7 641.3h0M432 648h0M441.3 649.3h0M412 680.8h0M462.7 736.8h0M682.7 585.9h0M748 608h0M1260.8 500.5h0M1258.8 490.9h0M1266.5 535.7h0M1121.2 308.9h0M1332.2 336.6h0M1085.2 299h0M1145.2 316.8h0M1086.7 311.3h0M1069.3 267.8h0M1258.2 302.5h0M1184.3 347.8h0M1013.2 274.7h0M1262 286.5h0M1325 406.1h0M1278.5 319.1h0M1110.2 299.8h0M1270.5 517.7h0M1349.2 516.6h0M1069.4 290.2h0M1115.1 303.2h0M1121.3 389.5h0M1298.5 338.6h0M1196.8 285.3h0M1233.4 380.4h0M1318 418.2h0M628.1 683.3h0M615.5 673h0M1039.8 298.7h0M1334.1 371.9h0M1147.4 339.5h0M1297 330.2h0M1021.6 303.3h0M1139.4 296.3h0M1105.2 421.3h0M608.7 642.7h0M1237 360.2h0M1257.4 279.5h0M1318.7 486.6h0M1314.4 455.2h0M1151.3 418.9h0M1054.1 332.4h0M1212.2 321.3h0M1239.7 312.4h0M1285.5 334.9h0M1014.2 283.4h0M1125.1 306.2h0M1206.4 285.7h0M1192.9 332.8h0M1181.6 436.1h0M1145.9 323.2h0M1135.6 329.7h0M1251 265.4h0M1183.3 274.5h0M1288 426.1h0M1151.1 491.1h0M1267.5 397.4h0"/>
<path stroke="#912b81" d="M1227.2 368.3h0M1084.9 340.4h0M640.3 628.5h0M1185.5 276.3h0M1254.3 443h0M441.7 742.3h0M443.1 719.6h0M727.4 622.5h0M1067.9 348.8h0M627.2 655.4h0M1355.8 374.3h0M1305.6 322.5h0M1210.7 282.3h0M1280.3 290.2h0M1268.8 390.9h0M1177.5 303.6h0M1144 293.4h0M1313.9 429.2h0M1093.4 253.6h0M1032.1 266.7h0M1142.4 303.4h0M1309 339.2h0M660.3 660h0M1108.7 371.4h0M1182.8 302.5h0M1109.8 267.8h0M610.9 629.2h0M689.8 728.7h0M1086.3 283h0M1298.9 361.2h0M1075.1 1086.4h0M1244.4 275.9h0M1125.3 268.3h0M1225 287.8h0M1137.6 251.1h0M429.3 748.1h0M614.8 652h0M1299.8 305h0M1072.9 340h0M1097 288.1h0M1140.4 424.5h0M1223.2 312.4h0M1309.6 314.5h0M1264.9 357.3h0M1338.6 349.1h0M1298.1 469.1h0M1211 326.8h0M1275.8 324.1h0M1001.6 275.2h0M699.5 731.6h0M1340.3 327.6h0M1086.5 270.4h0M637.4 660.3h0M952.5 427.5h0M1175.9 454.2h0M1067.3 269.7h0M1054.2 309.8h0M1107.5 332.4h0M623.8 666h0M1264.1 375h0M1072.9 280.9h0M1188.1 432.2h0M1022.5 307.1h0M600.4 767.7h0M1256.2 368.7h0M1311 310.8h0M1251.1 307.9h0M1320.4 420.8h0M588.9 762.6h0M590.8 769.3h0M1120.8 405.5h0M601 750.8h0M1206.6 515.7h0M1361.7 346h0M1251.1 396.5h0M1300.3 334.4h0M1178.9 414h0M1211.9 340.9h0M1346.4 345.8h0M1549 962.4h0M505.3 1121.3h0M1105.7 338.9h0M1278.6 339.4h0M1219.4 263.7h0M1247.8 444.7h0M1105.5 263.5h0M1192.8 274.2h0M1149.3 278.9h0M1154.7 375.8h0M1209.7 296.3h0M559.5 763.5h0M642.7 624.5h0M655.6 709.7h0M1114 353.4h0M1055.8 325.4h0M623.3 557.8h0M1124.4 331h0M1334.3 364.5h0M1303.1 482.5h0M1108.2 271.4h0M565.5 760.3h0M1222.8 359.9h0M1296.1 346.6h0M1235.8 310.6h0M1274 302.8h0M1079.3 321.1h0M628.3 658.9h0M1014.2 271.6h0M1087.1 330.8h0M1289 648.1h0M1157.1 406.5h0M1094.5 378.1h0M610.9 669.3h0M600.3 633.7h0M1335.8 339.4h0M593.3 737.9h0M1326.5 374h0M1227.4 349.7h0M599.2 658.1h0M603.2 648.5h0M604 765.1h0M1203.6 320.3h0M625.5 547.7h0M1037.6 270.3h0M1269.8 309.3h0M1164.5 373.7h0M605.7 678h0M1233.5 308.5h0M1155.4 507.5h0"/>
<path stroke="#a02f7f" d="M894.6 352.3h0M679.3 731.2h0M629.8 540h0M1081.8 342.6h0M1354.9 342.8h0M1229.5 260.5h0M1071.6 337.5h0M641.6 680.9h0M1119.9 412.8h0M560.8 766.9h0M1249.5 329.4h0M1260.5 512.9h0M1176.1 343.4h0M1354.1 365.9h0M1112.1 306.7h0M1076 265.9h0M1060.7 275.4h0M1083.5 344.6h0M464.7 713.4h0M1051.9 303h0M1340.8 381h0M670.1 662.1h0M1284.7 402.2h0M937.6 434.5h0M1113 412h0M463.1 664.9h0M1062.9 282.2h0M1233.8 295.4h0M1127.2 291.4h0M1204.9 303.9h0M557.2 651.6h0M1057.7 345.6h0M1161.3 347.6h0M1207.1 300.5h0M608.6 670.8h0M414.8 740.4h0M1193 392.1h0M733.6 635.2h0M1084.5 246.6h0M1206 257.9h0M1119.6 355.5h0M693.2 735.5h0M1038.3 284.3h0M1097.1 391.2h0M1089.9 330.8h0M1101.7 255.7h0M1020.8 293.2h0M673.3 734.7h0M1343.4 353.1h0M1144.5 266.7h0M471.6 670.2h0M1032.2 272.3h0M1094.3 349h0M1116.4 337.3h0M1091 275.8h0M541.8 755.6h0M1305.9 571.3h0M1292.8 592.8h0M1291.3 595.6h0M1276.9 622.7h0M1499.3 1000.8h0M1041 647h0M893 1172h0M457.8 1036.2h0M514.2 1042.5h0M356 645.3h0M496 696h0M508 610.7h0M684 572h0M684 589.3h0M1040.5 282h0M1021.7 298.5h0M1101.9 250.3h0M1295.7 357.3h0M1093 308.3h0M1285.6 405h0M1206 309.3h0M1111.7 279.3h0M690.1 729.3h0M1065.7 249.9h0M1126.2 271.1h0M1324.1 342.5h0M1160.5 369.4h0M596.3 731.8h0M1176.4 382.4h0M1122.6 273.5h0M621.6 561.3h0M434.2 751.1h0M990.5 424.6h0M1150.4 354.6h0M1327.1 323.9h0M1226.8 395h0M461.6 683.3h0M1304 1114.6h0M1252.9 294h0M1090.4 285.1h0M1344.5 390.4h0M1024.4 281.6h0M1228.3 505.9h0M1054.1 264.9h0M994.5 359.9h0M1331.8 330.2h0M1222.3 298h0M1246.6 505.8h0M1193.2 283.9h0M1096.3 400.6h0M1144.8 1044.7h0M1099.4 373.6h0M459.4 687.4h0M1047.1 250.5h0M1147 426.9h0M1069.3 361.8h0M1178.4 316.9h0M1096.9 372h0M562.8 769.4h0M1364 339.3h0M596.2 766.8h0M389.9 672.8h0M1284.7 324.1h0M1258.4 289.9h0M1002.3 317.2h0M1141.5 313.5h0M1125 275.2h0M459.6 664.9h0M1182 493.1h0M1073.8 344.8h0M1071.9 285.4h0M1230.5 274.7h0M1103.5 382.9h0M1224.9 275h0M1045.8 309.8h0"/>
<path stroke="#ae347b" d="M625.1 661.6h0M1188.1 446.1h0M1073.6 259h0M1030.3 261.5h0M1323.3 395h0M573.6 694.6h0M1162 299h0M1142.3 317.3h0M1029.2 323.8h0M1257.6 311.8h0M1142.6 268.6h0M1228.5 300.7h0M1174.1 330.2h0M1157.9 263.6h0M1064.9 330.1h0M1124.2 301.3h0M1280.2 354.5h0M680.6 735.8h0M1124.1 295.2h0M1262.8 298.1h0M1057.4 352h0M601.9 734h0M588.9 661.9h0M1184.3 369h0M546.1 774.7h0M1253.4 373.8h0M1082.9 319.7h0M1037 274.2h0M1250 268.1h0M1122.1 291.8h0M1136.1 301.8h0M1100.5 287.6h0M1350.3 347.9h0M542.1 667.5h0M1230.1 390.8h0M684.7 735.5h0M1028.7 303h0M1097.8 254.5h0M1054.1 313.9h0M1092.3 311h0M1298.8 312.3h0M1271.2 334h0M1211.6 869.1h0M1331.3 429.6h0M1085.1 286h0M1006.8 289.4h0M673.4 729.8h0M1264.2 272h0M632 542.1h0M424.2 743h0M1206 354.9h0M569.7 668.4h0M1277.8 309.4h0M1218.3 410.6h0M1044.5 425.4h0M1360.7 341.5h0M1075.1 242.4h0M1077.3 359.3h0M1138.5 283.7h0M1322.6 332.9h0M1205.6 283.3h0M984.5 258.5h0M1115.3 271.6h0M1318 354.1h0M611.7 698.6h0M1217.5 291.5h0M1184.1 293h0M599.2 590.5h0M1121.5 276.8h0M1011.5 341.7h0M1173.3 277.7h0M1098.3 250.7h0M1338.2 335.1h0M1111.6 347.6h0M1107.2 260.8h0M1076 300.7h0M571.6 758.7h0M1197.8 313.5h0M1168.9 274h0M1067.3 275.6h0M1235.9 370h0M627.6 543.3h0M1059.9 348.9h0M1082.3 285.4h0M1094.1 257.5h0M1081.4 329.8h0M1215.7 312.2h0M1046.6 345.6h0M1176.1 324.1h0M625 541.2h0M540.2 768.3h0M412.6 714h0M1171.5 325h0M1153 289.8h0M1028.6 249.2h0M1228.6 270.8h0M1121.3 269.1h0M957.3 393.8h0M1065.5 339.2h0"/>
<path stroke="#bd3977" d="M1121.5 259.6h0M1334.7 348h0M1054.7 917.3h0M422.7 673.3h0M505.3 688h0M506.7 702.7h0M723.2 607.2h0M648 638.1h0M712.5 654.7h0M718.7 666.7h0M714.7 620h0M565.3 804h0M1174.3 436.2h0M1270.4 313.9h0M1161.4 276h0M1048.2 301.8h0M1112.5 252.1h0M1050.6 295h0M542.5 772.6h0M1137.6 292.6h0M1276.5 288.1h0M1078.6 311h0M1001.8 292.4h0M1297.3 370.2h0M1186.8 284.5h0M1026.8 272.7h0M992.5 318.1h0M1195.4 458h0M1058.9 243.3h0M1040.4 291.8h0M1048.2 273.5h0M1301.3 318.7h0M1225.2 284.3h0M429.1 691.3h0M1267.2 305.9h0M1094.7 338.9h0M1350.9 339.7h0M535.4 770h0M1256.4 297.3h0M1266.8 428.1h0M989.1 397.1h0M1295.6 313.8h0M1080.8 302.7h0M1062.9 252.6h0M1363.6 347.8h0M692.6 736.4h0M597.1 713.1h0M1019.5 272.1h0M1017.4 275.2h0M1333.3 415.2h0M1216.2 273.4h0M1168 262.9h0M1146.1 273.1h0M1274.5 317.7h0M1121.8 298.7h0M1180.8 502.6h0M1012.5 288.7h0M1249.3 385.7h0M1123.6 264.8h0M1093.3 286.5h0M1192.7 511.1h0M1326.2 415.9h0M1220.2 390.8h0M1149.8 329.8h0M1252.2 437.2h0M1354.2 331.4h0M1035.7 317.1h0M1081.8 373.3h0M980.2 260.3h0M1025.4 270.4h0M1229.7 281.5h0M583.1 767h0M947.3 297.4h0M611 688.4h0M1094.8 236.4h0M1008.6 260.5h0M997.5 277.8h0M1215.5 278.9h0M938.7 285.1h0M1014.3 299.6h0M1020 654.5h0M1036 658.5h0M353.3 648h0M509.9 777.3h0M704 548h0M700 563.2h0M680 592h0M549.3 741.3h0M540 745.3h0M561.3 801.3h0M563.2 845.9h0M1043.8 334.2h0M1260.8 282.9h0M983 379.2h0M543.6 768.7h0"/>
<path stroke="#cc3f71" d="M1307 417.3h0M988.5 282.8h0M1068.2 295.5h0M1142.9 275.2h0M1149.7 255.8h0M1008.1 282h0M976.6 282.2h0M1009.6 318.6h0M1050.5 344.7h0M1085.8 280.6h0M1093.9 271.7h0M615.4 581.8h0M1033.1 343.7h0M1225.7 278.7h0M595.2 751.4h0M1016.4 281.1h0M1072.1 311h0M1024.2 294.1h0M687.7 732h0M1116.6 422.4h0M1024.2 416.9h0M1050.9 300.1h0M1290.1 292.5h0M1248.5 381.1h0M1222.8 372.2h0M1348.9 342.3h0M1068.4 257h0M1035.8 313.7h0M1005.5 266.6h0M392.9 671.3h0M949 438.2h0M1359 345.7h0M1057.9 315.7h0M1016.4 269.5h0M1064.3 293h0M1051.8 277h0M981.9 276.6h0M540.2 765.5h0M676 737.1h0M1021.4 276.4h0M579.9 763.2h0M1061.4 337.2h0M599.6 739.1h0M1025 438.6h0M1034.2 261.3h0M997.8 294.3h0M961 338.3h0M915.7 323.5h0M1302.1 312.2h0M1017.7 359.7h0M598.2 748.9h0M1247.8 342h0M1352.1 337.6h0M990.5 389.6h0M1204.3 860.5h0M1185.5 774h0M1028.5 658h0M358.7 637.3h0M546.7 734.7h0M1023.1 363.4h0M1333.8 463h0M1030.4 257.6h0M1002.1 253.7h0M1101.8 377.8h0M1341.7 338.9h0M915.3 1188.9h0M1060.8 310.1h0M874.6 337.4h0M1010 271.7h0M1243.8 287.5h0M1368.3 344h0M987.3 265.7h0M1339.3 447.4h0M911.9 272.1h0M1021.2 247.5h0M1030 294.8h0"/>
<path stroke="#d9466b" d="M1017.6 287.6h0M1068.4 272.7h0M1201.9 265.2h0M1130.6 259.5h0M1126.8 373.5h0M945.2 273.9h0M1018.8 305.8h0M694.2 727.7h0M1115.9 266.5h0M1040.1 275.8h0M908.3 336.8h0M599.6 745.7h0M597 683.5h0M671.2 728.4h0M681.5 737.5h0M988.5 299.4h0M1363.2 356.3h0M1067.3 301.6h0M614.6 692.2h0M1100.7 253.4h0M689.5 735.7h0M958.5 293h0M1089.5 265.9h0M1120 373h0M1043 259.6h0M1143.3 286h0M1058.9 250.1h0M1047.7 335.5h0M1018.9 278.9h0M1197.9 291.3h0M1305.3 602.1h0M722.7 592h0M1179 306.9h0M1168.4 332.5h0M1361.9 352.1h0M854.1 355.9h0M960.8 272.7h0M616.7 562.4h0M1136 257h0M1255.1 265.5h0M1135.4 288.4h0M1102.2 324.6h0M1169.8 257.5h0M1084 294.8h0M1045 271.6h0M971.3 389.2h0M1040.8 245h0M1035.2 440h0M939.2 293.2h0M694.3 732.9h0M1115.2 263.3h0M905.1 375.8h0M998.5 273h0M1026.7 285.3h0"/>
<path stroke="#e75263" d="M1147.6 258.9h0M1093.8 265.3h0M1307.2 388.6h0M1280.7 307.4h0M967.3 284.6h0M543.5 762h0M615.3 686.9h0M1023.8 316.2h0M1096.4 272.4h0M1253.4 329.3h0M920.6 282.7h0M962.3 287.4h0M1054.4 304.4h0M598 688.1h0M602.2 737.5h0M845.4 353h0M594.2 747.8h0M1021.8 281.9h0M966.2 291.1h0M1128.9 266.8h0M848.6 342.2h0M814.4 315.7h0M965.7 373.1h0M925.4 294.5h0M1096 249.6h0M1288.1 931h0M1042 669h0M672 600.8h0M845.3 343h0M953.5 294.8h0M1009.7 269.1h0M937 296.7h0M945.3 430.3h0M1022 390.2h0M1046.8 269.1h0M848.8 361.7h0M1206.1 341.7h0M972.6 404.9h0M1107.7 275.6h0M901.1 323.2h0M597.8 736.8h0M1346.8 365.4h0M1023.7 256.7h0M1029.2 287.7h0M1231.3 299.4h0M942.3 276.6h0M870.4 285.9h0M1007 276.1h0M873.5 385.6h0M963.7 265.3h0M682.4 730.3h0M1049.8 429.4h0M909.4 383.5h0M1061.7 263.4h0M877.2 315.4h0M882 286.1h0M996.1 270h0M993.7 294.1h0M1004.9 261.3h0M817.5 320.9h0M867.4 378.7h0M976.9 289.4h0M1032.8 254.3h0M893.1 275.3h0M1038.4 242.1h0M987.5 286.7h0M917.9 280.4h0M987.8 255.4h0M1023.1 268h0M885.2 306.8h0M983.5 291.7h0M964.3 270.7h0M1160.8 254.1h0"/>
<path stroke="#f05f5e" d="M990.7 339.3h0M965.9 275.6h0M1027.1 254.6h0M963.6 292h0M938.4 363.8h0M817.4 315.2h0M931 288h0M946.9 269.8h0M929.9 285h0M944.6 300.1h0M1098 245.9h0M590.2 746.3h0M947.1 287h0M453.3 649.9h0M551.5 731.5h0M918 270.1h0M888.5 347.6h0M1001.3 284.8h0M981.8 340.6h0M1006.6 253.3h0M1180.2 252.2h0M973.6 294h0M977.3 258.9h0M833.8 301h0M1064 274.4h0M1061.8 256h0M971.4 288.8h0M1054.5 286.2h0M965.8 400.1h0M957.9 344.7h0M953.2 433.2h0M960.8 420.7h0M1010.3 276.2h0M858.9 348.2h0M988.3 368.7h0M861.3 371h0M1035.1 247.2h0M859.2 358.7h0M1015.1 263.8h0M837.8 334.8h0M1037.4 260h0M1055.1 280.4h0M979.5 288.3h0M1040 303.5h0M949.4 285h0M851.1 319.6h0M1351 345h0M1013.5 266.7h0M1023.4 262.3h0M957.1 279.8h0M861 308h0"/>
<path stroke="#f66e5c" d="M902.3 302.6h0M899.3 268.2h0M956.9 275.9h0M905.4 285.3h0M428 650.7h0M956.7 270.8h0M1034.6 273.1h0M957.7 296.2h0M868.1 301h0M915.3 277.7h0M920.5 294.7h0M975.6 325h0M857.6 362.4h0M915.4 297.5h0M978.9 273.7h0M980 296.9h0M1030.1 306.1h0M1008.3 285.4h0M845.1 307.5h0M1083.8 315.1h0M874.6 374h0M1032.9 287.5h0M849.9 355.4h0M939.1 274.7h0M904.3 292.3h0M872.9 298.1h0M870.1 372.3h0M894.1 289.3h0M1020.4 369h0M899.9 273.1h0M1027 280.1h0M863.9 365h0M914.8 330.2h0M882.3 303.9h0M1069 249.5h0M853.6 372.4h0M966.2 280.6h0M1055.3 289.1h0M1018.7 259.7h0M868.8 288.8h0M959.8 269h0M865.2 368h0M913.1 290.6h0M854.5 352.7h0M937.8 357.5h0M1022.1 279.3h0M873 382.5h0M875.6 376.5h0M1026.7 261.5h0M939.4 271.2h0M878.6 302.4h0M872.6 391.6h0M977.8 286h0M953.2 284.7h0"/>
<path stroke="#fa7f5e" d="M867 283h0M975.5 297h0M835.7 348.4h0M902.8 270.5h0M970.6 301.9h0M880 310.5h0M866.2 309.5h0M1035.3 307.4h0M880 306.5h0M886.8 284.2h0M889.6 292.6h0M929.8 389.9h0M813.7 321.7h0M994.2 405.9h0M1004.5 274.1h0M885.3 300.3h0M997.5 298h0M1492 1000.8h0M1159.5 269.1h0M839.9 318.4h0M970.2 294.1h0M864 386.4h0M916.6 300.1h0M1014.4 418.5h0M828.9 338.3h0M873.7 305.2h0M970.9 284.8h0M871.7 317h0M902.1 281.8h0M1087 266.2h0M1111.6 375.5h0M844.2 286h0M951.6 346.9h0M1011.2 299.4h0M831.1 365h0M1171.2 265.4h0M854.1 292.2h0M862.9 382.9h0M949.1 331.4h0M971.4 268.4h0M988.6 262.2h0M1004.4 279.1h0M937.4 278.4h0M1015 278.4h0M978.8 268.7h0M839.4 352.4h0M932.6 282.1h0M826.7 297h0M917.4 409.3h0M538.7 776h0M875.8 285.1h0M977.8 265h0M850.1 293.2h0M935.9 292.9h0M1023.3 251.6h0M1039.7 258.3h0M926.2 291.2h0M820.9 319h0M853.5 364.5h0"/>
<path stroke="#fc9065" d="M1009.7 279.3h0M877.6 311.5h0M990.9 263.8h0M954.6 266.1h0M932 293.7h0M844.1 293h0M909.5 282.5h0M983.5 273.5h0M1268.2 602.7h0M824.2 343.7h0M825.3 318.3h0M818.4 325.4h0M821.6 327.8h0M1120.7 254.9h0M1032.3 242h0M959.5 278.8h0M909 270.5h0M1018.2 253.1h0M834.3 291.2h0M853.6 324.7h0M982.2 265.7h0M955.6 261.2h0M840.2 359.4h0M990 270.3h0M928.6 272.4h0M872.5 309.5h0M859.1 352.1h0M823.8 307.7h0M816.5 329.1h0M460.8 1048.3h0M557.3 726.1h0M831 335.8h0M882.9 310.8h0M984.8 279.6h0M865.8 320.8h0M889.1 282h0M864.2 297.2h0M842 340.8h0M873.1 314.5h0M802.9 309.5h0M877.5 290.5h0M826.3 303.8h0M907.2 289.1h0M953.5 300.4h0M951.2 288.3h0M888.8 298.5h0M824.7 339.2h0M820.7 309.8h0M872.1 282.9h0M802.2 317.1h0M1033 270h0M872.5 388.4h0M882.9 384.4h0M893.1 282.5h0M869.8 357.7h0M877.8 391.1h0M870.7 378.2h0M934.2 315.8h0"/>
<path stroke="#fea16e" d="M838.7 322h0M858.1 325.6h0M922 269.1h0M881.4 389.8h0M844 322.8h0M1024.4 246.1h0M970.3 277.4h0M1042.9 284.4h0M831.4 318.6h0M842.7 345h0M828.9 344.2h0M867.4 312.2h0M868.9 320.7h0M926.9 286h0M968.4 268.4h0M800.9 311.5h0M822.5 346.4h0M844.7 356.3h0M851.5 351.4h0M850.6 297.4h0M940.3 298.9h0M950.4 303.2h0M890.7 288.8h0M901.2 295.1h0M989.3 278.1h0M884 281.4h0M912.9 354.4h0M920.1 333.7h0M896.8 311.6h0M858.6 284.2h0M857.5 298.6h0M911.4 285.8h0M1041.5 337.8h0M850.8 346.5h0M919.4 399.1h0M843 362h0M845.8 336.8h0M826.9 328.2h0M847.4 332.3h0M864.5 376.2h0M787 319.3h0M843.2 304.7h0M832.2 326.7h0M893.1 300.4h0M847.8 315.8h0M841.3 337h0M822.1 352.9h0M833 349.8h0M903.9 343.3h0M842.6 348.2h0M837.6 354h0M872.6 395.1h0M917.2 291.5h0M798.4 320.3h0"/>
<path stroke="#feb27a" d="M831.6 330.4h0M859.4 376.3h0M942.3 284.4h0M963.7 278.1h0M972.5 365.6h0M834.5 325h0M917.8 285.8h0M911.4 276.9h0M830.9 346.6h0M847.5 347.3h0M876 379.5h0M761.2 341.8h0M754.6 345.6h0M669 735h0M544 744.8h0M1019.5 265.2h0M784.5 318.9h0M855.1 302.5h0M769.6 336.8h0M837.6 345.6h0M953.9 288.2h0M840.6 355.9h0M747.3 349.6h0M777.8 332.5h0M907.6 276.9h0M773.9 329.8h0M870.1 385.1h0M863.7 289.4h0M864.6 371.4h0M913.3 280.5h0M881.3 346.2h0M849 288.2h0M1033 250.8h0M833.9 307h0M818.9 355.3h0M887.3 296h0M869 388.3h0M860.3 365.8h0M878.7 281.6h0M852 300.1h0M766.3 334.8h0M840.7 298.6h0M874.9 289.5h0M755 348.3h0M874.4 383.9h0M866.9 374.3h0M841.8 332.1h0M830 352.9h0M824.7 301.7h0M851.7 335.4h0M763.3 345h0M957.1 268.1h0M870.7 276h0"/>
<path stroke="#fec488" d="M785.5 324.9h0M783.3 326.4h0M918.4 274.3h0M560 731.5h0M751.7 343h0M866 363.1h0M925 275.8h0M934.9 287.6h0M827.2 347.2h0M741.6 346.1h0M802.5 325h0M838.3 339.2h0M753 340.5h0M845.3 348.7h0M778.1 326.4h0M922.1 276.8h0M893 311.5h0M820.1 347.6h0M757.2 344.4h0M837.4 355.5h0M834.3 336.4h0M857.3 317h0M766.9 328.9h0M844 317.1h0M802.6 321.6h0M896.7 291.5h0M867.5 323h0M914.9 288.5h0M791.3 317.4h0M811.8 306.8h0M857.8 287.3h0M891.3 279.2h0M830 306.3h0M769.8 333.6h0M795.8 324h0M746.4 352.2h0M780.9 328.6h0M885.9 278.9h0M883.6 314.7h0M871.9 365.9h0M789.4 320.3h0M852 317.1h0M862.3 361h0M885.5 271.9h0M896.8 284h0M804.4 313.3h0M819.5 305.1h0M750 349.7h0M922.4 284.8h0M855.5 283.7h0M799.1 307.3h0"/>
<path stroke="#fed597" d="M793.6 322.8h0M770.7 331.1h0M880.1 384.6h0M888.5 315.3h0M851.5 367.7h0M776.8 329h0M764.2 331.2h0M851.2 357.8h0M764.6 337.2h0M773.2 333.2h0M845.6 362.8h0M852.5 361.3h0M872.7 293.8h0M863.8 358.8h0M870.2 374.9h0M867.3 316.7h0"/>
<path stroke="#fde5a7" d="M994.8 435h0M829.1 331.7h0M866.7 382.9h0M798.2 316.6h0M796.8 314.2h0M749.8 346.3h0M877.4 388.1h0M758.8 339.8h0M903 276.5h0M744.4 346h0M785.5 327.7h0M847 292.4h0"/>
<path stroke="#fcf6b8" d="M978.5 346.8h0M829.1 355.6h0M833.5 357.1h0M1014.3 430.5h0M814.9 312.2h0M868.3 293.7h0M833.7 346.4h0"/>
</g>
<g stroke="#000" stroke-width="4.45" fill="none" stroke-linecap="butt">
<path d="M205.4 142.6V1304.8"/>
<path d="M203.2 1302.6H1871.2"/>
<path d="M190.8 263.5H205.4M190.8 592.3H205.4M190.8 921.2H205.4M190.8 1250H205.4"/>
<path d="M280.8 1302.6V1317.2M658.9 1302.6V1317.2M1037 1302.6V1317.2M1415.2 1302.6V1317.2M1793.3 1302.6V1317.2"/>
</g>
<g font-size="50" text-anchor="end">
<text x="178.2" y="281.5">10</text>
<text x="178.2" y="610.4">5</text>
<text x="178.2" y="939.3">0</text>
<text x="178.2" y="1268.1">-5</text>
</g>
<g font-size="50" text-anchor="middle">
<text x="280.8" y="1366.3">-5</text>
<text x="658.9" y="1366.3">0</text>
<text x="1037" y="1366.3">5</text>
<text x="1415.2" y="1366.3">10</text>
<text x="1793.3" y="1366.3">15</text>
</g>
<text x="1038.3" y="1435" font-size="58.33" text-anchor="middle">UMAP_1</text>
<text transform="translate(94.6,722.6) rotate(-90)" font-size="58.33" text-anchor="middle">UMAP_2</text>
<text transform="translate(1037.2,101.2) scale(0.945,1)" font-size="70" font-weight="bold" text-anchor="middle">DGAT2</text>
<rect x="1927" y="578.4" width="64" height="319.6" fill="url(#mg)"/>
<g stroke="#fff" stroke-width="1.9" fill="none">
<path d="M1927 613.9h12.8M1978.2 613.9h12.8M1927 708.3h12.8M1978.2 708.3h12.8M1927 802.8h12.8M1978.2 802.8h12.8M1927 897.3h12.8M1978.2 897.3h12.8"/>
</g>
<g font-size="51">
<text x="2019.3" y="632.3">3</text>
<text x="2019.3" y="726.7">2</text>
<text x="2019.3" y="821.2">1</text>
<text x="2019.3" y="915.7">0</text>
</g>
</svg>
</body></html>
